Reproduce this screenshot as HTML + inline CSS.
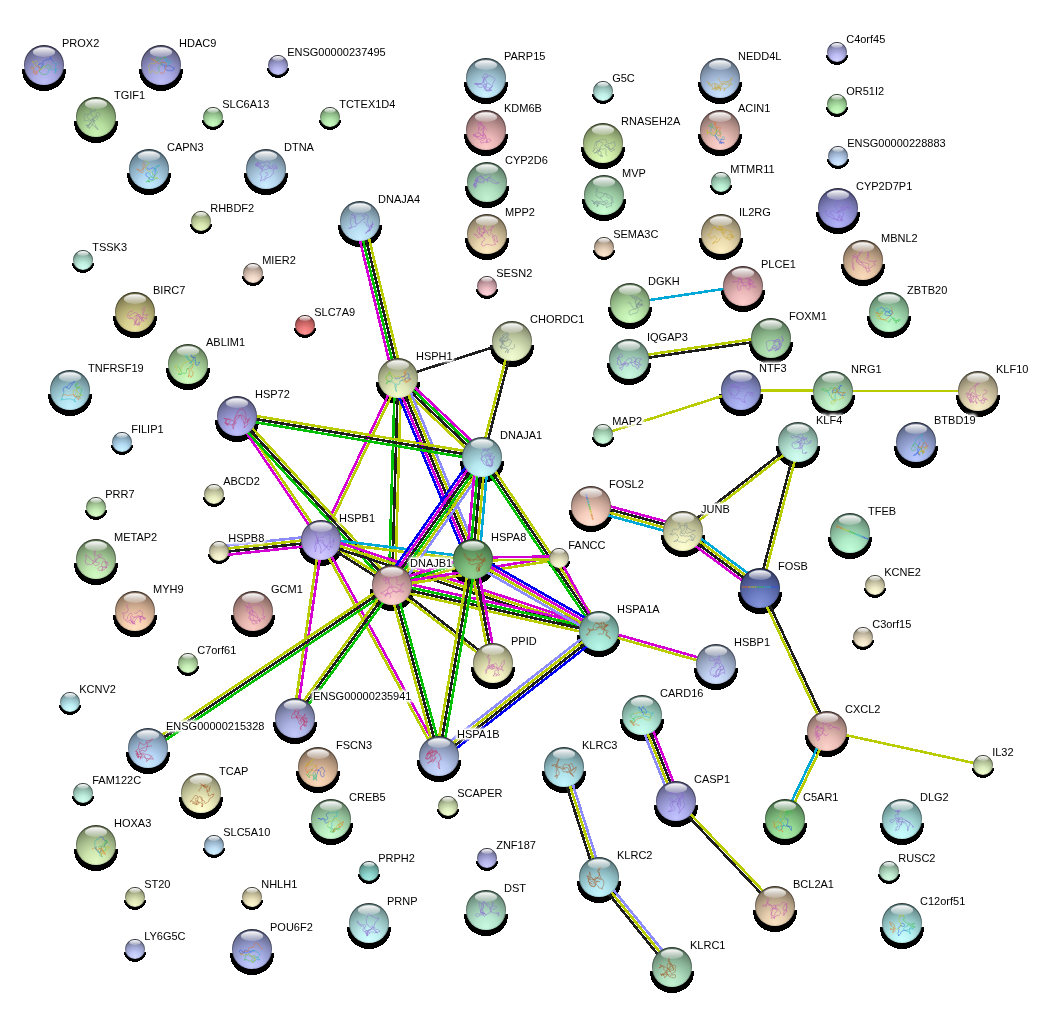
<!DOCTYPE html><html><head><meta charset="utf-8"><style>html,body{margin:0;padding:0;background:#fff;width:1053px;height:1012px;overflow:hidden;position:relative}svg{display:block;position:absolute;left:0;top:0}.lb{position:absolute;font-family:"Liberation Sans",sans-serif;font-size:11px;line-height:13px;color:#000;white-space:nowrap;text-shadow:0 0 2px #fff}svg text{font-family:"Liberation Sans",sans-serif;font-size:11px;fill:#000}svg .halo text{fill:#fff;stroke:#fff;stroke-width:4px;stroke-linejoin:round}</style></head><body>
<svg width="1053" height="1012" viewBox="0 0 1053 1012">
<defs>
<linearGradient id="hl" x1="0" y1="0" x2="0" y2="1"><stop offset="0" stop-color="#fff" stop-opacity="1"/><stop offset="1" stop-color="#fff" stop-opacity=".2"/></linearGradient>
<radialGradient id="g0" cx="0.5" cy="0.85" r="0.9" fx="0.5" fy="0.92"><stop offset="0" stop-color="#bfbff7"/><stop offset="0.3" stop-color="#aaaae4"/><stop offset="0.6" stop-color="#8686b8"/><stop offset="0.85" stop-color="#616185"/><stop offset="1" stop-color="#42425a"/></radialGradient>
<radialGradient id="g1" cx="0.5" cy="0.85" r="0.9" fx="0.5" fy="0.92"><stop offset="0" stop-color="#cacaff"/><stop offset="0.3" stop-color="#b6b6ee"/><stop offset="0.6" stop-color="#9090c1"/><stop offset="0.85" stop-color="#68688b"/><stop offset="1" stop-color="#47475e"/></radialGradient>
<radialGradient id="g2" cx="0.5" cy="0.85" r="0.9" fx="0.5" fy="0.92"><stop offset="0" stop-color="#caf2b3"/><stop offset="0.3" stop-color="#b6de9e"/><stop offset="0.6" stop-color="#90b37c"/><stop offset="0.85" stop-color="#688159"/><stop offset="1" stop-color="#47573c"/></radialGradient>
<radialGradient id="g3" cx="0.5" cy="0.85" r="0.9" fx="0.5" fy="0.92"><stop offset="0" stop-color="#cafdc3"/><stop offset="0.3" stop-color="#b6eaae"/><stop offset="0.6" stop-color="#90bd8a"/><stop offset="0.85" stop-color="#688863"/><stop offset="1" stop-color="#475c43"/></radialGradient>
<radialGradient id="g4" cx="0.5" cy="0.85" r="0.9" fx="0.5" fy="0.92"><stop offset="0" stop-color="#c3eaff"/><stop offset="0.3" stop-color="#aed6ee"/><stop offset="0.6" stop-color="#8aacc1"/><stop offset="0.85" stop-color="#637c8b"/><stop offset="1" stop-color="#43545e"/></radialGradient>
<radialGradient id="g5" cx="0.5" cy="0.85" r="0.9" fx="0.5" fy="0.92"><stop offset="0" stop-color="#caeaff"/><stop offset="0.3" stop-color="#b6d6ee"/><stop offset="0.6" stop-color="#90acc1"/><stop offset="0.85" stop-color="#687c8b"/><stop offset="1" stop-color="#47545e"/></radialGradient>
<radialGradient id="g6" cx="0.5" cy="0.85" r="0.9" fx="0.5" fy="0.92"><stop offset="0" stop-color="#eaf9c3"/><stop offset="0.3" stop-color="#d6e6ae"/><stop offset="0.6" stop-color="#acba8a"/><stop offset="0.85" stop-color="#7c8663"/><stop offset="1" stop-color="#545b43"/></radialGradient>
<radialGradient id="g7" cx="0.5" cy="0.85" r="0.9" fx="0.5" fy="0.92"><stop offset="0" stop-color="#caeeff"/><stop offset="0.3" stop-color="#b6daee"/><stop offset="0.6" stop-color="#90afc1"/><stop offset="0.85" stop-color="#687e8b"/><stop offset="1" stop-color="#47565e"/></radialGradient>
<radialGradient id="g8" cx="0.5" cy="0.85" r="0.9" fx="0.5" fy="0.92"><stop offset="0" stop-color="#caf2ff"/><stop offset="0.3" stop-color="#b6deee"/><stop offset="0.6" stop-color="#90b3c1"/><stop offset="0.85" stop-color="#68818b"/><stop offset="1" stop-color="#47575e"/></radialGradient>
<radialGradient id="g9" cx="0.5" cy="0.85" r="0.9" fx="0.5" fy="0.92"><stop offset="0" stop-color="#fdcaca"/><stop offset="0.3" stop-color="#eab6b6"/><stop offset="0.6" stop-color="#bd9090"/><stop offset="0.85" stop-color="#886868"/><stop offset="1" stop-color="#5c4747"/></radialGradient>
<radialGradient id="g10" cx="0.5" cy="0.85" r="0.9" fx="0.5" fy="0.92"><stop offset="0" stop-color="#c3f2d2"/><stop offset="0.3" stop-color="#aedebe"/><stop offset="0.6" stop-color="#8ab397"/><stop offset="0.85" stop-color="#63816d"/><stop offset="1" stop-color="#43574a"/></radialGradient>
<radialGradient id="g11" cx="0.5" cy="0.85" r="0.9" fx="0.5" fy="0.92"><stop offset="0" stop-color="#fdeac3"/><stop offset="0.3" stop-color="#ead6ae"/><stop offset="0.6" stop-color="#bdac8a"/><stop offset="0.85" stop-color="#887c63"/><stop offset="1" stop-color="#5c5443"/></radialGradient>
<radialGradient id="g12" cx="0.5" cy="0.85" r="0.9" fx="0.5" fy="0.92"><stop offset="0" stop-color="#d2fff9"/><stop offset="0.3" stop-color="#beeee6"/><stop offset="0.6" stop-color="#97c1ba"/><stop offset="0.85" stop-color="#6d8b86"/><stop offset="1" stop-color="#4a5e5b"/></radialGradient>
<radialGradient id="g13" cx="0.5" cy="0.85" r="0.9" fx="0.5" fy="0.92"><stop offset="0" stop-color="#cae2ff"/><stop offset="0.3" stop-color="#b6ceee"/><stop offset="0.6" stop-color="#90a5c1"/><stop offset="0.85" stop-color="#68778b"/><stop offset="1" stop-color="#47515e"/></radialGradient>
<radialGradient id="g14" cx="0.5" cy="0.85" r="0.9" fx="0.5" fy="0.92"><stop offset="0" stop-color="#e2fdbb"/><stop offset="0.3" stop-color="#ceeaa6"/><stop offset="0.6" stop-color="#a5bd83"/><stop offset="0.85" stop-color="#77885e"/><stop offset="1" stop-color="#515c40"/></radialGradient>
<radialGradient id="g15" cx="0.5" cy="0.85" r="0.9" fx="0.5" fy="0.92"><stop offset="0" stop-color="#fdd2ca"/><stop offset="0.3" stop-color="#eabeb6"/><stop offset="0.6" stop-color="#bd9790"/><stop offset="0.85" stop-color="#886d68"/><stop offset="1" stop-color="#5c4a47"/></radialGradient>
<radialGradient id="g16" cx="0.5" cy="0.85" r="0.9" fx="0.5" fy="0.92"><stop offset="0" stop-color="#cafde2"/><stop offset="0.3" stop-color="#b6eace"/><stop offset="0.6" stop-color="#90bda5"/><stop offset="0.85" stop-color="#688877"/><stop offset="1" stop-color="#475c51"/></radialGradient>
<radialGradient id="g17" cx="0.5" cy="0.85" r="0.9" fx="0.5" fy="0.92"><stop offset="0" stop-color="#cafdd2"/><stop offset="0.3" stop-color="#b6eabe"/><stop offset="0.6" stop-color="#90bd97"/><stop offset="0.85" stop-color="#68886d"/><stop offset="1" stop-color="#475c4a"/></radialGradient>
<radialGradient id="g18" cx="0.5" cy="0.85" r="0.9" fx="0.5" fy="0.92"><stop offset="0" stop-color="#fdeec3"/><stop offset="0.3" stop-color="#eadaae"/><stop offset="0.6" stop-color="#bdaf8a"/><stop offset="0.85" stop-color="#887e63"/><stop offset="1" stop-color="#5c5643"/></radialGradient>
<radialGradient id="g19" cx="0.5" cy="0.85" r="0.9" fx="0.5" fy="0.92"><stop offset="0" stop-color="#ffead2"/><stop offset="0.3" stop-color="#eed6be"/><stop offset="0.6" stop-color="#c1ac97"/><stop offset="0.85" stop-color="#8b7c6d"/><stop offset="1" stop-color="#5e544a"/></radialGradient>
<radialGradient id="g20" cx="0.5" cy="0.85" r="0.9" fx="0.5" fy="0.92"><stop offset="0" stop-color="#d2d2ff"/><stop offset="0.3" stop-color="#bebef6"/><stop offset="0.6" stop-color="#9797c8"/><stop offset="0.85" stop-color="#6d6d90"/><stop offset="1" stop-color="#4a4a61"/></radialGradient>
<radialGradient id="g21" cx="0.5" cy="0.85" r="0.9" fx="0.5" fy="0.92"><stop offset="0" stop-color="#caffc3"/><stop offset="0.3" stop-color="#b6eeae"/><stop offset="0.6" stop-color="#90c18a"/><stop offset="0.85" stop-color="#688b63"/><stop offset="1" stop-color="#475e43"/></radialGradient>
<radialGradient id="g22" cx="0.5" cy="0.85" r="0.9" fx="0.5" fy="0.92"><stop offset="0" stop-color="#d2eaff"/><stop offset="0.3" stop-color="#bed6f6"/><stop offset="0.6" stop-color="#97acc8"/><stop offset="0.85" stop-color="#6d7c90"/><stop offset="1" stop-color="#4a5461"/></radialGradient>
<radialGradient id="g23" cx="0.5" cy="0.85" r="0.9" fx="0.5" fy="0.92"><stop offset="0" stop-color="#b3b3f9"/><stop offset="0.3" stop-color="#9e9ee6"/><stop offset="0.6" stop-color="#7c7cba"/><stop offset="0.85" stop-color="#595986"/><stop offset="1" stop-color="#3c3c5b"/></radialGradient>
<radialGradient id="g24" cx="0.5" cy="0.85" r="0.9" fx="0.5" fy="0.92"><stop offset="0" stop-color="#f9dabb"/><stop offset="0.3" stop-color="#e6c6a6"/><stop offset="0.6" stop-color="#ba9e83"/><stop offset="0.85" stop-color="#86725e"/><stop offset="1" stop-color="#5b4d40"/></radialGradient>
<radialGradient id="g25" cx="0.5" cy="0.85" r="0.9" fx="0.5" fy="0.92"><stop offset="0" stop-color="#c3fdd2"/><stop offset="0.3" stop-color="#aeeabe"/><stop offset="0.6" stop-color="#8abd97"/><stop offset="0.85" stop-color="#63886d"/><stop offset="1" stop-color="#435c4a"/></radialGradient>
<radialGradient id="g26" cx="0.5" cy="0.85" r="0.9" fx="0.5" fy="0.92"><stop offset="0" stop-color="#d2fff2"/><stop offset="0.3" stop-color="#beeede"/><stop offset="0.6" stop-color="#97c1b3"/><stop offset="0.85" stop-color="#6d8b81"/><stop offset="1" stop-color="#4a5e57"/></radialGradient>
<radialGradient id="g27" cx="0.5" cy="0.85" r="0.9" fx="0.5" fy="0.92"><stop offset="0" stop-color="#ffeada"/><stop offset="0.3" stop-color="#eed6c6"/><stop offset="0.6" stop-color="#c1ac9e"/><stop offset="0.85" stop-color="#8b7c72"/><stop offset="1" stop-color="#5e544d"/></radialGradient>
<radialGradient id="g28" cx="0.5" cy="0.85" r="0.9" fx="0.5" fy="0.92"><stop offset="0" stop-color="#eae2a3"/><stop offset="0.3" stop-color="#d6ce8e"/><stop offset="0.6" stop-color="#aca56e"/><stop offset="0.85" stop-color="#7c774f"/><stop offset="1" stop-color="#545136"/></radialGradient>
<radialGradient id="g29" cx="0.5" cy="0.85" r="0.9" fx="0.5" fy="0.92"><stop offset="0" stop-color="#d2fdc3"/><stop offset="0.3" stop-color="#beeaae"/><stop offset="0.6" stop-color="#97bd8a"/><stop offset="0.85" stop-color="#6d8863"/><stop offset="1" stop-color="#4a5c43"/></radialGradient>
<radialGradient id="g30" cx="0.5" cy="0.85" r="0.9" fx="0.5" fy="0.92"><stop offset="0" stop-color="#c3f2fd"/><stop offset="0.3" stop-color="#aedeea"/><stop offset="0.6" stop-color="#8ab3bd"/><stop offset="0.85" stop-color="#638188"/><stop offset="1" stop-color="#43575c"/></radialGradient>
<radialGradient id="g31" cx="0.5" cy="0.85" r="0.9" fx="0.5" fy="0.92"><stop offset="0" stop-color="#bfbffd"/><stop offset="0.3" stop-color="#aaaaea"/><stop offset="0.6" stop-color="#8686bd"/><stop offset="0.85" stop-color="#616188"/><stop offset="1" stop-color="#42425c"/></radialGradient>
<radialGradient id="g32" cx="0.5" cy="0.85" r="0.9" fx="0.5" fy="0.92"><stop offset="0" stop-color="#caf2ff"/><stop offset="0.3" stop-color="#b6def6"/><stop offset="0.6" stop-color="#90b3c8"/><stop offset="0.85" stop-color="#688190"/><stop offset="1" stop-color="#475761"/></radialGradient>
<radialGradient id="g33" cx="0.5" cy="0.85" r="0.9" fx="0.5" fy="0.92"><stop offset="0" stop-color="#f9fdd2"/><stop offset="0.3" stop-color="#e6eabe"/><stop offset="0.6" stop-color="#babd97"/><stop offset="0.85" stop-color="#86886d"/><stop offset="1" stop-color="#5b5c4a"/></radialGradient>
<radialGradient id="g34" cx="0.5" cy="0.85" r="0.9" fx="0.5" fy="0.92"><stop offset="0" stop-color="#ff9494"/><stop offset="0.3" stop-color="#ee7e7e"/><stop offset="0.6" stop-color="#c16060"/><stop offset="0.85" stop-color="#8b4545"/><stop offset="1" stop-color="#5e2f2f"/></radialGradient>
<radialGradient id="g35" cx="0.5" cy="0.85" r="0.9" fx="0.5" fy="0.92"><stop offset="0" stop-color="#ffd2da"/><stop offset="0.3" stop-color="#eebec6"/><stop offset="0.6" stop-color="#c1979e"/><stop offset="0.85" stop-color="#8b6d72"/><stop offset="1" stop-color="#5e4a4d"/></radialGradient>
<radialGradient id="g36" cx="0.5" cy="0.85" r="0.9" fx="0.5" fy="0.92"><stop offset="0" stop-color="#f2f9ca"/><stop offset="0.3" stop-color="#dee6b6"/><stop offset="0.6" stop-color="#b3ba90"/><stop offset="0.85" stop-color="#818668"/><stop offset="1" stop-color="#575b47"/></radialGradient>
<radialGradient id="g37" cx="0.5" cy="0.85" r="0.9" fx="0.5" fy="0.92"><stop offset="0" stop-color="#f2fdd2"/><stop offset="0.3" stop-color="#deeabe"/><stop offset="0.6" stop-color="#b3bd97"/><stop offset="0.85" stop-color="#81886d"/><stop offset="1" stop-color="#575c4a"/></radialGradient>
<radialGradient id="g38" cx="0.5" cy="0.85" r="0.9" fx="0.5" fy="0.92"><stop offset="0" stop-color="#caf9ff"/><stop offset="0.3" stop-color="#b6e6ee"/><stop offset="0.6" stop-color="#90bac1"/><stop offset="0.85" stop-color="#68868b"/><stop offset="1" stop-color="#475b5e"/></radialGradient>
<radialGradient id="g39" cx="0.5" cy="0.85" r="0.9" fx="0.5" fy="0.92"><stop offset="0" stop-color="#fdcccc"/><stop offset="0.3" stop-color="#eab8b8"/><stop offset="0.6" stop-color="#bd9292"/><stop offset="0.85" stop-color="#886969"/><stop offset="1" stop-color="#5c4747"/></radialGradient>
<radialGradient id="g40" cx="0.5" cy="0.85" r="0.9" fx="0.5" fy="0.92"><stop offset="0" stop-color="#caf9e2"/><stop offset="0.3" stop-color="#b6e6ce"/><stop offset="0.6" stop-color="#90baa5"/><stop offset="0.85" stop-color="#688677"/><stop offset="1" stop-color="#475b51"/></radialGradient>
<radialGradient id="g41" cx="0.5" cy="0.85" r="0.9" fx="0.5" fy="0.92"><stop offset="0" stop-color="#bbeabb"/><stop offset="0.3" stop-color="#a6d6a6"/><stop offset="0.6" stop-color="#83ac83"/><stop offset="0.85" stop-color="#5e7c5e"/><stop offset="1" stop-color="#405440"/></radialGradient>
<radialGradient id="g42" cx="0.5" cy="0.85" r="0.9" fx="0.5" fy="0.92"><stop offset="0" stop-color="#b3bbf9"/><stop offset="0.3" stop-color="#9ea6e6"/><stop offset="0.6" stop-color="#7c83ba"/><stop offset="0.85" stop-color="#595e86"/><stop offset="1" stop-color="#3c405b"/></radialGradient>
<radialGradient id="g43" cx="0.5" cy="0.85" r="0.9" fx="0.5" fy="0.92"><stop offset="0" stop-color="#d2ffe2"/><stop offset="0.3" stop-color="#beeece"/><stop offset="0.6" stop-color="#97c1a5"/><stop offset="0.85" stop-color="#6d8b77"/><stop offset="1" stop-color="#4a5e51"/></radialGradient>
<radialGradient id="g44" cx="0.5" cy="0.85" r="0.9" fx="0.5" fy="0.92"><stop offset="0" stop-color="#caf9d2"/><stop offset="0.3" stop-color="#b6e6be"/><stop offset="0.6" stop-color="#90ba97"/><stop offset="0.85" stop-color="#68866d"/><stop offset="1" stop-color="#475b4a"/></radialGradient>
<radialGradient id="g45" cx="0.5" cy="0.85" r="0.9" fx="0.5" fy="0.92"><stop offset="0" stop-color="#f9eeca"/><stop offset="0.3" stop-color="#e6dab6"/><stop offset="0.6" stop-color="#baaf90"/><stop offset="0.85" stop-color="#867e68"/><stop offset="1" stop-color="#5b5647"/></radialGradient>
<radialGradient id="g46" cx="0.5" cy="0.85" r="0.9" fx="0.5" fy="0.92"><stop offset="0" stop-color="#bbcafd"/><stop offset="0.3" stop-color="#a6b6ea"/><stop offset="0.6" stop-color="#8390bd"/><stop offset="0.85" stop-color="#5e6888"/><stop offset="1" stop-color="#40475c"/></radialGradient>
<radialGradient id="g47" cx="0.5" cy="0.85" r="0.9" fx="0.5" fy="0.92"><stop offset="0" stop-color="#daffca"/><stop offset="0.3" stop-color="#c6eeb6"/><stop offset="0.6" stop-color="#9ec190"/><stop offset="0.85" stop-color="#728b68"/><stop offset="1" stop-color="#4d5e47"/></radialGradient>
<radialGradient id="g48" cx="0.5" cy="0.85" r="0.9" fx="0.5" fy="0.92"><stop offset="0" stop-color="#d2f9c3"/><stop offset="0.3" stop-color="#bee6ae"/><stop offset="0.6" stop-color="#97ba8a"/><stop offset="0.85" stop-color="#6d8663"/><stop offset="1" stop-color="#4a5b43"/></radialGradient>
<radialGradient id="g49" cx="0.5" cy="0.85" r="0.9" fx="0.5" fy="0.92"><stop offset="0" stop-color="#fffdda"/><stop offset="0.3" stop-color="#eeeac6"/><stop offset="0.6" stop-color="#c1bd9e"/><stop offset="0.85" stop-color="#8b8872"/><stop offset="1" stop-color="#5e5c4d"/></radialGradient>
<radialGradient id="g50" cx="0.5" cy="0.85" r="0.9" fx="0.5" fy="0.92"><stop offset="0" stop-color="#ffe2c3"/><stop offset="0.3" stop-color="#f6ceae"/><stop offset="0.6" stop-color="#c8a58a"/><stop offset="0.85" stop-color="#907763"/><stop offset="1" stop-color="#615143"/></radialGradient>
<radialGradient id="g51" cx="0.5" cy="0.85" r="0.9" fx="0.5" fy="0.92"><stop offset="0" stop-color="#f9cac3"/><stop offset="0.3" stop-color="#e6b6ae"/><stop offset="0.6" stop-color="#ba908a"/><stop offset="0.85" stop-color="#866863"/><stop offset="1" stop-color="#5b4743"/></radialGradient>
<radialGradient id="g52" cx="0.5" cy="0.85" r="0.9" fx="0.5" fy="0.92"><stop offset="0" stop-color="#d2ffff"/><stop offset="0.3" stop-color="#beeef6"/><stop offset="0.6" stop-color="#97c1c8"/><stop offset="0.85" stop-color="#6d8b90"/><stop offset="1" stop-color="#4a5e61"/></radialGradient>
<radialGradient id="g53" cx="0.5" cy="0.85" r="0.9" fx="0.5" fy="0.92"><stop offset="0" stop-color="#d2caff"/><stop offset="0.3" stop-color="#beb6f6"/><stop offset="0.6" stop-color="#9790c8"/><stop offset="0.85" stop-color="#6d6890"/><stop offset="1" stop-color="#4a4761"/></radialGradient>
<radialGradient id="g54" cx="0.5" cy="0.85" r="0.9" fx="0.5" fy="0.92"><stop offset="0" stop-color="#ffd2d2"/><stop offset="0.3" stop-color="#eebebe"/><stop offset="0.6" stop-color="#c19797"/><stop offset="0.85" stop-color="#8b6d6d"/><stop offset="1" stop-color="#5e4a4a"/></radialGradient>
<radialGradient id="g55" cx="0.5" cy="0.85" r="0.9" fx="0.5" fy="0.92"><stop offset="0" stop-color="#94d294"/><stop offset="0.3" stop-color="#7ebe7e"/><stop offset="0.6" stop-color="#609760"/><stop offset="0.85" stop-color="#456d45"/><stop offset="1" stop-color="#2f4a2f"/></radialGradient>
<radialGradient id="g56" cx="0.5" cy="0.85" r="0.9" fx="0.5" fy="0.92"><stop offset="0" stop-color="#ffffd2"/><stop offset="0.3" stop-color="#eeeebe"/><stop offset="0.6" stop-color="#c1c197"/><stop offset="0.85" stop-color="#8b8b6d"/><stop offset="1" stop-color="#5e5e4a"/></radialGradient>
<radialGradient id="g57" cx="0.5" cy="0.85" r="0.9" fx="0.5" fy="0.92"><stop offset="0" stop-color="#c3caf9"/><stop offset="0.3" stop-color="#aeb6e6"/><stop offset="0.6" stop-color="#8a90ba"/><stop offset="0.85" stop-color="#636886"/><stop offset="1" stop-color="#43475b"/></radialGradient>
<radialGradient id="g58" cx="0.5" cy="0.85" r="0.9" fx="0.5" fy="0.92"><stop offset="0" stop-color="#ffe2d2"/><stop offset="0.3" stop-color="#f6cebe"/><stop offset="0.6" stop-color="#c8a597"/><stop offset="0.85" stop-color="#90776d"/><stop offset="1" stop-color="#61514a"/></radialGradient>
<radialGradient id="g59" cx="0.5" cy="0.85" r="0.9" fx="0.5" fy="0.92"><stop offset="0" stop-color="#8494da"/><stop offset="0.3" stop-color="#6d7ec6"/><stop offset="0.6" stop-color="#53609e"/><stop offset="0.85" stop-color="#3c4572"/><stop offset="1" stop-color="#282f4d"/></radialGradient>
<radialGradient id="g60" cx="0.5" cy="0.85" r="0.9" fx="0.5" fy="0.92"><stop offset="0" stop-color="#b9f8ea"/><stop offset="0.3" stop-color="#a4e5d6"/><stop offset="0.6" stop-color="#81b9ac"/><stop offset="0.85" stop-color="#5d857c"/><stop offset="1" stop-color="#3f5a54"/></radialGradient>
<radialGradient id="g61" cx="0.5" cy="0.85" r="0.9" fx="0.5" fy="0.92"><stop offset="0" stop-color="#d2e2ff"/><stop offset="0.3" stop-color="#beceee"/><stop offset="0.6" stop-color="#97a5c1"/><stop offset="0.85" stop-color="#6d778b"/><stop offset="1" stop-color="#4a515e"/></radialGradient>
<radialGradient id="g62" cx="0.5" cy="0.85" r="0.9" fx="0.5" fy="0.92"><stop offset="0" stop-color="#cafff2"/><stop offset="0.3" stop-color="#b6eede"/><stop offset="0.6" stop-color="#90c1b3"/><stop offset="0.85" stop-color="#688b81"/><stop offset="1" stop-color="#475e57"/></radialGradient>
<radialGradient id="g63" cx="0.5" cy="0.85" r="0.9" fx="0.5" fy="0.92"><stop offset="0" stop-color="#c3fdda"/><stop offset="0.3" stop-color="#aeeac6"/><stop offset="0.6" stop-color="#8abd9e"/><stop offset="0.85" stop-color="#638872"/><stop offset="1" stop-color="#435c4d"/></radialGradient>
<radialGradient id="g64" cx="0.5" cy="0.85" r="0.9" fx="0.5" fy="0.92"><stop offset="0" stop-color="#fff5da"/><stop offset="0.3" stop-color="#eee2c6"/><stop offset="0.6" stop-color="#c1b69e"/><stop offset="0.85" stop-color="#8b8372"/><stop offset="1" stop-color="#5e594d"/></radialGradient>
<radialGradient id="g65" cx="0.5" cy="0.85" r="0.9" fx="0.5" fy="0.92"><stop offset="0" stop-color="#caeaff"/><stop offset="0.3" stop-color="#b6d6f6"/><stop offset="0.6" stop-color="#90acc8"/><stop offset="0.85" stop-color="#687c90"/><stop offset="1" stop-color="#475461"/></radialGradient>
<radialGradient id="g66" cx="0.5" cy="0.85" r="0.9" fx="0.5" fy="0.92"><stop offset="0" stop-color="#e2f9c3"/><stop offset="0.3" stop-color="#cee6ae"/><stop offset="0.6" stop-color="#a5ba8a"/><stop offset="0.85" stop-color="#778663"/><stop offset="1" stop-color="#515b43"/></radialGradient>
<radialGradient id="g67" cx="0.5" cy="0.85" r="0.9" fx="0.5" fy="0.92"><stop offset="0" stop-color="#d2f2ff"/><stop offset="0.3" stop-color="#bedef6"/><stop offset="0.6" stop-color="#97b3c8"/><stop offset="0.85" stop-color="#6d8190"/><stop offset="1" stop-color="#4a5761"/></radialGradient>
<radialGradient id="g68" cx="0.5" cy="0.85" r="0.9" fx="0.5" fy="0.92"><stop offset="0" stop-color="#fff9d2"/><stop offset="0.3" stop-color="#eee6be"/><stop offset="0.6" stop-color="#c1ba97"/><stop offset="0.85" stop-color="#8b866d"/><stop offset="1" stop-color="#5e5b4a"/></radialGradient>
<radialGradient id="g69" cx="0.5" cy="0.85" r="0.9" fx="0.5" fy="0.92"><stop offset="0" stop-color="#d2daff"/><stop offset="0.3" stop-color="#bec6f6"/><stop offset="0.6" stop-color="#979ec8"/><stop offset="0.85" stop-color="#6d7290"/><stop offset="1" stop-color="#4a4d61"/></radialGradient>
<radialGradient id="g70" cx="0.5" cy="0.85" r="0.9" fx="0.5" fy="0.92"><stop offset="0" stop-color="#c3caff"/><stop offset="0.3" stop-color="#aeb6ee"/><stop offset="0.6" stop-color="#8a90c1"/><stop offset="0.85" stop-color="#63688b"/><stop offset="1" stop-color="#43475e"/></radialGradient>
<radialGradient id="g71" cx="0.5" cy="0.85" r="0.9" fx="0.5" fy="0.92"><stop offset="0" stop-color="#fddabb"/><stop offset="0.3" stop-color="#eac6a6"/><stop offset="0.6" stop-color="#bd9e83"/><stop offset="0.85" stop-color="#88725e"/><stop offset="1" stop-color="#5c4d40"/></radialGradient>
<radialGradient id="g72" cx="0.5" cy="0.85" r="0.9" fx="0.5" fy="0.92"><stop offset="0" stop-color="#cadaff"/><stop offset="0.3" stop-color="#b6c6ee"/><stop offset="0.6" stop-color="#909ec1"/><stop offset="0.85" stop-color="#68728b"/><stop offset="1" stop-color="#474d5e"/></radialGradient>
<radialGradient id="g73" cx="0.5" cy="0.85" r="0.9" fx="0.5" fy="0.92"><stop offset="0" stop-color="#f2ffd2"/><stop offset="0.3" stop-color="#deeebe"/><stop offset="0.6" stop-color="#b3c197"/><stop offset="0.85" stop-color="#818b6d"/><stop offset="1" stop-color="#575e4a"/></radialGradient>
<radialGradient id="g74" cx="0.5" cy="0.85" r="0.9" fx="0.5" fy="0.92"><stop offset="0" stop-color="#a3eae2"/><stop offset="0.3" stop-color="#8ed6ce"/><stop offset="0.6" stop-color="#6eaca5"/><stop offset="0.85" stop-color="#4f7c77"/><stop offset="1" stop-color="#365451"/></radialGradient>
<radialGradient id="g75" cx="0.5" cy="0.85" r="0.9" fx="0.5" fy="0.92"><stop offset="0" stop-color="#d2ffff"/><stop offset="0.3" stop-color="#beeeee"/><stop offset="0.6" stop-color="#97c1c1"/><stop offset="0.85" stop-color="#6d8b8b"/><stop offset="1" stop-color="#4a5e5e"/></radialGradient>
<radialGradient id="g76" cx="0.5" cy="0.85" r="0.9" fx="0.5" fy="0.92"><stop offset="0" stop-color="#c3f5fd"/><stop offset="0.3" stop-color="#aee2ea"/><stop offset="0.6" stop-color="#8ab6bd"/><stop offset="0.85" stop-color="#638388"/><stop offset="1" stop-color="#43595c"/></radialGradient>
<radialGradient id="g77" cx="0.5" cy="0.85" r="0.9" fx="0.5" fy="0.92"><stop offset="0" stop-color="#c3c3ff"/><stop offset="0.3" stop-color="#aeaeee"/><stop offset="0.6" stop-color="#8a8ac1"/><stop offset="0.85" stop-color="#63638b"/><stop offset="1" stop-color="#43435e"/></radialGradient>
<radialGradient id="g78" cx="0.5" cy="0.85" r="0.9" fx="0.5" fy="0.92"><stop offset="0" stop-color="#f9e2c3"/><stop offset="0.3" stop-color="#e6ceae"/><stop offset="0.6" stop-color="#baa58a"/><stop offset="0.85" stop-color="#867763"/><stop offset="1" stop-color="#5b5143"/></radialGradient>
<radialGradient id="g79" cx="0.5" cy="0.85" r="0.9" fx="0.5" fy="0.92"><stop offset="0" stop-color="#abeeab"/><stop offset="0.3" stop-color="#96da96"/><stop offset="0.6" stop-color="#75af75"/><stop offset="0.85" stop-color="#547e54"/><stop offset="1" stop-color="#395639"/></radialGradient>
<radialGradient id="g80" cx="0.5" cy="0.85" r="0.9" fx="0.5" fy="0.92"><stop offset="0" stop-color="#caffff"/><stop offset="0.3" stop-color="#b6eeee"/><stop offset="0.6" stop-color="#90c1c1"/><stop offset="0.85" stop-color="#688b8b"/><stop offset="1" stop-color="#475e5e"/></radialGradient>
<radialGradient id="g81" cx="0.5" cy="0.85" r="0.9" fx="0.5" fy="0.92"><stop offset="0" stop-color="#d2fde2"/><stop offset="0.3" stop-color="#beeace"/><stop offset="0.6" stop-color="#97bda5"/><stop offset="0.85" stop-color="#6d8877"/><stop offset="1" stop-color="#4a5c51"/></radialGradient>
<linearGradient id="rim" x1="0" y1="0" x2="0" y2="1"><stop offset="0" stop-color="#000" stop-opacity=".5"/><stop offset=".6" stop-color="#000" stop-opacity=".25"/><stop offset="1" stop-color="#000" stop-opacity=".05"/></linearGradient>
<filter id="blur" x="-10%" y="-50%" width="120%" height="200%"><feGaussianBlur stdDeviation="1.5"/><feComponentTransfer><feFuncA type="linear" slope="1.2"/></feComponentTransfer></filter>
</defs>
<g fill="#000" shape-rendering="crispEdges">
<path d="M22.04 69.00 H65.96 A22.00 20.80 0 1 1 22.04 69.00 Z"/>
<path d="M139.04 69.00 H182.96 A22.00 20.80 0 1 1 139.04 69.00 Z"/>
<path d="M267.00 67.70 H289.00 A11.00 10.40 0 1 1 267.00 67.70 Z"/>
<path d="M74.04 121.00 H117.96 A22.00 20.80 0 1 1 74.04 121.00 Z"/>
<path d="M202.00 119.70 H224.00 A11.00 10.40 0 1 1 202.00 119.70 Z"/>
<path d="M319.00 119.70 H341.00 A11.00 10.40 0 1 1 319.00 119.70 Z"/>
<path d="M127.04 173.00 H170.96 A22.00 20.80 0 1 1 127.04 173.00 Z"/>
<path d="M244.04 173.00 H287.96 A22.00 20.80 0 1 1 244.04 173.00 Z"/>
<path d="M190.00 223.70 H212.00 A11.00 10.40 0 1 1 190.00 223.70 Z"/>
<path d="M338.04 225.00 H381.96 A22.00 20.80 0 1 1 338.04 225.00 Z"/>
<path d="M464.04 82.00 H507.96 A22.00 20.80 0 1 1 464.04 82.00 Z"/>
<path d="M464.04 134.00 H507.96 A22.00 20.80 0 1 1 464.04 134.00 Z"/>
<path d="M465.04 186.00 H508.96 A22.00 20.80 0 1 1 465.04 186.00 Z"/>
<path d="M465.04 238.00 H508.96 A22.00 20.80 0 1 1 465.04 238.00 Z"/>
<path d="M592.00 93.70 H614.00 A11.00 10.40 0 1 1 592.00 93.70 Z"/>
<path d="M698.04 82.00 H741.96 A22.00 20.80 0 1 1 698.04 82.00 Z"/>
<path d="M581.04 147.00 H624.96 A22.00 20.80 0 1 1 581.04 147.00 Z"/>
<path d="M698.04 134.00 H741.96 A22.00 20.80 0 1 1 698.04 134.00 Z"/>
<path d="M710.00 184.70 H732.00 A11.00 10.40 0 1 1 710.00 184.70 Z"/>
<path d="M582.04 199.00 H625.96 A22.00 20.80 0 1 1 582.04 199.00 Z"/>
<path d="M699.04 238.00 H742.96 A22.00 20.80 0 1 1 699.04 238.00 Z"/>
<path d="M593.00 249.70 H615.00 A11.00 10.40 0 1 1 593.00 249.70 Z"/>
<path d="M826.00 54.70 H848.00 A11.00 10.40 0 1 1 826.00 54.70 Z"/>
<path d="M826.00 106.70 H848.00 A11.00 10.40 0 1 1 826.00 106.70 Z"/>
<path d="M827.00 158.70 H849.00 A11.00 10.40 0 1 1 827.00 158.70 Z"/>
<path d="M816.04 212.00 H859.96 A22.00 20.80 0 1 1 816.04 212.00 Z"/>
<path d="M841.04 264.00 H884.96 A22.00 20.80 0 1 1 841.04 264.00 Z"/>
<path d="M867.04 316.00 H910.96 A22.00 20.80 0 1 1 867.04 316.00 Z"/>
<path d="M72.00 262.70 H94.00 A11.00 10.40 0 1 1 72.00 262.70 Z"/>
<path d="M242.00 275.70 H264.00 A11.00 10.40 0 1 1 242.00 275.70 Z"/>
<path d="M113.04 316.00 H156.96 A22.00 20.80 0 1 1 113.04 316.00 Z"/>
<path d="M166.04 368.00 H209.96 A22.00 20.80 0 1 1 166.04 368.00 Z"/>
<path d="M48.04 394.00 H91.96 A22.00 20.80 0 1 1 48.04 394.00 Z"/>
<path d="M215.04 420.00 H258.96 A22.00 20.80 0 1 1 215.04 420.00 Z"/>
<path d="M111.00 444.70 H133.00 A11.00 10.40 0 1 1 111.00 444.70 Z"/>
<path d="M203.00 496.70 H225.00 A11.00 10.40 0 1 1 203.00 496.70 Z"/>
<path d="M294.00 327.70 H316.00 A11.00 10.40 0 1 1 294.00 327.70 Z"/>
<path d="M476.00 288.70 H498.00 A11.00 10.40 0 1 1 476.00 288.70 Z"/>
<path d="M376.04 382.00 H419.96 A22.00 20.80 0 1 1 376.04 382.00 Z"/>
<path d="M490.04 345.00 H533.96 A22.00 20.80 0 1 1 490.04 345.00 Z"/>
<path d="M460.04 461.00 H503.96 A22.00 20.80 0 1 1 460.04 461.00 Z"/>
<path d="M608.04 307.00 H651.96 A22.00 20.80 0 1 1 608.04 307.00 Z"/>
<path d="M721.04 290.00 H764.96 A22.00 20.80 0 1 1 721.04 290.00 Z"/>
<path d="M607.04 363.00 H650.96 A22.00 20.80 0 1 1 607.04 363.00 Z"/>
<path d="M749.04 342.00 H792.96 A22.00 20.80 0 1 1 749.04 342.00 Z"/>
<path d="M719.04 394.00 H762.96 A22.00 20.80 0 1 1 719.04 394.00 Z"/>
<path d="M592.00 436.70 H614.00 A11.00 10.40 0 1 1 592.00 436.70 Z"/>
<path d="M776.04 446.00 H819.96 A22.00 20.80 0 1 1 776.04 446.00 Z"/>
<path d="M811.04 395.00 H854.96 A22.00 20.80 0 1 1 811.04 395.00 Z"/>
<path d="M956.04 395.00 H999.96 A22.00 20.80 0 1 1 956.04 395.00 Z"/>
<path d="M894.04 446.00 H937.96 A22.00 20.80 0 1 1 894.04 446.00 Z"/>
<path d="M85.00 509.70 H107.00 A11.00 10.40 0 1 1 85.00 509.70 Z"/>
<path d="M74.04 563.00 H117.96 A22.00 20.80 0 1 1 74.04 563.00 Z"/>
<path d="M208.00 553.70 H230.00 A11.00 10.40 0 1 1 208.00 553.70 Z"/>
<path d="M113.04 615.00 H156.96 A22.00 20.80 0 1 1 113.04 615.00 Z"/>
<path d="M231.04 615.00 H274.96 A22.00 20.80 0 1 1 231.04 615.00 Z"/>
<path d="M177.00 665.70 H199.00 A11.00 10.40 0 1 1 177.00 665.70 Z"/>
<path d="M59.00 704.70 H81.00 A11.00 10.40 0 1 1 59.00 704.70 Z"/>
<path d="M299.04 544.00 H342.96 A22.00 20.80 0 1 1 299.04 544.00 Z"/>
<path d="M370.04 589.00 H413.96 A22.00 20.80 0 1 1 370.04 589.00 Z"/>
<path d="M451.04 563.00 H494.96 A22.00 20.80 0 1 1 451.04 563.00 Z"/>
<path d="M471.04 667.00 H514.96 A22.00 20.80 0 1 1 471.04 667.00 Z"/>
<path d="M273.04 722.00 H316.96 A22.00 20.80 0 1 1 273.04 722.00 Z"/>
<path d="M569.04 510.00 H612.96 A22.00 20.80 0 1 1 569.04 510.00 Z"/>
<path d="M661.04 535.00 H704.96 A22.00 20.80 0 1 1 661.04 535.00 Z"/>
<path d="M548.00 560.70 H570.00 A11.00 10.40 0 1 1 548.00 560.70 Z"/>
<path d="M738.04 592.00 H781.96 A22.00 20.80 0 1 1 738.04 592.00 Z"/>
<path d="M577.04 635.00 H620.96 A22.00 20.80 0 1 1 577.04 635.00 Z"/>
<path d="M694.04 668.00 H737.96 A22.00 20.80 0 1 1 694.04 668.00 Z"/>
<path d="M620.04 719.00 H663.96 A22.00 20.80 0 1 1 620.04 719.00 Z"/>
<path d="M828.04 537.00 H871.96 A22.00 20.80 0 1 1 828.04 537.00 Z"/>
<path d="M864.00 587.70 H886.00 A11.00 10.40 0 1 1 864.00 587.70 Z"/>
<path d="M852.00 639.70 H874.00 A11.00 10.40 0 1 1 852.00 639.70 Z"/>
<path d="M805.04 735.00 H848.96 A22.00 20.80 0 1 1 805.04 735.00 Z"/>
<path d="M126.04 752.00 H169.96 A22.00 20.80 0 1 1 126.04 752.00 Z"/>
<path d="M72.00 795.70 H94.00 A11.00 10.40 0 1 1 72.00 795.70 Z"/>
<path d="M179.04 797.00 H222.96 A22.00 20.80 0 1 1 179.04 797.00 Z"/>
<path d="M74.04 849.00 H117.96 A22.00 20.80 0 1 1 74.04 849.00 Z"/>
<path d="M203.00 847.70 H225.00 A11.00 10.40 0 1 1 203.00 847.70 Z"/>
<path d="M124.00 899.70 H146.00 A11.00 10.40 0 1 1 124.00 899.70 Z"/>
<path d="M241.00 899.70 H263.00 A11.00 10.40 0 1 1 241.00 899.70 Z"/>
<path d="M124.00 951.70 H146.00 A11.00 10.40 0 1 1 124.00 951.70 Z"/>
<path d="M230.04 953.00 H273.96 A22.00 20.80 0 1 1 230.04 953.00 Z"/>
<path d="M296.04 771.00 H339.96 A22.00 20.80 0 1 1 296.04 771.00 Z"/>
<path d="M417.04 760.00 H460.96 A22.00 20.80 0 1 1 417.04 760.00 Z"/>
<path d="M309.04 823.00 H352.96 A22.00 20.80 0 1 1 309.04 823.00 Z"/>
<path d="M437.00 808.70 H459.00 A11.00 10.40 0 1 1 437.00 808.70 Z"/>
<path d="M358.00 873.70 H380.00 A11.00 10.40 0 1 1 358.00 873.70 Z"/>
<path d="M476.00 860.70 H498.00 A11.00 10.40 0 1 1 476.00 860.70 Z"/>
<path d="M347.04 927.00 H390.96 A22.00 20.80 0 1 1 347.04 927.00 Z"/>
<path d="M464.04 914.00 H507.96 A22.00 20.80 0 1 1 464.04 914.00 Z"/>
<path d="M542.04 771.00 H585.96 A22.00 20.80 0 1 1 542.04 771.00 Z"/>
<path d="M654.04 805.00 H697.96 A22.00 20.80 0 1 1 654.04 805.00 Z"/>
<path d="M577.04 881.00 H620.96 A22.00 20.80 0 1 1 577.04 881.00 Z"/>
<path d="M753.04 910.00 H796.96 A22.00 20.80 0 1 1 753.04 910.00 Z"/>
<path d="M650.04 971.00 H693.96 A22.00 20.80 0 1 1 650.04 971.00 Z"/>
<path d="M763.04 823.00 H806.96 A22.00 20.80 0 1 1 763.04 823.00 Z"/>
<path d="M972.00 767.70 H994.00 A11.00 10.40 0 1 1 972.00 767.70 Z"/>
<path d="M880.04 823.00 H923.96 A22.00 20.80 0 1 1 880.04 823.00 Z"/>
<path d="M878.00 873.70 H900.00 A11.00 10.40 0 1 1 878.00 873.70 Z"/>
<path d="M880.04 927.00 H923.96 A22.00 20.80 0 1 1 880.04 927.00 Z"/>
</g>
<g stroke-width="2.6" fill="none" shape-rendering="crispEdges">
<line x1="355.5" y1="222.1" x2="393.5" y2="379.1" stroke="#d400d4"/>
<line x1="358.5" y1="221.4" x2="396.5" y2="378.4" stroke="#00c000"/>
<line x1="361.5" y1="220.6" x2="399.5" y2="377.6" stroke="#1e1e1e"/>
<line x1="364.5" y1="219.9" x2="402.5" y2="376.9" stroke="#b8cc00"/>
<line x1="398.0" y1="378.0" x2="512.0" y2="341.0" stroke="#1e1e1e"/>
<line x1="510.5" y1="340.6" x2="480.5" y2="456.6" stroke="#b8cc00"/>
<line x1="513.5" y1="341.4" x2="483.5" y2="457.4" stroke="#1e1e1e"/>
<line x1="401.2" y1="374.6" x2="485.2" y2="453.6" stroke="#d400d4"/>
<line x1="399.1" y1="376.9" x2="483.1" y2="455.9" stroke="#00c000"/>
<line x1="396.9" y1="379.1" x2="480.9" y2="458.1" stroke="#1e1e1e"/>
<line x1="394.8" y1="381.4" x2="478.8" y2="460.4" stroke="#b8cc00"/>
<line x1="396.6" y1="377.3" x2="319.6" y2="539.3" stroke="#d400d4"/>
<line x1="399.4" y1="378.7" x2="322.4" y2="540.7" stroke="#b8cc00"/>
<line x1="394.9" y1="377.9" x2="388.9" y2="584.9" stroke="#00c000"/>
<line x1="398.0" y1="378.0" x2="392.0" y2="585.0" stroke="#1e1e1e"/>
<line x1="401.1" y1="378.1" x2="395.1" y2="585.1" stroke="#b8cc00"/>
<line x1="392.3" y1="380.4" x2="467.3" y2="561.4" stroke="#0000f0"/>
<line x1="395.1" y1="379.2" x2="470.1" y2="560.2" stroke="#d400d4"/>
<line x1="398.0" y1="378.0" x2="473.0" y2="559.0" stroke="#1e1e1e"/>
<line x1="400.9" y1="376.8" x2="475.9" y2="557.8" stroke="#b8cc00"/>
<line x1="403.7" y1="375.6" x2="478.7" y2="556.6" stroke="#8c8cff"/>
<line x1="237.5" y1="412.9" x2="482.5" y2="453.9" stroke="#b8cc00"/>
<line x1="237.0" y1="416.0" x2="482.0" y2="457.0" stroke="#1e1e1e"/>
<line x1="236.5" y1="419.1" x2="481.5" y2="460.1" stroke="#00c000"/>
<line x1="235.7" y1="416.9" x2="319.7" y2="540.9" stroke="#d400d4"/>
<line x1="238.3" y1="415.1" x2="322.3" y2="539.1" stroke="#b8cc00"/>
<line x1="234.7" y1="418.1" x2="389.7" y2="587.1" stroke="#00c000"/>
<line x1="237.0" y1="416.0" x2="392.0" y2="585.0" stroke="#1e1e1e"/>
<line x1="239.3" y1="413.9" x2="394.3" y2="582.9" stroke="#b8cc00"/>
<line x1="320.5" y1="535.4" x2="218.5" y2="546.4" stroke="#8c8cff"/>
<line x1="320.8" y1="538.5" x2="218.8" y2="549.5" stroke="#b8cc00"/>
<line x1="321.2" y1="541.5" x2="219.2" y2="552.5" stroke="#1e1e1e"/>
<line x1="321.5" y1="544.6" x2="219.5" y2="555.6" stroke="#d400d4"/>
<line x1="321.2" y1="538.5" x2="473.2" y2="557.5" stroke="#00a8d8"/>
<line x1="320.8" y1="541.5" x2="472.8" y2="560.5" stroke="#b8cc00"/>
<line x1="321.8" y1="538.7" x2="392.8" y2="583.7" stroke="#b8cc00"/>
<line x1="320.2" y1="541.3" x2="391.2" y2="586.3" stroke="#1e1e1e"/>
<line x1="319.5" y1="539.8" x2="293.5" y2="717.8" stroke="#b8cc00"/>
<line x1="322.5" y1="540.2" x2="296.5" y2="718.2" stroke="#d400d4"/>
<line x1="319.6" y1="540.7" x2="437.6" y2="756.7" stroke="#b8cc00"/>
<line x1="322.4" y1="539.3" x2="440.4" y2="755.3" stroke="#d400d4"/>
<line x1="322.0" y1="537.1" x2="600.0" y2="628.1" stroke="#d400d4"/>
<line x1="321.0" y1="540.0" x2="599.0" y2="631.0" stroke="#b8cc00"/>
<line x1="320.0" y1="542.9" x2="598.0" y2="633.9" stroke="#1e1e1e"/>
<line x1="385.7" y1="580.5" x2="475.7" y2="452.5" stroke="#0000f0"/>
<line x1="388.2" y1="582.3" x2="478.2" y2="454.3" stroke="#d400d4"/>
<line x1="390.7" y1="584.1" x2="480.7" y2="456.1" stroke="#1e1e1e"/>
<line x1="393.3" y1="585.9" x2="483.3" y2="457.9" stroke="#00c000"/>
<line x1="395.8" y1="587.7" x2="485.8" y2="459.7" stroke="#b8cc00"/>
<line x1="398.3" y1="589.5" x2="488.3" y2="461.5" stroke="#8c8cff"/>
<line x1="391.1" y1="582.0" x2="472.1" y2="556.0" stroke="#d400d4"/>
<line x1="392.0" y1="585.0" x2="473.0" y2="559.0" stroke="#00c000"/>
<line x1="392.9" y1="588.0" x2="473.9" y2="562.0" stroke="#b8cc00"/>
<line x1="393.0" y1="580.5" x2="600.0" y2="626.5" stroke="#d400d4"/>
<line x1="392.3" y1="583.5" x2="599.3" y2="629.5" stroke="#00c000"/>
<line x1="391.7" y1="586.5" x2="598.7" y2="632.5" stroke="#1e1e1e"/>
<line x1="391.0" y1="589.5" x2="598.0" y2="635.5" stroke="#b8cc00"/>
<line x1="391.8" y1="583.5" x2="558.8" y2="556.5" stroke="#d400d4"/>
<line x1="392.2" y1="586.5" x2="559.2" y2="559.5" stroke="#b8cc00"/>
<line x1="392.9" y1="583.8" x2="493.9" y2="661.8" stroke="#1e1e1e"/>
<line x1="391.1" y1="586.2" x2="492.1" y2="664.2" stroke="#b8cc00"/>
<line x1="390.3" y1="582.4" x2="146.3" y2="745.4" stroke="#b8cc00"/>
<line x1="392.0" y1="585.0" x2="148.0" y2="748.0" stroke="#1e1e1e"/>
<line x1="393.7" y1="587.6" x2="149.7" y2="750.6" stroke="#00c000"/>
<line x1="389.5" y1="583.2" x2="292.5" y2="716.2" stroke="#b8cc00"/>
<line x1="392.0" y1="585.0" x2="295.0" y2="718.0" stroke="#1e1e1e"/>
<line x1="394.5" y1="586.8" x2="297.5" y2="719.8" stroke="#00c000"/>
<line x1="389.0" y1="585.8" x2="436.0" y2="756.8" stroke="#b8cc00"/>
<line x1="392.0" y1="585.0" x2="439.0" y2="756.0" stroke="#1e1e1e"/>
<line x1="395.0" y1="584.2" x2="442.0" y2="755.2" stroke="#00c000"/>
<line x1="475.8" y1="456.5" x2="466.8" y2="558.5" stroke="#d400d4"/>
<line x1="478.9" y1="456.7" x2="469.9" y2="558.7" stroke="#00c000"/>
<line x1="482.0" y1="457.0" x2="473.0" y2="559.0" stroke="#1e1e1e"/>
<line x1="485.1" y1="457.3" x2="476.1" y2="559.3" stroke="#b8cc00"/>
<line x1="488.2" y1="457.5" x2="479.2" y2="559.5" stroke="#00a8d8"/>
<line x1="479.4" y1="458.7" x2="596.4" y2="632.7" stroke="#00c000"/>
<line x1="482.0" y1="457.0" x2="599.0" y2="631.0" stroke="#1e1e1e"/>
<line x1="484.6" y1="455.3" x2="601.6" y2="629.3" stroke="#b8cc00"/>
<line x1="475.3" y1="555.0" x2="601.3" y2="627.0" stroke="#0000f0"/>
<line x1="473.8" y1="557.7" x2="599.8" y2="629.7" stroke="#d400d4"/>
<line x1="472.2" y1="560.3" x2="598.2" y2="632.3" stroke="#b8cc00"/>
<line x1="470.7" y1="563.0" x2="596.7" y2="635.0" stroke="#8c8cff"/>
<line x1="473.0" y1="557.5" x2="559.0" y2="556.5" stroke="#d400d4"/>
<line x1="473.0" y1="560.5" x2="559.0" y2="559.5" stroke="#b8cc00"/>
<line x1="470.0" y1="559.6" x2="490.0" y2="663.6" stroke="#b8cc00"/>
<line x1="473.0" y1="559.0" x2="493.0" y2="663.0" stroke="#1e1e1e"/>
<line x1="476.0" y1="558.4" x2="496.0" y2="662.4" stroke="#d400d4"/>
<line x1="469.9" y1="558.5" x2="435.9" y2="755.5" stroke="#b8cc00"/>
<line x1="473.0" y1="559.0" x2="439.0" y2="756.0" stroke="#1e1e1e"/>
<line x1="476.1" y1="559.5" x2="442.1" y2="756.5" stroke="#00c000"/>
<line x1="559.0" y1="558.0" x2="599.0" y2="631.0" stroke="#d400d4"/>
<line x1="596.1" y1="627.3" x2="436.1" y2="752.3" stroke="#8c8cff"/>
<line x1="598.0" y1="629.8" x2="438.0" y2="754.8" stroke="#b8cc00"/>
<line x1="600.0" y1="632.2" x2="440.0" y2="757.2" stroke="#1e1e1e"/>
<line x1="601.9" y1="634.7" x2="441.9" y2="759.7" stroke="#0000f0"/>
<line x1="599.4" y1="629.5" x2="716.4" y2="662.5" stroke="#d400d4"/>
<line x1="598.6" y1="632.5" x2="715.6" y2="665.5" stroke="#b8cc00"/>
<line x1="592.2" y1="501.5" x2="684.2" y2="526.5" stroke="#d400d4"/>
<line x1="591.4" y1="504.5" x2="683.4" y2="529.5" stroke="#1e1e1e"/>
<line x1="590.6" y1="507.5" x2="682.6" y2="532.5" stroke="#b8cc00"/>
<line x1="589.8" y1="510.5" x2="681.8" y2="535.5" stroke="#00a8d8"/>
<line x1="685.8" y1="527.3" x2="762.8" y2="584.3" stroke="#00a8d8"/>
<line x1="683.9" y1="529.8" x2="760.9" y2="586.8" stroke="#b8cc00"/>
<line x1="682.1" y1="532.2" x2="759.1" y2="589.2" stroke="#1e1e1e"/>
<line x1="680.2" y1="534.7" x2="757.2" y2="591.7" stroke="#d400d4"/>
<line x1="682.1" y1="529.8" x2="797.1" y2="440.8" stroke="#1e1e1e"/>
<line x1="683.9" y1="532.2" x2="798.9" y2="443.2" stroke="#b8cc00"/>
<line x1="796.5" y1="441.6" x2="758.5" y2="587.6" stroke="#1e1e1e"/>
<line x1="799.5" y1="442.4" x2="761.5" y2="588.4" stroke="#b8cc00"/>
<line x1="758.6" y1="588.7" x2="825.6" y2="731.7" stroke="#b8cc00"/>
<line x1="761.4" y1="587.3" x2="828.4" y2="730.3" stroke="#1e1e1e"/>
<line x1="827.0" y1="731.0" x2="983.0" y2="765.0" stroke="#b8cc00"/>
<line x1="825.6" y1="730.3" x2="783.6" y2="818.3" stroke="#00a8d8"/>
<line x1="828.4" y1="731.7" x2="786.4" y2="819.7" stroke="#b8cc00"/>
<line x1="637.7" y1="716.7" x2="671.7" y2="802.7" stroke="#8c8cff"/>
<line x1="640.6" y1="715.6" x2="674.6" y2="801.6" stroke="#b8cc00"/>
<line x1="643.4" y1="714.4" x2="677.4" y2="800.4" stroke="#1e1e1e"/>
<line x1="646.3" y1="713.3" x2="680.3" y2="799.3" stroke="#d400d4"/>
<line x1="674.9" y1="802.1" x2="773.9" y2="907.1" stroke="#1e1e1e"/>
<line x1="677.1" y1="799.9" x2="776.1" y2="904.9" stroke="#b8cc00"/>
<line x1="561.0" y1="767.9" x2="596.0" y2="877.9" stroke="#1e1e1e"/>
<line x1="564.0" y1="767.0" x2="599.0" y2="877.0" stroke="#b8cc00"/>
<line x1="567.0" y1="766.1" x2="602.0" y2="876.1" stroke="#8c8cff"/>
<line x1="596.6" y1="879.0" x2="669.6" y2="969.0" stroke="#1e1e1e"/>
<line x1="599.0" y1="877.0" x2="672.0" y2="967.0" stroke="#b8cc00"/>
<line x1="601.4" y1="875.0" x2="674.4" y2="965.0" stroke="#8c8cff"/>
<line x1="630.0" y1="303.0" x2="743.0" y2="286.0" stroke="#00a8d8"/>
<line x1="628.8" y1="357.5" x2="770.8" y2="336.5" stroke="#b8cc00"/>
<line x1="629.2" y1="360.5" x2="771.2" y2="339.5" stroke="#1e1e1e"/>
<line x1="603.0" y1="434.0" x2="741.0" y2="390.0" stroke="#b8cc00"/>
<line x1="741.0" y1="390.0" x2="833.0" y2="391.0" stroke="#b8cc00"/>
<line x1="833.0" y1="391.0" x2="978.0" y2="391.0" stroke="#b8cc00"/>
</g>
<circle cx="44" cy="65" r="20" fill="url(#g0)"/>
<circle cx="44" cy="65" r="19.5" fill="none" stroke="url(#rim)" stroke-width="1"/>
<path d="M42.6 63.9L41.4 63.9L40.2 63.8L39.0 64.0L38.6 65.2L38.1 66.3L38.8 67.2L39.6 68.1L40.8 68.0L41.4 66.9L41.8 65.8L42.9 65.2L43.2 64.1L42.8 63.0L42.7 61.8L43.7 61.0L44.7 60.5L45.7 59.7L46.8 60.1L47.7 59.3L48.9 59.5L50.1 59.1L50.6 58.0L50.1 56.9L51.0 57.7L51.1 58.9L52.0 59.8L52.7 60.7L53.1 61.9" fill="none" stroke="#2050e0" stroke-width="0.7" stroke-opacity=".65"/>
<path d="M53.1 61.9L53.8 62.8L54.4 63.9L55.6 64.0L56.4 63.1L56.3 64.3L55.8 65.4L55.4 66.5L55.6 67.7L55.5 68.9L55.5 70.1L56.1 71.2L55.9 72.4L55.2 73.3L55.2 72.1L55.5 71.0L55.8 69.8L56.9 69.3L55.7 69.2L54.6 69.7L53.6 69.0L52.4 69.3L51.3 69.8L50.1 69.6L49.2 70.3L48.2 71.0L48.3 72.2L47.9 73.3L47.0 74.1" fill="none" stroke="#20b0c0" stroke-width="0.7" stroke-opacity=".65"/>
<path d="M47.0 74.1L46.0 74.7L44.8 74.3L43.6 74.5L42.5 74.1L41.4 73.5L40.5 72.7L39.5 72.1L39.3 70.9L40.1 70.0L40.9 69.1L41.9 68.5L42.0 67.3L42.6 66.3L43.6 65.5L44.7 66.0L45.2 67.0L46.2 67.7L47.3 68.1L48.2 68.9L49.4 68.5L50.5 68.1L51.0 67.0L50.5 65.9L49.3 65.7L48.5 64.8L47.3 64.8L46.3 65.5L45.5 66.4" fill="none" stroke="#30c040" stroke-width="0.7" stroke-opacity=".65"/>
<path d="M45.5 66.4L44.3 66.4L43.6 67.4L43.0 68.4L42.2 69.4L41.0 69.5L40.1 68.8L39.9 67.6L39.1 66.6L38.3 65.8L37.2 65.3L36.8 64.2L37.6 63.3L37.5 62.1L36.7 61.2L35.5 61.0L34.4 61.4L33.3 61.9L32.1 62.1L33.0 61.3L33.3 62.5L33.8 63.6L34.6 64.5L35.3 65.5L34.8 66.6L33.9 67.4L33.0 68.2L31.9 68.7L30.7 68.7" fill="none" stroke="#c0c020" stroke-width="0.7" stroke-opacity=".65"/>
<path d="M30.7 68.7L31.3 67.7L32.5 67.5L33.6 68.1L33.9 69.2L33.5 70.3L33.3 71.5L33.4 72.7L34.4 73.4L35.2 74.3L36.4 74.3L37.0 73.2L36.9 72.0L36.0 71.2L34.9 70.8L33.9 71.4L34.1 72.6L35.0 73.4L36.2 73.2L37.2 72.6L37.3 71.4L38.2 70.6L39.3 70.1L39.6 68.9L39.4 67.8L38.8 66.7L37.9 65.9L36.7 66.1L35.7 65.3" fill="none" stroke="#e07020" stroke-width="0.7" stroke-opacity=".65"/>
<ellipse cx="44" cy="52.1" rx="11.2" ry="4.9" fill="url(#hl)"/>
<circle cx="161" cy="65" r="20" fill="url(#g0)"/>
<circle cx="161" cy="65" r="19.5" fill="none" stroke="url(#rim)" stroke-width="1"/>
<path d="M164.9 65.8L164.3 66.8L164.7 68.0L165.4 68.9L166.5 69.4L167.1 70.4L168.2 70.9L169.1 70.1L170.3 70.5L171.4 70.9L172.5 70.4L173.6 70.1L173.9 68.9L174.2 67.7L173.1 68.0L172.0 67.4L171.4 66.4L170.3 65.8L169.1 65.6L168.1 66.3L166.9 66.2L165.7 66.1L164.8 65.3L163.7 64.9L162.5 65.2L161.4 64.7L161.4 63.5L162.1 62.6L163.3 62.3" fill="none" stroke="#2050e0" stroke-width="0.7" stroke-opacity=".65"/>
<path d="M163.3 62.3L164.4 62.9L165.0 63.9L166.1 64.4L167.1 65.0L168.3 65.2L169.1 64.2L168.7 63.1L167.8 62.3L166.6 62.1L165.6 61.4L165.7 60.2L165.6 59.0L166.6 58.2L167.7 58.7L167.9 59.9L168.4 61.0L169.5 61.5L170.6 61.4L171.5 60.6L171.3 61.7L170.8 62.8L169.7 63.2L168.6 62.6L167.5 62.1L166.7 61.3L166.5 60.1L165.5 59.5L164.7 58.6" fill="none" stroke="#20b0c0" stroke-width="0.7" stroke-opacity=".65"/>
<path d="M164.7 58.6L164.9 57.4L165.8 56.6L164.6 56.8L163.5 57.1L162.8 58.1L161.6 58.5L160.7 59.3L159.5 59.3L158.9 58.3L158.0 57.4L157.0 56.8L157.0 58.0L156.5 59.1L156.8 60.2L157.8 60.8L159.0 60.5L160.0 61.2L160.3 62.3L161.4 62.9L161.8 64.0L161.0 64.9L159.9 65.5L159.1 66.4L158.2 67.2L158.2 68.4L159.2 69.0L159.2 70.2L158.9 71.4" fill="none" stroke="#30c040" stroke-width="0.7" stroke-opacity=".65"/>
<path d="M158.9 71.4L158.4 72.5L157.2 72.7L156.1 73.2L155.0 72.7L154.6 71.6L153.5 71.0L152.3 71.0L151.3 71.6L150.7 72.6L149.9 73.5L150.1 72.3L150.1 71.1L149.2 70.3L149.3 69.1L149.1 68.0L148.7 66.8L148.5 65.6L149.3 64.8L150.0 63.7L151.2 63.7L152.4 63.6L153.6 63.6L154.8 63.6L155.4 62.6L155.9 61.5L155.6 60.4L154.4 60.1L153.6 59.2" fill="none" stroke="#c0c020" stroke-width="0.7" stroke-opacity=".65"/>
<path d="M153.6 59.2L152.4 59.0L151.2 58.9L152.2 59.6L153.2 60.3L154.3 60.7L155.4 61.2L156.5 61.7L157.0 62.8L158.2 63.1L159.3 63.5L160.5 63.3L161.4 62.6L162.6 62.5L163.8 62.4L165.0 62.5L166.0 63.3L166.0 64.5L166.1 65.7L166.0 66.9L165.8 68.0L165.6 69.2L165.0 70.2L164.4 71.3L163.8 72.3L163.2 73.4L162.0 73.5L160.9 73.1L160.4 72.0" fill="none" stroke="#e07020" stroke-width="0.7" stroke-opacity=".65"/>
<ellipse cx="161" cy="52.1" rx="11.2" ry="4.9" fill="url(#hl)"/>
<circle cx="278" cy="65" r="10" fill="url(#g1)"/>
<circle cx="278" cy="65" r="9.5" fill="none" stroke="url(#rim)" stroke-width="1"/>
<ellipse cx="278" cy="58.55" rx="5.6" ry="2.45" fill="url(#hl)"/>
<circle cx="96" cy="117" r="20" fill="url(#g2)"/>
<circle cx="96" cy="117" r="19.5" fill="none" stroke="url(#rim)" stroke-width="1"/>
<path d="M99.5 116.6L99.3 115.4L99.9 114.3L99.5 113.2L98.5 112.7L97.3 112.3L96.4 112.9L95.9 114.0L96.5 115.1L96.7 116.3L96.2 117.3L95.0 117.6L94.4 118.6L93.3 119.2L92.2 119.4L91.5 120.4L90.3 120.6L89.5 119.6L88.4 119.3L88.1 118.1L87.5 117.1L86.9 116.0L87.5 115.0L88.6 114.7L89.2 113.6L89.7 112.5L90.2 111.4L90.2 110.2L89.6 109.2L90.6 109.9L91.2 110.9L92.4 110.9L93.6 111.0L94.8 111.0L95.3 110.0L95.5 108.8L95.9 107.7L95.5 108.8L96.1 109.8L95.5 110.8L94.4 111.3L93.4 110.6L92.2 110.9L91.4 111.7L91.6 112.9L91.1 114.0L91.2 115.2L92.2 115.9L93.2 116.5L93.4 117.7L92.8 118.7L92.8 119.9L93.6 120.8L93.5 121.9L93.1 123.1L92.3 124.0L92.5 125.2L93.6 125.7L94.3 126.6L95.3 127.3L96.4 127.0L97.3 127.8L98.0 128.8L97.8 130.0L97.0 129.2L96.9 128.0L95.9 127.4L95.7 126.2L95.4 125.0L94.7 124.1L94.1 123.0L94.5 121.9L94.4 120.7L93.5 120.0L92.6 119.2L91.4 119.0L90.5 119.8L90.4 121.0L91.3 121.8L92.5 121.8L93.6 121.4L94.4 120.5L95.6 120.2L96.5 119.5L97.4 118.7L97.6 117.5L97.4 116.3L96.3 115.9L95.1 116.2L94.8 117.3L93.9 118.2L92.9 118.9L92.7 120.0L92.4 121.2L91.4 121.7L91.0 122.9L90.0 123.6L89.2 124.4L88.3 125.2L87.1 125.2L85.9 125.5L87.1 125.3L88.3 125.5L88.7 126.6L89.5 127.5L89.4 128.7L90.0 127.7L90.8 126.8L91.5 125.8L91.8 124.7L91.0 123.8L89.8 123.7L89.1 124.7L88.0 125.1L87.2 126.1L87.3 127.3L88.4 127.9L88.1 126.8L88.7 125.7L89.6 125.0L90.2 123.9L90.0 122.8L89.4 121.7L88.6 120.8L87.5 120.6L86.3 120.6L85.2 121.1L84.2 120.5L84.2 119.3L84.3 118.1L83.8 117.1L84.4 116.0L84.6 114.9L84.4 113.7L85.5 114.0L86.7 114.1L87.9 114.1L89.1 114.1L90.1 113.3L91.0 112.6L90.8 111.4" fill="none" stroke="#7a8a90" stroke-width="0.7" stroke-opacity=".65"/>
<ellipse cx="96" cy="104.1" rx="11.2" ry="4.9" fill="url(#hl)"/>
<circle cx="213" cy="117" r="10" fill="url(#g3)"/>
<circle cx="213" cy="117" r="9.5" fill="none" stroke="url(#rim)" stroke-width="1"/>
<ellipse cx="213" cy="110.55" rx="5.6" ry="2.45" fill="url(#hl)"/>
<circle cx="330" cy="117" r="10" fill="url(#g3)"/>
<circle cx="330" cy="117" r="9.5" fill="none" stroke="url(#rim)" stroke-width="1"/>
<ellipse cx="330" cy="110.55" rx="5.6" ry="2.45" fill="url(#hl)"/>
<circle cx="149" cy="169" r="20" fill="url(#g4)"/>
<circle cx="149" cy="169" r="19.5" fill="none" stroke="url(#rim)" stroke-width="1"/>
<path d="M147.1 167.5L147.2 168.7L148.3 169.3L149.5 169.3L150.5 168.6L151.6 168.2L152.7 167.8L153.9 168.1L154.9 168.8L155.5 169.8L155.1 170.9L155.0 172.1L155.4 173.3L154.6 174.2L154.6 175.4L154.0 176.4L153.2 177.3L153.4 178.4L152.8 179.5L151.6 179.7L150.4 179.5L149.4 178.9L149.1 177.7L148.1 177.1L147.1 176.5L146.1 175.8L145.8 174.7L146.2 173.6L147.3 173.0" fill="none" stroke="#2050e0" stroke-width="0.7" stroke-opacity=".65"/>
<path d="M147.3 173.0L148.5 172.7L149.5 173.4L150.1 174.4L150.3 175.6L151.1 176.5L152.2 176.3L152.9 175.3L153.2 174.1L152.5 173.1L152.7 171.9L153.0 170.8L153.6 169.8L154.5 168.9L155.6 168.5L156.7 168.1L156.9 166.9L157.7 166.0L158.9 165.7L160.0 165.4L158.8 165.6L157.7 165.4L156.8 166.3L155.6 166.6L154.8 167.5L155.0 168.6L155.8 169.6L156.0 170.7L156.9 171.5" fill="none" stroke="#20b0c0" stroke-width="0.7" stroke-opacity=".65"/>
<path d="M156.9 171.5L157.3 172.7L156.5 173.6L155.7 174.5L155.1 175.5L154.7 176.6L153.8 177.5L152.6 177.7L151.4 177.5L150.3 177.1L149.3 177.6L148.9 178.8L149.2 180.0L148.9 181.1L149.1 182.3L149.1 181.1L148.0 180.5L147.0 181.1L146.3 182.1L147.3 181.4L148.5 181.2L149.6 181.4L150.8 181.1L152.0 180.8L153.1 180.5L154.2 180.0L154.6 178.9L155.8 178.5L156.4 177.5" fill="none" stroke="#30c040" stroke-width="0.7" stroke-opacity=".65"/>
<path d="M156.4 177.5L157.6 177.5L158.3 178.5L157.1 178.6L155.9 178.8L154.9 178.2L154.9 177.0L154.7 175.8L154.0 174.8L152.9 174.4L152.6 173.3L151.6 172.5L150.8 171.6L149.6 171.6L148.5 171.4L147.9 170.4L146.8 170.0L146.1 169.0L145.5 168.0L145.8 166.8L146.7 165.9L146.8 164.8L147.9 164.1L148.9 163.5L148.8 162.3L147.7 161.8L146.6 161.3L145.5 160.9L144.3 161.1" fill="none" stroke="#c0c020" stroke-width="0.7" stroke-opacity=".65"/>
<path d="M144.3 161.1L143.6 162.1L143.2 163.2L143.3 164.4L142.6 165.3L143.1 166.4L143.0 167.6L142.1 168.4L142.1 169.6L141.1 170.3L139.9 170.5L139.0 169.7L137.9 169.3L136.7 169.4L137.8 169.1L138.6 170.0L139.2 171.0L140.1 171.8L141.1 172.5L142.3 172.6L143.0 171.7L142.8 170.5L143.4 169.4L143.4 168.2L144.5 167.6L145.0 166.5L144.9 165.3L144.9 164.1L144.1 163.2" fill="none" stroke="#e07020" stroke-width="0.7" stroke-opacity=".65"/>
<ellipse cx="149" cy="156.1" rx="11.2" ry="4.9" fill="url(#hl)"/>
<circle cx="266" cy="169" r="20" fill="url(#g5)"/>
<circle cx="266" cy="169" r="19.5" fill="none" stroke="url(#rim)" stroke-width="1"/>
<path d="M265.0 172.7L266.2 172.7L267.4 173.0L267.8 174.1L267.2 175.1L266.5 176.0L265.4 176.5L265.2 177.7L264.5 178.7L263.8 179.7L262.7 180.2L261.6 180.4L260.6 181.1L260.5 179.9L261.5 179.1L261.6 177.9L261.6 176.7L261.2 175.6L260.4 174.7L260.1 173.6L261.0 172.7L261.3 171.6L262.0 170.6L262.2 169.4L262.6 168.3L262.7 167.1L262.0 166.1L260.8 165.9L259.7 166.5L258.6 166.0L257.5 165.5L256.3 165.7L255.4 165.0L255.7 163.8L255.6 165.0L256.3 165.9L257.5 166.2L258.4 165.4L259.0 164.4L258.6 163.2L257.6 162.5L258.8 162.6L260.0 162.9L260.5 164.0L260.4 165.2L260.6 166.4L260.9 167.5L261.2 168.7L261.8 169.7L262.7 170.5L263.9 170.2L264.8 169.4L265.9 169.7L267.0 169.0L268.0 168.4L269.1 168.1L270.2 168.7L271.4 168.6L272.4 168.0L272.9 166.9L273.1 165.7L273.2 164.5L274.3 163.9L275.4 164.3L276.0 165.3L277.2 165.4L276.5 166.4L275.4 167.0L274.3 166.6L273.2 166.2L272.1 165.7L271.1 166.4L270.3 167.3L269.1 167.2L268.3 166.3L268.3 165.1L269.4 164.5L269.9 163.5L269.5 162.3L268.4 161.8L267.4 161.2L266.6 160.3L266.3 161.5L265.4 162.3L264.4 162.8L263.2 162.7L262.0 162.7L260.8 162.5L260.0 163.4L258.8 163.7L258.0 164.6L256.8 164.5L255.7 164.1L256.9 164.0L257.7 163.1L257.9 161.9L257.4 163.0L256.4 163.7L256.4 164.9L257.3 165.7L258.2 166.5L258.9 167.5L259.9 168.2L261.1 168.3L262.2 168.6L263.1 167.8L263.5 166.6L263.8 165.5L264.9 165.1L266.1 165.1L266.9 166.0L267.7 166.9L268.9 167.2L270.0 166.8L271.0 167.5L271.5 168.6L272.4 169.4L273.5 169.0L274.7 168.6L275.9 168.6L277.0 168.4L278.0 167.7L276.8 168.0L275.9 167.3L274.7 167.3L274.0 168.3L273.8 169.5L273.7 170.7L273.2 171.8L273.5 173.0L273.0 174.0L272.0 174.7L271.0 175.4L270.6 176.6L269.5 176.8L268.5 177.5L267.3 177.5L266.3 178.1L265.7 179.1L264.7 179.8L264.1 180.8" fill="none" stroke="#8a6ad0" stroke-width="0.7" stroke-opacity=".65"/>
<ellipse cx="266" cy="156.1" rx="11.2" ry="4.9" fill="url(#hl)"/>
<circle cx="201" cy="221" r="10" fill="url(#g6)"/>
<circle cx="201" cy="221" r="9.5" fill="none" stroke="url(#rim)" stroke-width="1"/>
<ellipse cx="201" cy="214.55" rx="5.6" ry="2.45" fill="url(#hl)"/>
<circle cx="360" cy="221" r="20" fill="url(#g7)"/>
<circle cx="360" cy="221" r="19.5" fill="none" stroke="url(#rim)" stroke-width="1"/>
<path d="M363.6 222.0L364.6 222.6L365.7 223.1L366.6 223.9L366.4 225.1L367.1 226.1L368.0 226.8L369.2 227.0L369.7 228.0L370.8 228.5L371.8 227.7L371.8 226.5L371.4 225.4L372.1 224.4L373.3 224.3L372.2 223.8L372.1 222.6L373.0 221.8L372.5 222.9L372.7 224.1L371.9 224.9L370.7 225.3L370.4 226.4L369.7 227.4L369.3 228.5L369.2 229.7L369.5 230.9L368.5 230.2L367.5 230.8L366.9 231.9L366.6 233.0L365.5 233.5L365.9 232.3L367.1 232.2L367.9 231.3L368.5 230.2L369.6 229.7L370.7 230.1L369.5 229.9L368.7 230.8L368.0 231.8L368.4 230.6L369.6 230.3L370.3 229.4L370.7 228.2L371.8 227.8L372.0 226.6L372.0 225.4L372.8 224.5L371.6 224.9L371.3 226.0L372.2 226.9L371.0 227.1L370.1 226.3L369.0 226.0L368.1 225.2L368.2 224.0L367.8 222.8L367.0 222.0L367.2 220.8L367.8 219.8L367.7 218.6L368.2 217.5L368.2 216.3L367.7 215.2L366.5 215.2L365.5 214.5L365.4 213.3L365.1 214.5L364.0 215.0L363.9 216.2L364.4 217.2L364.9 218.3L364.4 219.3L363.2 219.4L362.0 219.8L361.3 220.7L360.6 221.7L360.0 222.8L358.8 222.9L358.0 223.7L356.8 223.9L355.7 223.4L355.1 222.3L355.3 221.2L355.8 220.0L355.7 218.8L355.3 217.7L354.5 216.8L354.4 215.6L353.4 215.0L352.2 215.1L351.1 214.6L352.3 214.5L352.9 213.4L353.5 214.5L354.0 215.6L354.8 216.4L354.5 217.6L353.4 218.1L352.4 217.4L351.2 217.3L350.4 218.2L350.6 219.3L350.7 220.5L350.4 221.7L350.1 222.8L350.6 224.0L351.2 225.0L351.5 226.1L351.4 227.3L350.7 228.3L349.5 228.5L348.4 228.3L349.3 227.6L350.5 227.7L351.6 227.3L352.8 227.0L353.9 226.5L355.1 226.5L356.1 225.8L356.5 224.7L356.3 223.5L355.4 222.8L355.3 221.6L355.4 220.4L355.0 219.3L354.4 218.2L355.0 217.2L355.7 216.2L355.7 215.0L356.4 214.0L357.4 213.4L358.5 214.0L359.6 213.6L360.7 213.1L361.9 213.4L362.5 214.4L362.0 215.6L362.7 216.5L363.8 217.1" fill="none" stroke="#8a6ad0" stroke-width="0.7" stroke-opacity=".65"/>
<ellipse cx="360" cy="208.1" rx="11.2" ry="4.9" fill="url(#hl)"/>
<circle cx="486" cy="78" r="20" fill="url(#g8)"/>
<circle cx="486" cy="78" r="19.5" fill="none" stroke="url(#rim)" stroke-width="1"/>
<path d="M483.0 77.1L484.2 77.1L484.8 78.1L485.8 78.9L485.9 80.1L486.1 81.3L486.9 82.1L487.1 83.3L486.2 84.1L486.2 85.3L485.9 86.5L485.4 87.6L485.6 88.7L486.1 89.8L487.2 90.2L488.3 89.9L489.1 89.0L490.1 88.3L491.3 87.9L492.0 86.9L491.4 85.9L490.5 85.1L490.0 84.0L488.9 83.5L487.7 83.4L486.8 84.1L485.6 84.1L484.4 84.0L483.6 84.8L483.7 86.0L484.2 87.2L484.5 88.3L484.4 89.5L485.3 90.3L486.5 90.3L487.6 90.7L488.8 91.0L490.0 90.7L490.9 89.9L492.0 90.3L490.8 90.4L489.6 90.4L488.5 90.7L487.4 91.2L486.3 90.8L486.1 89.6L485.6 88.5L484.5 88.0L483.9 87.0L482.7 86.6L481.9 87.5L480.7 87.3L479.5 87.4L478.5 86.7L477.4 86.2L477.1 85.0L476.7 83.9L475.6 83.4L474.6 84.0L475.7 83.5L476.8 83.2L477.7 84.0L478.9 83.8L480.1 83.9L481.3 83.7L482.5 83.4L483.1 82.4L483.3 81.2L483.5 80.1L484.6 79.5L484.8 78.3L485.1 77.2L486.0 76.4L487.2 76.8L488.3 76.5L488.8 75.4L490.0 75.2L490.8 76.1L491.6 77.0L492.7 76.8L493.6 77.7L494.6 78.3L494.8 79.5L494.6 80.7L493.7 81.5L493.6 82.7L492.8 83.6L492.6 84.8L492.7 86.0L492.0 86.9L490.8 87.1L490.0 88.0L489.9 89.2L490.1 90.4L490.0 89.2L489.6 88.1L488.5 87.7L487.3 87.9L486.1 87.5L485.7 86.4L484.5 86.2L483.4 85.8L482.6 84.8L481.4 85.0L480.4 84.3L479.3 84.6L478.1 84.6L476.9 84.5L475.8 84.0L474.6 84.1L475.7 83.8L476.9 83.8L478.1 83.5L479.3 83.7L480.5 83.7L481.7 83.6L482.2 82.5L482.9 81.6L483.7 80.6L483.7 79.4L484.5 78.5L485.6 78.1L486.7 77.6L487.3 76.6L487.7 75.5L487.2 74.4L486.1 74.0L484.9 73.9L484.0 74.7L483.2 75.6L482.5 76.5L482.8 77.7L482.8 78.9L483.8 79.6L484.2 80.7L484.0 81.9L483.7 83.0L484.5 83.9L485.3 84.8L486.3 85.4L486.3 86.6" fill="none" stroke="#8a6ad0" stroke-width="0.7" stroke-opacity=".65"/>
<ellipse cx="486" cy="65.1" rx="11.2" ry="4.9" fill="url(#hl)"/>
<circle cx="486" cy="130" r="20" fill="url(#g9)"/>
<circle cx="486" cy="130" r="19.5" fill="none" stroke="url(#rim)" stroke-width="1"/>
<path d="M483.1 133.1L484.2 133.7L484.6 134.8L485.7 135.4L485.7 136.6L485.7 137.8L484.7 138.5L483.6 138.1L482.5 138.6L481.3 138.3L480.8 137.2L479.7 136.9L478.5 137.1L477.4 136.6L476.2 136.9L475.2 136.3L474.0 136.2L473.2 135.4L474.4 135.3L475.6 135.3L476.3 136.3L477.5 136.6L478.6 136.3L479.8 136.0L480.8 135.3L480.7 134.1L479.8 133.2L478.6 133.2L478.0 132.2L477.8 131.0L478.5 130.1L478.5 128.9L479.1 127.9L478.8 126.7L478.6 125.5L478.8 124.4L478.5 123.2L479.2 122.2L478.4 123.1L477.5 123.8L478.6 124.0L479.6 123.3L480.7 123.8L481.6 124.5L482.7 125.1L483.2 126.1L484.2 126.8L484.1 128.0L483.8 129.1L483.8 130.3L483.2 131.4L482.7 132.5L483.0 133.6L482.7 134.8L483.5 135.7L483.6 136.9L484.3 137.9L484.6 139.0L483.7 139.9L482.7 140.5L481.6 140.8L480.6 141.5L480.8 142.7L481.9 143.2L483.0 142.7L484.2 142.5L485.4 142.2L486.5 141.9L487.5 142.5L488.7 142.3L489.5 141.4L490.6 140.9L490.7 139.7L489.6 139.1L488.5 138.8L487.5 139.6L486.8 140.6L486.8 141.8L486.6 142.9L487.1 141.8L486.7 140.7L486.7 139.5L486.7 138.3L485.7 137.5L485.9 136.3L485.3 135.2L484.2 134.8L483.2 135.5L482.0 135.8L481.0 135.1L480.5 134.0L479.8 133.0L478.8 132.5L477.8 133.2L476.6 133.6L475.5 133.8L474.4 134.4L473.2 134.6L474.4 134.2L475.3 135.0L475.8 136.1L476.8 136.8L476.8 137.9L477.9 138.5L478.9 139.2L480.0 139.6L481.2 139.4L481.7 138.2L482.7 137.6L482.6 136.4L482.6 135.2L483.6 134.6L483.9 133.4L483.4 132.3L483.2 131.1L482.9 129.9L483.1 128.8L484.0 127.9L484.1 126.7L483.7 125.6L482.9 124.7L481.7 124.9L480.8 124.2L480.4 123.0L480.7 121.9L481.6 122.6L481.8 123.8L481.3 124.9L480.9 126.0L480.0 126.8L479.1 127.7L479.0 128.9L479.7 129.8L480.9 130.1L481.8 129.3L482.3 128.2L483.3 127.6L484.5 127.4L485.5 128.2L486.0 129.2L487.0 129.9" fill="none" stroke="#c055b0" stroke-width="0.7" stroke-opacity=".65"/>
<ellipse cx="486" cy="117.1" rx="11.2" ry="4.9" fill="url(#hl)"/>
<circle cx="487" cy="182" r="20" fill="url(#g10)"/>
<circle cx="487" cy="182" r="19.5" fill="none" stroke="url(#rim)" stroke-width="1"/>
<path d="M487.4 182.6L487.8 181.5L487.5 180.3L487.6 179.1L488.7 178.6L489.2 177.5L490.4 177.2L490.7 176.1L490.4 174.9L489.5 174.1L489.1 173.0L488.4 173.9L487.3 174.3L486.4 175.2L485.2 175.1L484.0 175.4L483.3 176.3L482.1 176.3L480.9 175.9L480.0 175.1L480.6 176.1L479.9 177.1L479.3 178.2L478.2 178.5L477.0 178.4L476.2 177.4L477.1 178.3L477.4 179.4L477.6 180.6L478.2 181.6L479.4 182.1L480.3 182.8L481.5 182.4L482.5 183.1L483.6 182.9L484.1 181.8L483.5 180.8L484.0 179.7L484.1 178.5L483.4 177.6L482.2 177.7L481.7 178.8L480.8 179.6L479.7 180.1L478.5 180.2L477.5 179.6L476.4 180.1L475.2 180.4L474.2 181.0L475.4 181.2L476.2 182.1L476.0 183.3L476.9 184.1L476.9 185.3L475.9 186.0L474.8 185.7L473.8 186.3L474.2 185.2L473.6 184.1L474.8 184.2L475.7 185.1L475.7 186.3L475.4 187.4L474.4 188.1L475.6 187.7L476.4 186.9L476.3 185.7L475.3 185.0L474.8 183.9L473.8 183.3L475.0 183.5L476.2 183.4L476.7 182.3L476.6 181.1L475.9 180.1L475.8 178.9L476.3 180.0L477.1 180.9L476.8 182.0L476.5 183.2L475.5 183.8L474.3 184.2L474.0 185.3L474.0 186.5L473.9 185.3L474.5 184.3L474.7 183.1L475.4 182.1L476.2 181.2L476.3 180.0L477.3 179.3L477.2 178.1L478.0 177.2L478.0 176.0L479.1 176.5L480.2 176.2L481.4 176.7L481.5 177.9L482.7 178.2L483.8 178.6L485.0 179.0L485.7 179.9L486.8 180.2L488.0 180.5L489.2 180.4L490.2 181.1L491.4 181.2L491.9 182.3L492.9 182.9L494.1 182.9L495.2 183.4L496.3 183.9L497.4 183.4L498.6 183.2L499.2 182.1L498.1 182.6L496.9 182.6L495.9 181.9L495.2 181.0L494.2 180.3L493.1 179.9L491.9 179.7L491.2 178.7L490.0 178.6L489.3 177.6L488.1 177.7L487.3 178.6L486.9 179.7L485.8 180.1L484.7 180.6L483.7 181.3L482.5 181.1L481.4 181.5L480.4 182.1L479.2 182.6L478.1 182.4L477.2 181.6L476.5 180.5L475.6 179.8L476.8 180.2L477.8 179.6" fill="none" stroke="#8a6ad0" stroke-width="0.7" stroke-opacity=".65"/>
<ellipse cx="487" cy="169.1" rx="11.2" ry="4.9" fill="url(#hl)"/>
<circle cx="487" cy="234" r="20" fill="url(#g11)"/>
<circle cx="487" cy="234" r="19.5" fill="none" stroke="url(#rim)" stroke-width="1"/>
<path d="M489.7 236.0L488.9 235.1L488.0 234.4L487.6 233.2L487.4 232.1L486.4 231.4L485.4 230.8L485.2 229.6L484.3 228.7L483.1 228.6L482.0 229.0L480.8 228.8L480.0 227.9L478.8 227.7L477.9 228.4L477.4 229.6L477.4 230.8L477.4 232.0L478.1 232.9L479.2 233.4L480.4 233.2L481.2 234.1L481.4 235.3L482.5 235.9L482.5 237.1L483.5 237.8L484.6 238.2L484.8 239.4L484.2 240.4L483.2 241.1L482.2 241.8L482.0 243.0L481.4 244.0L481.8 245.2L482.8 245.8L483.9 246.2L484.9 245.5L485.6 244.5L486.8 244.2L487.9 244.4L489.1 244.5L490.2 245.1L491.3 245.5L492.4 245.0L493.6 244.8L494.7 244.3L495.9 244.4L495.3 243.4L494.5 242.5L493.9 241.5L493.9 240.3L493.7 239.1L492.8 238.2L492.5 237.1L493.2 236.0L494.3 235.6L495.5 235.6L496.3 236.5L496.7 237.6L496.8 238.8L497.0 240.0L497.6 241.0L498.0 242.1L496.9 241.7L495.7 241.4L494.9 240.5L494.6 239.4L494.6 238.2L494.0 237.1L493.2 236.2L492.4 235.4L491.8 234.3L491.0 233.4L490.6 232.3L491.3 231.3L491.2 230.1L491.5 228.9L492.4 228.2L493.1 227.2L493.8 226.2L492.6 226.1L491.9 227.1L491.1 228.0L491.1 229.2L490.4 230.2L489.2 230.2L488.0 230.2L487.2 231.1L486.3 231.8L485.3 232.5L484.1 232.6L482.9 232.7L481.8 232.4L481.1 231.5L480.4 230.5L479.6 229.6L479.8 228.4L479.3 227.3L479.3 228.5L479.6 229.7L479.3 230.8L479.9 231.9L479.2 232.9L479.0 234.1L479.8 235.0L480.9 235.4L482.1 235.5L482.8 234.5L483.3 233.4L483.6 232.3L484.4 231.3L484.8 230.2L484.6 229.0L483.8 228.2L483.5 227.0L484.3 226.1L485.2 225.3L485.0 226.5L484.1 227.3L483.4 228.2L483.4 229.4L484.3 230.2L484.6 231.4L484.1 232.5L483.3 233.4L482.5 234.3L481.6 235.1L481.4 236.3L480.2 236.7L479.3 237.4L478.2 237.8L477.0 237.4L476.4 236.4L475.8 235.4L474.7 234.8L473.7 234.1L474.9 233.9L475.9 234.5L477.1 234.7L477.8 235.7L478.9 236.3" fill="none" stroke="#c055b0" stroke-width="0.7" stroke-opacity=".65"/>
<ellipse cx="487" cy="221.1" rx="11.2" ry="4.9" fill="url(#hl)"/>
<circle cx="603" cy="91" r="10" fill="url(#g12)"/>
<circle cx="603" cy="91" r="9.5" fill="none" stroke="url(#rim)" stroke-width="1"/>
<ellipse cx="603" cy="84.55" rx="5.6" ry="2.45" fill="url(#hl)"/>
<circle cx="720" cy="78" r="20" fill="url(#g13)"/>
<circle cx="720" cy="78" r="19.5" fill="none" stroke="url(#rim)" stroke-width="1"/>
<path d="M719.0 77.5L718.5 78.6L719.3 79.6L719.5 80.7L720.3 81.7L721.4 82.1L722.6 81.9L723.8 81.8L724.9 81.4L726.1 81.4L727.2 81.8L728.4 81.9L729.1 82.9L728.9 84.1L729.7 84.9L729.8 86.1L728.9 86.9L727.7 87.0L726.9 88.0L725.7 88.2L724.6 88.0L723.9 89.0L724.4 90.1L723.7 91.1L724.7 90.4L725.1 89.2L724.5 88.2L723.3 87.9L722.2 88.3L721.0 88.0L719.8 88.1L719.0 89.0L717.8 88.9L716.9 88.1L715.7 88.2L714.9 87.3L714.3 86.2L714.4 85.0L715.0 84.0L716.2 83.7L717.3 84.2L717.7 85.3L718.8 85.9L719.5 86.8L720.2 87.8L720.3 89.0L720.5 90.2L719.7 91.1L720.6 90.3L720.9 89.1L720.5 88.0L719.4 87.5L718.3 87.0L717.3 87.6L716.3 88.3L716.1 89.4L715.9 90.6L716.1 89.4L716.4 88.3L717.4 87.7L717.4 86.5L718.1 85.6L718.8 84.6L719.7 83.7L720.8 83.2L721.9 83.6L723.1 83.6L724.3 83.5L725.1 84.4L726.3 84.3L727.4 84.6L728.5 85.2L729.5 84.6L730.7 84.3L731.9 84.5L731.3 83.4L730.4 82.6L730.7 81.5L730.9 80.3L731.2 79.1L732.2 78.5L732.3 77.3L731.7 78.4L730.8 79.2L730.3 80.3L729.2 80.7L728.2 81.4L727.3 82.2L726.3 82.9L725.1 82.9L724.1 83.6L723.3 84.5L722.6 85.5L721.9 86.4L720.7 86.6L719.7 87.2L718.5 87.1L717.3 87.2L716.1 87.3L715.1 88.0L714.1 88.6L713.0 88.0L712.2 87.2L712.1 86.0L711.5 84.9L710.6 84.2L709.4 83.9L708.3 83.4L707.4 82.6L707.2 81.4L708.3 81.8L709.1 82.7L709.0 83.9L708.7 85.0L709.6 85.9L710.7 86.3L711.6 85.5L711.8 84.3L712.8 83.7L714.0 83.5L715.2 83.6L716.1 84.4L716.0 85.6L715.6 86.7L715.0 87.7L714.1 88.5L712.9 88.9L711.7 89.0L712.9 89.3L714.0 89.0L715.2 89.0L716.4 89.0L717.5 89.6L718.6 89.2L719.2 88.1L718.6 87.1L718.8 85.9L719.8 85.3L721.0 85.0L722.0 84.5L723.2 84.7" fill="none" stroke="#c8a020" stroke-width="0.7" stroke-opacity=".65"/>
<ellipse cx="720" cy="65.1" rx="11.2" ry="4.9" fill="url(#hl)"/>
<circle cx="603" cy="143" r="20" fill="url(#g14)"/>
<circle cx="603" cy="143" r="19.5" fill="none" stroke="url(#rim)" stroke-width="1"/>
<path d="M605.3 144.4L605.7 145.5L606.4 146.5L607.4 147.2L608.4 147.7L609.3 148.6L609.1 149.7L610.0 150.6L610.7 151.5L611.9 151.4L612.6 150.4L613.8 150.1L615.0 149.9L614.1 149.1L613.2 148.3L612.1 148.7L611.1 149.4L610.0 149.9L609.0 149.3L609.0 148.1L609.0 146.9L608.8 145.7L607.7 145.2L606.8 144.3L605.7 144.1L604.7 144.8L604.8 146.0L605.9 146.5L606.8 147.3L608.0 147.2L608.6 148.2L609.8 148.3L610.6 149.3L611.8 149.3L612.4 148.3L613.5 147.8L614.1 146.7L615.1 146.1L615.4 144.9L614.7 144.0L614.6 142.8L615.1 141.7L614.0 142.1L612.8 142.0L612.0 142.9L610.9 143.4L609.7 143.5L608.5 143.7L607.7 142.8L606.5 142.5L606.2 141.3L606.5 140.1L605.5 139.4L604.4 139.8L603.2 139.8L602.3 139.1L601.1 139.4L600.2 140.2L599.0 140.4L598.3 141.3L597.1 141.5L595.9 141.7L595.4 142.7L595.2 143.9L594.8 145.0L594.5 146.2L593.9 147.2L594.1 148.4L593.6 149.5L593.4 150.7L592.9 151.7L593.7 150.9L594.3 149.9L594.7 148.7L595.7 148.0L596.8 148.5L597.5 149.5L598.0 150.5L598.9 151.3L600.1 151.0L600.9 151.8L601.4 152.9L601.0 154.0L601.0 155.2L600.7 156.4L601.9 156.0L603.0 156.5L602.0 155.8L600.8 155.6L599.6 155.5L598.9 154.5L597.9 153.8L597.4 152.7L597.0 151.6L597.7 150.6L598.8 150.2L599.7 149.4L599.3 148.2L598.4 147.4L597.4 146.8L596.5 146.0L596.3 144.8L597.1 143.9L596.8 142.7L597.3 141.7L598.4 141.2L599.6 141.6L600.6 142.2L601.8 142.3L602.6 143.1L602.7 144.3L602.3 145.5L601.2 145.9L600.3 146.6L600.3 147.8L600.2 149.0L599.3 149.9L599.2 151.1L598.5 152.0L597.3 152.0L596.3 152.6L595.1 153.0L593.9 152.9L595.1 152.9L596.1 152.2L596.5 151.1L597.5 150.4L598.7 150.3L599.9 150.2L600.5 149.2L601.7 148.9L602.8 149.2L604.0 148.8L605.2 148.6L606.1 149.5L606.0 150.7L606.0 151.8L606.0 153.0L605.7 154.2L606.3 155.3L607.4 155.8" fill="none" stroke="#7a8a90" stroke-width="0.7" stroke-opacity=".65"/>
<ellipse cx="603" cy="130.1" rx="11.2" ry="4.9" fill="url(#hl)"/>
<circle cx="720" cy="130" r="20" fill="url(#g15)"/>
<circle cx="720" cy="130" r="19.5" fill="none" stroke="url(#rim)" stroke-width="1"/>
<path d="M717.4 132.2L716.5 133.0L715.8 134.0L715.1 134.9L715.2 136.1L716.3 136.6L716.3 137.8L716.6 139.0L717.7 139.5L718.6 140.3L718.9 141.4L719.9 142.1L720.7 143.0L721.8 143.5L720.8 142.9L719.7 143.5L719.7 142.3L720.8 141.8L721.9 142.1L723.1 142.5L724.2 142.9L723.0 143.1L721.9 142.5L720.8 142.1L720.5 140.9L720.9 139.8L722.0 139.2L723.0 139.8L724.2 139.7" fill="none" stroke="#2050e0" stroke-width="0.7" stroke-opacity=".65"/>
<path d="M724.2 139.7L724.8 138.7L724.6 137.5L723.7 136.7L722.5 136.9L722.1 138.0L721.5 139.1L720.3 139.4L719.2 139.7L718.2 139.0L718.2 137.8L717.2 137.2L716.4 136.3L715.4 135.6L714.2 135.9L713.4 135.1L712.2 134.8L711.1 134.4L710.1 133.7L710.3 132.5L710.8 131.4L711.1 130.2L711.3 129.1L710.6 128.1L711.0 127.0L712.2 126.9L713.2 126.1L713.0 124.9L712.2 124.0" fill="none" stroke="#20b0c0" stroke-width="0.7" stroke-opacity=".65"/>
<path d="M712.2 124.0L711.2 123.3L711.4 124.5L710.5 125.4L709.3 125.4L708.7 126.5L709.8 126.0L711.0 126.0L712.2 126.5L712.3 127.7L713.4 128.2L714.5 127.8L715.7 128.1L716.1 129.2L716.1 130.4L716.6 131.5L716.9 132.6L716.5 133.8L717.1 134.8L718.0 135.5L719.2 135.7L720.1 134.9L721.0 134.1L721.1 132.9L720.6 131.8L719.4 131.5L718.5 130.7L717.4 131.1L716.2 131.0" fill="none" stroke="#30c040" stroke-width="0.7" stroke-opacity=".65"/>
<path d="M716.2 131.0L715.2 131.7L715.2 132.9L714.3 133.6L713.9 134.7L712.8 135.1L711.7 134.5L711.4 133.4L710.4 132.7L709.4 132.2L708.3 132.7L707.2 132.1L706.8 131.0L706.8 129.8L707.0 131.0L707.5 132.0L707.3 133.2L707.1 134.4L707.6 133.3L707.2 132.2L708.2 132.9L709.3 132.5L710.5 132.6L711.7 132.9L712.7 132.2L713.8 132.6L715.0 132.3L716.1 131.8L716.5 130.6" fill="none" stroke="#c0c020" stroke-width="0.7" stroke-opacity=".65"/>
<path d="M716.5 130.6L716.4 129.5L717.1 128.5L717.4 127.3L716.8 126.2L716.2 125.2L715.3 124.4L715.3 123.2L714.4 122.5L714.6 121.3L715.4 122.1L715.3 123.3L714.8 124.4L715.0 125.6L715.3 126.8L716.1 127.7L717.2 128.1L718.4 127.7L719.3 127.0L720.4 127.5L720.4 128.7L719.5 129.5L719.4 130.7L719.9 131.8L719.4 132.8L720.0 133.9L720.0 135.1L720.6 136.1L719.9 137.1" fill="none" stroke="#e07020" stroke-width="0.7" stroke-opacity=".65"/>
<ellipse cx="720" cy="117.1" rx="11.2" ry="4.9" fill="url(#hl)"/>
<circle cx="721" cy="182" r="10" fill="url(#g16)"/>
<circle cx="721" cy="182" r="9.5" fill="none" stroke="url(#rim)" stroke-width="1"/>
<ellipse cx="721" cy="175.55" rx="5.6" ry="2.45" fill="url(#hl)"/>
<circle cx="604" cy="195" r="20" fill="url(#g17)"/>
<circle cx="604" cy="195" r="19.5" fill="none" stroke="url(#rim)" stroke-width="1"/>
<path d="M600.1 197.8L600.4 199.0L601.6 199.3L602.2 200.3L602.8 201.3L603.9 201.8L605.1 202.0L605.7 203.1L606.7 203.7L607.7 204.4L608.8 204.2L609.6 203.3L610.8 203.0L612.0 203.3L613.1 202.7L613.3 201.6L612.5 200.7L611.9 199.6L611.4 198.5L610.4 197.9L609.2 197.9L608.0 197.7L607.0 197.0L606.8 195.8L606.7 194.6L605.9 193.7L604.7 193.9L603.6 193.4L602.4 193.1L601.5 192.3L600.4 192.7L599.3 192.2L598.1 192.2L597.2 191.3L597.2 190.1L597.3 188.9L596.2 188.3L596.4 189.5L596.6 190.7L596.0 191.7L595.8 192.9L596.5 193.8L596.3 195.0L596.5 196.2L597.5 197.0L598.6 197.4L599.6 198.1L600.6 197.5L601.7 197.0L602.7 196.4L603.8 195.8L604.0 194.6L604.8 193.7L605.9 193.4L606.9 194.1L608.1 194.4L609.0 195.1L610.1 195.6L610.8 196.6L612.0 196.6L612.8 197.5L612.5 198.6L612.2 199.8L611.9 201.0L611.5 202.1L611.0 203.2L611.7 204.1L611.3 205.3L611.5 206.4L610.6 205.7L609.4 206.0L608.6 206.8L607.4 206.9L606.8 207.9L606.3 206.8L606.3 205.6L605.6 204.7L604.4 204.9L603.2 204.8L602.1 204.5L600.9 204.2L600.0 203.3L598.8 203.5L597.9 202.8L597.4 201.7L596.2 201.5L595.3 202.2L594.4 203.0L593.4 203.8L593.9 202.6L593.4 201.6L592.7 200.6L591.5 200.4L592.6 200.8L593.1 201.9L594.3 202.3L595.3 202.9L595.9 203.9L597.1 204.3L597.7 205.3L597.2 206.4L597.4 205.3L597.4 204.1L598.2 203.2L599.1 202.3L599.7 201.3L600.9 201.3L601.9 202.0L603.1 202.2L604.2 201.8L605.1 201.1L605.9 200.2L607.1 200.4L607.9 201.3L607.6 202.5L606.7 203.2L605.5 203.1L604.7 204.0L603.9 204.9L602.7 204.7L602.2 203.6L601.2 203.0L600.1 202.5L599.2 201.8L598.1 201.3L597.0 200.8L595.9 201.3L595.0 202.0L594.0 202.7L594.1 203.9L595.0 204.7L595.2 203.5L596.0 202.6L597.2 202.8L598.3 203.3L598.8 204.3L598.4 205.4L597.3 205.8L597.0 207.0L597.6 206.0L597.6 204.8" fill="none" stroke="#7a8a90" stroke-width="0.7" stroke-opacity=".65"/>
<ellipse cx="604" cy="182.1" rx="11.2" ry="4.9" fill="url(#hl)"/>
<circle cx="721" cy="234" r="20" fill="url(#g18)"/>
<circle cx="721" cy="234" r="19.5" fill="none" stroke="url(#rim)" stroke-width="1"/>
<path d="M722.4 233.6L722.0 232.5L721.9 231.3L721.1 230.4L720.4 229.4L719.6 228.5L719.9 227.4L719.6 226.2L718.9 225.2L719.3 226.4L720.4 226.8L721.4 227.5L721.3 228.7L721.2 229.9L721.8 231.0L722.4 232.0L722.9 233.1L724.0 233.6L725.1 233.0L725.4 231.9L725.2 230.7L724.8 229.6L723.9 228.8L722.7 228.5L721.8 229.4L720.8 230.1L719.6 229.9L718.5 229.5L717.5 228.9L716.7 228.0L715.5 227.8L714.5 227.1L713.5 226.5L714.5 227.2L715.2 228.1L716.0 229.0L717.1 229.5L718.3 229.4L719.2 228.5L720.0 227.8L720.7 226.8L721.6 225.9L721.2 224.8L721.9 225.7L721.7 226.9L722.2 228.0L722.5 229.2L722.8 230.3L723.7 231.2L723.3 232.3L723.5 233.5L723.0 234.6L723.3 235.7L724.5 236.1L725.0 237.2L725.6 238.2L726.8 238.3L728.0 238.0L729.1 237.6L730.3 237.8L731.2 237.1L731.6 235.9L732.7 235.6L733.9 235.9L732.8 236.5L732.1 237.4L731.6 238.5L730.8 239.4L729.8 240.0L728.6 239.7L727.9 238.8L727.2 237.8L727.1 236.6L727.6 235.5L728.7 234.9L729.6 234.2L730.8 234.3L731.9 234.8L732.1 236.0L733.1 236.7L733.3 237.8L732.2 237.5L731.4 236.5L730.9 235.5L730.3 234.4L730.9 233.4L731.6 232.5L732.2 231.4L731.1 231.9L730.0 231.5L729.0 230.8L727.9 230.4L726.7 230.2L725.5 230.0L724.5 229.3L723.4 229.1L722.2 229.2L721.0 229.1L719.8 229.3L718.8 230.0L717.6 229.9L716.8 229.1L715.9 228.2L715.0 227.4L713.8 227.5L712.7 228.0L712.3 229.1L711.7 230.1L710.9 231.1L711.2 232.2L710.4 233.1L710.0 234.3L709.0 234.8L707.8 234.5L708.2 235.7L709.2 236.4L710.2 236.9L710.5 238.1L711.7 238.4L712.6 237.6L713.6 237.0L714.6 236.3L715.7 236.7L716.4 237.7L717.0 238.7L716.4 239.7L715.7 240.7L715.0 241.7L714.0 242.3L713.1 243.1L712.6 244.2L713.3 243.3L713.7 242.1L714.9 241.9L716.1 242.1L717.3 242.3L718.2 241.6L718.9 240.6L719.4 239.5L720.0 238.5L720.8 237.6" fill="none" stroke="#c8a020" stroke-width="0.7" stroke-opacity=".65"/>
<ellipse cx="721" cy="221.1" rx="11.2" ry="4.9" fill="url(#hl)"/>
<circle cx="604" cy="247" r="10" fill="url(#g19)"/>
<circle cx="604" cy="247" r="9.5" fill="none" stroke="url(#rim)" stroke-width="1"/>
<ellipse cx="604" cy="240.55" rx="5.6" ry="2.45" fill="url(#hl)"/>
<circle cx="837" cy="52" r="10" fill="url(#g20)"/>
<circle cx="837" cy="52" r="9.5" fill="none" stroke="url(#rim)" stroke-width="1"/>
<ellipse cx="837" cy="45.55" rx="5.6" ry="2.45" fill="url(#hl)"/>
<circle cx="837" cy="104" r="10" fill="url(#g21)"/>
<circle cx="837" cy="104" r="9.5" fill="none" stroke="url(#rim)" stroke-width="1"/>
<ellipse cx="837" cy="97.55" rx="5.6" ry="2.45" fill="url(#hl)"/>
<circle cx="838" cy="156" r="10" fill="url(#g22)"/>
<circle cx="838" cy="156" r="9.5" fill="none" stroke="url(#rim)" stroke-width="1"/>
<ellipse cx="838" cy="149.55" rx="5.6" ry="2.45" fill="url(#hl)"/>
<circle cx="838" cy="208" r="20" fill="url(#g23)"/>
<circle cx="838" cy="208" r="19.5" fill="none" stroke="url(#rim)" stroke-width="1"/>
<path d="M841.0 211.8L839.9 212.0L838.7 212.0L838.2 210.9L837.3 210.0L836.6 209.1L836.6 207.9L835.8 207.0L834.7 206.5L834.6 205.3L835.3 204.3L836.0 203.4L835.8 202.2L836.6 201.3L837.6 200.7L838.8 201.0L839.1 202.2L838.4 203.2L838.0 204.3L838.4 205.4L839.2 206.2L840.1 207.1L840.9 207.9L842.1 208.1L843.1 207.4L844.2 207.1L845.4 207.0L846.5 206.6L847.5 207.3L848.1 208.3L849.3 208.3L850.5 208.1L849.4 207.6L848.2 207.6L847.1 207.1L846.2 207.8L845.6 208.9L844.5 209.3L843.3 209.5L842.1 209.3L841.0 209.8L840.0 210.3L838.8 210.7L838.1 211.6L837.0 212.2L835.9 212.8L835.0 212.1L834.1 211.2L833.1 210.5L832.0 210.8L831.3 211.8L830.2 212.3L829.9 213.4L830.6 214.4L831.7 214.7L832.9 215.1L833.5 216.1L833.9 217.3L833.4 218.4L834.1 219.4L835.3 219.3L836.4 219.8L837.6 220.0L838.6 220.6L839.7 220.9L840.8 220.4L841.5 219.4L841.1 218.2L841.8 217.2L842.6 216.4L843.1 215.3L843.5 214.2L843.6 213.0L842.7 212.2L842.6 211.0L842.8 209.8L843.9 209.3L844.9 208.7L846.1 208.4L846.9 207.5L846.6 206.3L847.3 205.4L848.5 205.3L849.6 204.7L848.4 204.3L847.8 203.2L846.9 202.5L846.1 201.6L845.7 202.8L845.4 203.9L844.3 204.3L843.5 205.2L843.0 206.3L842.0 207.0L841.6 208.1L841.7 209.3L840.9 210.2L840.2 211.1L839.0 211.4L838.1 212.3L838.1 213.5L838.4 214.6L839.3 215.3L839.2 216.5L839.7 217.6L839.9 218.8L841.0 219.4L842.0 220.0L843.1 220.4L842.0 220.3L841.2 221.2L841.0 220.0L841.7 219.0L842.0 217.8L841.7 216.7L840.7 216.0L839.5 215.9L838.4 216.4L838.3 217.6L837.8 218.6L837.7 219.8L838.4 220.8L838.1 219.6L837.1 219.1L835.9 219.1L835.0 218.3L833.8 218.4L832.6 218.7L831.6 218.1L831.1 217.0L830.0 216.5L828.8 216.4L827.8 215.7L826.7 215.4L826.4 214.2L825.5 213.4L825.6 212.2L825.7 211.0L825.2 210.0L825.9 211.0L827.0 211.2" fill="none" stroke="#8a6ad0" stroke-width="0.7" stroke-opacity=".65"/>
<ellipse cx="838" cy="195.1" rx="11.2" ry="4.9" fill="url(#hl)"/>
<circle cx="863" cy="260" r="20" fill="url(#g24)"/>
<circle cx="863" cy="260" r="19.5" fill="none" stroke="url(#rim)" stroke-width="1"/>
<path d="M864.7 259.6L865.7 259.1L866.6 258.3L867.0 257.1L867.6 256.1L867.4 254.9L868.2 254.0L868.1 252.8L867.9 251.6L867.9 252.8L868.5 253.8L868.4 255.0L868.6 256.2L868.4 257.4L868.0 258.5L868.1 259.7L868.5 260.8L869.6 261.2L870.7 260.8L871.8 261.3L873.0 261.3L874.2 261.7L875.2 261.1L876.3 260.7L875.4 261.4L874.5 262.2L873.9 263.2L874.5 264.3L875.5 265.0L874.3 265.0L873.4 265.8L872.3 266.1L871.4 267.0L870.7 268.0L869.5 268.1L868.5 267.5L868.3 266.3L868.9 265.3L868.6 264.2L867.9 263.2L866.7 263.5L865.5 263.2L864.5 262.6L863.3 262.3L862.1 262.2L861.0 261.7L860.2 260.8L859.1 260.5L858.5 259.4L857.6 258.6L857.0 257.6L855.8 257.3L854.8 257.9L853.7 257.4L852.9 256.5L852.7 255.3L853.8 255.7L854.7 255.0L854.9 253.8L855.5 254.8L856.5 255.6L857.6 256.0L858.5 255.3L859.1 254.2L860.0 253.4L860.1 252.2L861.0 251.4L862.1 250.8L863.2 250.7L862.3 251.4L861.4 252.2L860.3 252.6L859.4 253.4L859.6 254.6L859.0 255.6L858.0 256.1L857.2 257.1L857.7 258.2L857.2 259.3L856.4 260.3L856.8 261.4L857.8 262.1L858.9 261.9L860.0 262.5L861.2 262.2L862.1 263.0L862.4 264.2L863.6 264.6L864.4 265.5L865.4 266.1L865.9 267.2L865.6 268.4L865.9 269.5L867.0 270.1L867.1 271.2L867.5 272.4L868.2 271.4L869.3 270.8L870.5 270.9L869.6 270.1L868.9 269.0L868.2 268.1L867.0 268.2L865.9 267.7L864.7 267.5L863.6 267.2L863.1 266.1L862.0 265.6L861.3 264.7L860.1 264.7L859.0 264.3L858.4 263.3L857.3 262.6L856.4 261.9L856.5 260.7L856.9 259.6L857.5 258.6L857.4 257.4L856.4 256.8L855.2 256.5L854.0 256.4L853.1 257.1L852.5 258.2L852.8 259.3L852.5 260.5L851.9 261.5L851.9 262.7L852.6 263.7L853.2 264.8L853.9 265.7L853.6 266.8L853.6 268.0L854.2 269.1L853.8 270.2L853.3 269.1L852.9 268.0L852.2 267.0L852.3 265.8L852.5 264.6L853.3 263.7L853.3 262.5" fill="none" stroke="#c055b0" stroke-width="0.7" stroke-opacity=".65"/>
<ellipse cx="863" cy="247.1" rx="11.2" ry="4.9" fill="url(#hl)"/>
<circle cx="889" cy="312" r="20" fill="url(#g25)"/>
<circle cx="889" cy="312" r="19.5" fill="none" stroke="url(#rim)" stroke-width="1"/>
<path d="M890.3 313.6L889.2 313.2L888.6 312.1L887.5 311.9L886.3 312.2L885.3 312.8L884.8 313.9L885.5 314.9L886.5 315.5L887.7 315.3L888.9 315.6L890.1 315.8L891.0 315.0L891.6 314.0L892.1 312.9L892.2 311.7L891.5 310.7L890.3 310.7L889.7 311.7L888.5 311.7L887.5 311.0L886.4 311.4L885.2 311.3L884.8 310.1L884.5 309.0L883.4 308.4L882.3 307.9L881.2 307.5L880.1 308.0" fill="none" stroke="#2050e0" stroke-width="0.7" stroke-opacity=".65"/>
<path d="M880.1 308.0L878.9 308.3L878.7 309.5L877.6 310.0L876.4 310.1L877.6 310.3L878.1 311.4L878.3 312.6L879.0 313.5L880.1 313.9L881.2 313.4L881.3 312.2L882.1 311.3L883.3 311.1L884.3 310.5L884.6 309.3L885.3 308.3L886.5 308.1L887.3 308.9L888.5 308.9L889.5 309.6L889.8 310.7L889.4 311.9L889.5 313.1L890.3 313.9L890.4 315.1L890.9 316.2L891.7 317.1L892.4 318.1" fill="none" stroke="#20b0c0" stroke-width="0.7" stroke-opacity=".65"/>
<path d="M892.4 318.1L893.3 318.8L893.6 320.0L894.4 320.9L895.6 320.7L896.8 320.6L897.9 320.9L898.6 321.9L898.4 320.7L899.2 319.8L900.4 319.9L899.2 319.8L898.0 319.7L897.0 320.4L896.5 321.5L895.8 322.4L896.1 323.6L896.2 322.4L895.6 321.4L894.8 320.5L895.2 319.3L894.5 318.3L893.3 318.4L892.1 318.6L891.3 319.4L890.2 319.9L890.0 321.0L889.1 321.8L887.9 321.7" fill="none" stroke="#30c040" stroke-width="0.7" stroke-opacity=".65"/>
<path d="M887.9 321.7L887.0 320.9L886.0 320.3L884.8 320.2L883.7 319.7L882.6 319.1L881.5 318.8L880.3 318.9L879.1 319.1L877.9 318.9L877.2 318.0L877.4 316.8L876.8 315.7L875.8 315.1L876.9 315.6L877.9 316.3L879.0 316.6L880.1 316.1L880.4 315.0L880.3 313.8L880.0 312.6L880.9 311.8L882.1 312.0L882.8 313.0L882.3 314.0L881.1 314.2L879.9 314.0L879.1 313.2L877.9 313.4" fill="none" stroke="#c0c020" stroke-width="0.7" stroke-opacity=".65"/>
<path d="M877.9 313.4L876.7 313.1L875.7 312.5L876.9 312.6L878.0 312.8L878.5 313.9L879.0 315.0L879.1 316.2L879.8 317.2L880.7 317.9L880.8 319.1L881.8 319.7L883.0 319.5L884.2 319.7L885.4 319.8L886.2 318.9L887.2 318.3L888.1 317.5L889.1 316.8L890.0 316.0L890.9 315.2L891.9 314.6L892.7 313.7L892.7 312.5L891.8 311.7L891.9 310.5L892.2 309.3L891.4 308.4L891.6 307.2" fill="none" stroke="#e07020" stroke-width="0.7" stroke-opacity=".65"/>
<ellipse cx="889" cy="299.1" rx="11.2" ry="4.9" fill="url(#hl)"/>
<circle cx="83" cy="260" r="10" fill="url(#g26)"/>
<circle cx="83" cy="260" r="9.5" fill="none" stroke="url(#rim)" stroke-width="1"/>
<ellipse cx="83" cy="253.55" rx="5.6" ry="2.45" fill="url(#hl)"/>
<circle cx="253" cy="273" r="10" fill="url(#g27)"/>
<circle cx="253" cy="273" r="9.5" fill="none" stroke="url(#rim)" stroke-width="1"/>
<ellipse cx="253" cy="266.55" rx="5.6" ry="2.45" fill="url(#hl)"/>
<circle cx="135" cy="312" r="20" fill="url(#g28)"/>
<circle cx="135" cy="312" r="19.5" fill="none" stroke="url(#rim)" stroke-width="1"/>
<path d="M133.0 310.6L131.9 311.0L130.8 311.4L129.6 311.7L128.8 312.6L127.9 313.4L127.9 314.6L127.9 315.8L127.6 317.0L128.3 317.9L129.2 318.7L130.4 318.4L131.5 317.9L132.6 318.4L133.7 319.0L134.3 320.0L134.3 321.2L135.2 322.0L135.0 323.2L134.2 324.1L134.4 325.3L135.0 324.3L135.4 323.1L134.9 322.0L135.6 321.0L136.4 320.2L137.6 319.9L138.2 318.9L139.3 318.4L139.6 317.2L139.1 316.1L138.4 315.2L137.2 315.4L136.0 315.3L135.0 316.0L134.4 317.0L133.4 317.7L132.5 318.5L131.3 318.3L130.2 317.9L129.7 316.8L129.5 315.6L130.2 314.7L131.4 314.6L132.3 313.7L133.4 313.4L134.4 312.7L135.6 312.7L136.7 313.2L137.3 314.2L138.5 314.5L139.7 314.5L140.7 315.1L140.8 316.3L140.3 317.4L141.0 318.4L141.4 319.5L142.6 319.9L143.7 320.4L144.2 321.4L143.1 321.2L142.6 320.0L142.6 318.8L142.0 317.8L140.8 317.4L139.7 317.1L139.0 316.1L138.5 315.0L137.4 314.7L136.5 315.5L136.5 316.7L135.8 317.7L135.9 318.9L135.8 320.1L136.3 321.2L136.3 322.4L136.6 323.5L137.7 324.1L137.9 325.3L137.8 324.1L138.1 323.0L139.1 322.3L140.2 322.7L141.1 322.0L141.7 320.9L141.4 319.8L141.2 318.6L141.8 317.6L143.0 317.2L143.2 316.0L142.7 315.0L143.0 313.8L143.7 312.8L144.1 311.7L144.5 310.6L144.0 309.5L144.4 308.4L144.6 307.2L143.6 307.9L142.5 308.4L142.2 309.5L142.4 310.7L143.2 311.6L143.1 312.8L142.7 313.9L143.5 314.8L144.7 315.0L145.9 314.8L147.0 314.5L148.2 314.4L147.1 314.8L146.1 315.5L146.3 316.7L146.3 317.9L146.7 319.0L145.5 318.8L144.3 318.7L143.8 317.6L142.6 317.5L141.7 318.2L140.5 318.5L139.6 319.3L139.3 320.4L138.9 321.6L139.1 322.7L139.2 323.9L139.2 325.1L140.2 324.5L139.2 323.9L138.1 324.5L137.0 324.9L135.8 324.6L135.2 323.6L135.3 322.4L135.8 321.3L136.5 320.4L136.9 319.2L136.8 318.0L137.4 317.0L138.6 316.8L139.5 317.6" fill="none" stroke="#c055b0" stroke-width="0.7" stroke-opacity=".65"/>
<ellipse cx="135" cy="299.1" rx="11.2" ry="4.9" fill="url(#hl)"/>
<circle cx="188" cy="364" r="20" fill="url(#g29)"/>
<circle cx="188" cy="364" r="19.5" fill="none" stroke="url(#rim)" stroke-width="1"/>
<path d="M189.5 363.8L190.1 362.8L190.8 361.9L191.8 361.1L192.5 360.2L193.3 359.2L193.8 358.2L193.3 357.1L192.4 356.3L191.3 355.9L191.1 354.7L191.3 355.9L191.9 356.9L192.9 357.6L194.1 357.5L195.2 357.0L194.8 358.2L195.5 359.1L195.4 360.3L195.4 361.5L195.5 362.7L195.5 363.9L195.9 365.0L197.0 365.5L198.0 364.9L198.8 364.0L199.0 362.8L199.8 361.9L198.9 362.7" fill="none" stroke="#2050e0" stroke-width="0.7" stroke-opacity=".65"/>
<path d="M198.9 362.7L197.7 362.4L196.6 362.6L195.7 361.7L195.0 360.8L193.8 360.7L192.9 361.4L191.8 362.0L190.8 361.3L189.7 361.0L188.9 360.1L188.0 359.3L188.0 358.1L187.0 357.4L185.9 356.8L185.8 355.6L185.0 354.6L186.2 355.1L187.1 354.4L186.9 355.5L187.3 356.7L187.1 357.9L187.7 358.9L188.5 359.8L189.7 360.1L190.8 360.5L191.2 361.7L191.2 362.9L192.0 363.8" fill="none" stroke="#20b0c0" stroke-width="0.7" stroke-opacity=".65"/>
<path d="M192.0 363.8L192.2 365.0L191.3 365.8L190.3 366.4L190.1 367.5L189.2 368.4L188.0 368.3L186.9 368.6L186.3 369.7L186.5 370.8L186.7 372.0L185.9 372.9L184.9 373.6L183.7 373.1L182.6 373.4L181.6 374.1L180.4 374.2L179.3 373.9L178.1 373.9L179.2 374.4L180.3 374.5L181.1 373.5L181.6 372.5L181.0 371.4L180.8 370.3L180.1 369.3L179.4 368.3L178.9 367.2L177.9 366.5" fill="none" stroke="#30c040" stroke-width="0.7" stroke-opacity=".65"/>
<path d="M177.9 366.5L176.9 365.9L175.9 366.4L174.8 366.0L175.8 366.6L175.7 367.8L176.7 368.5L177.4 369.5L177.6 370.6L178.3 371.7L179.4 371.8L180.4 371.1L180.6 369.9L181.4 369.0L181.2 367.9L181.8 366.8L182.3 365.7L182.8 364.6L183.5 363.7L184.3 362.8L185.4 362.3L186.6 362.0L187.6 361.3L188.7 361.2L189.7 360.5L190.9 360.3L192.0 360.8L192.6 361.9L193.6 362.6" fill="none" stroke="#c0c020" stroke-width="0.7" stroke-opacity=".65"/>
<path d="M193.6 362.6L194.0 363.7L193.2 364.6L192.6 365.6L192.4 366.8L192.2 368.0L191.2 368.5L190.8 369.6L191.6 370.5L192.5 371.3L193.0 372.4L192.9 373.6L193.1 374.8L192.1 375.5L191.8 376.7L190.8 377.4L190.8 376.2L189.8 375.7L188.6 376.0L188.3 377.2L188.6 376.0L189.1 374.9L188.8 373.8L189.5 372.8L190.0 371.7L189.6 370.6L188.5 370.1L187.9 369.0L188.3 367.9" fill="none" stroke="#e07020" stroke-width="0.7" stroke-opacity=".65"/>
<ellipse cx="188" cy="351.1" rx="11.2" ry="4.9" fill="url(#hl)"/>
<circle cx="70" cy="390" r="20" fill="url(#g30)"/>
<circle cx="70" cy="390" r="19.5" fill="none" stroke="url(#rim)" stroke-width="1"/>
<path d="M67.3 388.2L66.8 387.1L67.6 386.1L68.3 385.2L69.3 384.5L70.0 383.5L71.2 383.2L72.3 382.7L73.1 381.9L74.3 382.1L75.2 381.3L74.1 381.5L73.6 382.6L72.8 383.6L72.3 384.6L71.1 384.9L70.7 386.1L70.2 387.1L69.8 388.3L68.7 388.7L67.7 388.1L67.0 387.1L65.8 386.8L64.7 387.1L63.8 388.0L63.1 389.0L63.1 390.2L63.8 391.1L63.8 392.3" fill="none" stroke="#2050e0" stroke-width="0.7" stroke-opacity=".65"/>
<path d="M63.8 392.3L63.5 393.5L63.7 394.7L62.8 395.4L62.4 396.6L61.9 397.7L62.3 398.8L61.7 399.9L60.6 400.2L61.4 399.3L62.6 399.1L63.6 399.6L64.8 399.6L66.0 399.2L67.1 398.7L68.1 399.2L69.3 398.9L70.5 399.0L71.6 399.4L72.8 399.7L73.9 400.2L74.3 401.3L75.3 402.0L75.1 400.8L74.6 399.7L74.8 398.5L75.8 397.8L76.2 396.7L77.2 396.1" fill="none" stroke="#20b0c0" stroke-width="0.7" stroke-opacity=".65"/>
<path d="M77.2 396.1L78.2 396.8L79.4 397.0L80.2 396.1L80.0 394.9L80.9 394.1L80.6 392.9L81.4 392.0L81.3 390.8L81.8 389.8L81.3 388.7L80.2 388.2L79.4 387.3L78.2 387.4L77.1 388.0L76.1 387.4L75.4 386.4L75.6 385.3L76.8 384.9L77.1 383.7L76.7 382.6L76.3 383.8L75.5 384.7L75.9 385.8L76.2 387.0L77.1 387.7L78.1 388.3L79.3 388.0L79.5 386.8" fill="none" stroke="#30c040" stroke-width="0.7" stroke-opacity=".65"/>
<path d="M79.5 386.8L80.6 386.4L79.7 387.2L78.5 387.1L77.6 387.8L76.7 388.6L76.7 389.8L76.9 391.0L77.8 391.8L78.2 392.9L79.4 393.4L80.1 394.3L80.9 395.2L82.1 395.3L80.9 395.6L79.8 396.0L78.8 395.3L77.6 394.9L76.5 395.3L75.6 394.5L75.6 393.3L76.1 392.2L76.1 391.0L75.3 390.1L74.2 389.8L73.2 390.5L73.3 391.7L73.3 392.9L73.6 394.0" fill="none" stroke="#c0c020" stroke-width="0.7" stroke-opacity=".65"/>
<path d="M73.6 394.0L73.7 395.2L74.2 396.3L75.4 396.4L76.5 397.0L77.3 397.9L78.0 398.8L78.6 399.9L78.5 398.7L79.4 398.0L80.6 398.2L79.7 397.4L78.6 396.9L77.4 396.9L76.2 397.0L75.5 396.1L74.5 395.3L73.4 394.8L72.2 394.6L71.2 395.2L70.2 394.6L69.2 395.3L68.0 395.7L67.1 395.0L65.9 394.9L64.7 394.5L63.5 394.5L62.5 395.1L62.0 396.2" fill="none" stroke="#e07020" stroke-width="0.7" stroke-opacity=".65"/>
<ellipse cx="70" cy="377.1" rx="11.2" ry="4.9" fill="url(#hl)"/>
<circle cx="237" cy="416" r="20" fill="url(#g31)"/>
<circle cx="237" cy="416" r="19.5" fill="none" stroke="url(#rim)" stroke-width="1"/>
<path d="M233.9 419.1L235.0 418.5L235.1 417.3L235.8 416.3L236.0 415.1L236.5 414.1L237.2 413.1L237.4 411.9L238.5 411.5L238.7 410.3L239.4 409.3L240.6 409.2L241.8 409.1L243.0 409.2L243.4 410.3L244.4 411.0L245.2 411.9L245.4 413.1L245.9 414.2L245.8 415.4L246.0 416.5L246.2 417.7L246.0 418.9L245.4 420.0L245.3 421.2L244.8 422.3L244.2 423.3L244.4 424.5L244.2 425.7L244.7 426.8L244.1 427.9L244.6 426.8L245.6 426.1L246.6 425.4L247.5 424.7L247.9 423.6L247.4 422.5L248.0 421.5L248.6 420.4L249.3 419.4L250.0 418.5L248.8 418.8L248.0 419.6L247.9 420.8L247.1 421.7L246.4 422.6L245.4 423.3L244.2 423.1L243.5 422.1L243.8 421.0L243.0 420.1L241.9 419.5L241.6 418.3L242.0 417.2L241.5 416.1L240.4 415.7L239.2 415.9L238.6 416.9L238.4 418.1L237.5 418.9L236.5 419.6L235.6 420.4L235.7 421.6L236.1 422.7L235.2 423.6L234.1 424.0L233.0 424.5L232.0 425.1L230.8 425.0L229.9 424.2L228.7 424.3L227.6 423.9L226.4 423.8L227.6 423.9L228.6 423.4L229.5 422.5L230.0 421.4L230.2 420.3L229.3 419.5L228.1 419.5L226.9 419.2L226.1 420.1L226.0 421.3L225.3 422.3L225.3 423.5L224.9 422.4L225.8 423.1L226.0 424.3L227.0 424.9L227.9 425.7L227.9 424.5L227.2 423.6L226.3 422.7L226.2 421.6L226.3 420.4L226.1 419.2L225.0 418.7L223.8 418.4L225.0 418.4L226.1 418.9L227.3 418.9L228.5 418.6L229.6 418.7L230.5 419.6L231.6 420.1L232.7 420.4L233.8 420.8L234.1 422.0L235.1 422.7L235.0 423.9L234.3 424.9L234.0 426.1L233.2 427.0L232.9 428.2L233.6 429.1L233.5 427.9L233.1 426.8L232.7 425.7L232.3 424.5L233.0 423.5L234.1 423.0L234.2 421.8L234.5 420.7L234.8 419.5L234.9 418.3L235.9 417.5L236.6 416.6L237.3 415.6L238.5 415.5L239.7 415.3L240.9 415.0L242.1 414.8L243.1 415.4L243.9 416.3L244.1 417.5L244.5 418.6L245.7 418.8L246.7 419.5L247.6 420.2L247.9 421.4L247.6 422.5" fill="none" stroke="#c03060" stroke-width="0.7" stroke-opacity=".65"/>
<ellipse cx="237" cy="403.1" rx="11.2" ry="4.9" fill="url(#hl)"/>
<circle cx="122" cy="442" r="10" fill="url(#g32)"/>
<circle cx="122" cy="442" r="9.5" fill="none" stroke="url(#rim)" stroke-width="1"/>
<ellipse cx="122" cy="435.55" rx="5.6" ry="2.45" fill="url(#hl)"/>
<circle cx="214" cy="494" r="10" fill="url(#g33)"/>
<circle cx="214" cy="494" r="9.5" fill="none" stroke="url(#rim)" stroke-width="1"/>
<ellipse cx="214" cy="487.55" rx="5.6" ry="2.45" fill="url(#hl)"/>
<circle cx="305" cy="325" r="10" fill="url(#g34)"/>
<circle cx="305" cy="325" r="9.5" fill="none" stroke="url(#rim)" stroke-width="1"/>
<ellipse cx="305" cy="318.55" rx="5.6" ry="2.45" fill="url(#hl)"/>
<circle cx="487" cy="286" r="10" fill="url(#g35)"/>
<circle cx="487" cy="286" r="9.5" fill="none" stroke="url(#rim)" stroke-width="1"/>
<ellipse cx="487" cy="279.55" rx="5.6" ry="2.45" fill="url(#hl)"/>
<circle cx="398" cy="378" r="20" fill="url(#g36)"/>
<circle cx="398" cy="378" r="19.5" fill="none" stroke="url(#rim)" stroke-width="1"/>
<path d="M394.9 377.3L395.4 378.4L396.5 378.8L397.5 378.1L398.7 378.1L399.9 378.2L400.7 377.3L401.8 376.7L403.0 376.7L404.2 376.6L404.8 375.6L405.7 374.9L406.6 374.0L407.6 373.4L408.6 373.9L409.1 375.0L408.6 376.1L409.0 377.2L409.8 378.2L410.5 379.1L409.4 379.3L408.6 378.4L407.5 377.9L406.3 378.1L405.3 378.7L404.7 379.8L403.6 380.1L402.4 380.3L401.2 380.5" fill="none" stroke="#2050e0" stroke-width="0.7" stroke-opacity=".65"/>
<path d="M401.2 380.5L400.1 380.9L399.7 382.1L399.9 383.2L399.2 384.2L398.1 384.5L397.0 383.9L395.8 384.0L394.9 384.7L395.0 385.9L395.0 387.1L395.4 388.3L395.8 389.4L396.2 390.5L396.5 391.7L395.9 390.6L396.1 389.4L395.5 388.4L396.0 387.3L396.6 386.3L396.1 385.2L395.2 384.4L394.4 383.5L393.4 382.8L392.5 382.0L391.4 381.6L390.2 381.8L389.1 381.2L387.9 381.2" fill="none" stroke="#20b0c0" stroke-width="0.7" stroke-opacity=".65"/>
<path d="M387.9 381.2L386.9 380.6L386.4 379.5L386.2 378.3L385.8 377.2L386.6 376.2L387.2 375.2L388.4 375.0L388.8 373.8L389.1 372.7L389.8 371.7L390.3 372.8L389.9 373.9L390.5 374.9L390.9 376.0L392.0 376.6L392.2 377.8L392.2 379.0L391.4 379.9L390.7 380.9L389.7 381.5L388.5 381.7L387.5 382.4L387.1 383.5L386.1 384.1L386.4 382.9L387.5 382.5L388.2 381.5L387.8 380.3" fill="none" stroke="#30c040" stroke-width="0.7" stroke-opacity=".65"/>
<path d="M387.8 380.3L386.7 379.9L386.1 378.9L386.5 377.8L386.8 376.6L387.5 375.6L387.5 374.4L388.5 373.7L389.7 373.5L390.3 372.5L389.9 371.3L389.8 372.5L390.8 373.2L391.1 374.4L391.8 375.3L393.0 375.7L394.0 376.2L395.2 376.3L396.4 376.6L397.4 376.0L398.6 376.4L399.8 376.4L400.7 377.2L401.9 377.1L402.8 377.8L402.7 379.0L402.9 380.2L404.0 380.7L405.2 380.9" fill="none" stroke="#c0c020" stroke-width="0.7" stroke-opacity=".65"/>
<path d="M405.2 380.9L406.2 381.4L407.4 381.2L408.6 381.1L409.3 380.2L409.9 379.1L411.0 378.5L410.0 379.3L408.9 379.6L408.4 380.7L407.3 381.2L406.9 382.3L405.8 382.7L404.9 381.9L405.1 380.7L405.4 379.5L405.1 378.3L404.5 377.3L404.5 376.1L404.5 374.9L405.4 374.2L405.5 373.0L405.5 371.8L406.3 371.0L405.3 371.6L404.2 372.1L404.0 373.3L404.7 374.3L405.7 374.9" fill="none" stroke="#e07020" stroke-width="0.7" stroke-opacity=".65"/>
<ellipse cx="398" cy="365.1" rx="11.2" ry="4.9" fill="url(#hl)"/>
<circle cx="512" cy="341" r="20" fill="url(#g37)"/>
<circle cx="512" cy="341" r="19.5" fill="none" stroke="url(#rim)" stroke-width="1"/>
<path d="M515.1 344.1L514.3 344.9L514.6 346.1L514.6 347.3L513.6 347.9L512.8 348.9L511.7 348.8L510.6 348.3L509.5 349.0L508.8 349.9L508.2 351.0L508.3 352.2L507.7 353.2L507.5 352.0L508.0 350.9L507.9 349.8L506.9 349.1L506.0 348.3L504.9 348.5L503.7 348.5L502.7 347.8L501.8 347.0L500.9 346.2L499.8 346.6L500.9 346.2L501.4 345.1L502.2 344.2L502.1 343.0L502.2 341.8L501.9 340.7L501.3 339.6L501.1 338.4L500.2 337.7L501.4 337.6L502.1 338.6L503.1 339.2L503.5 340.4L502.8 341.4L502.2 342.4L502.6 343.6L503.7 344.1L504.0 345.2L505.1 345.7L506.2 346.2L507.3 346.7L508.4 346.3L509.5 345.8L510.0 344.7L510.5 343.6L511.1 342.5L511.3 341.4L510.8 340.3L510.0 339.4L508.9 339.1L507.9 339.7L507.4 340.8L506.2 341.2L505.1 341.6L504.1 341.0L503.0 341.6L502.0 341.1L500.9 340.7L500.3 339.6L499.8 338.5L499.8 339.7L500.4 340.7L500.4 341.9L501.2 342.8L502.4 343.1L503.3 342.3L503.9 341.3L504.6 340.4L504.9 339.2L505.9 338.6L506.0 337.4L506.4 336.2L506.0 335.1L505.9 333.9L506.6 332.9L507.6 332.2L507.5 333.4L508.1 334.5L508.5 335.6L507.6 336.5L507.9 337.6L507.9 338.8L507.4 339.9L506.3 340.4L505.5 341.3L504.3 341.4L503.1 341.6L502.2 340.8L501.1 341.2L500.1 340.5L499.0 340.0L500.2 340.3L501.1 339.5L501.5 338.4L502.4 337.6L503.6 337.2L504.1 336.2L504.3 335.0L503.5 334.0L504.7 334.3L505.8 333.9L506.7 333.1L507.8 333.4L508.0 334.6L507.5 335.7L507.0 336.8L506.5 337.9L505.5 338.5L504.4 338.1L503.6 337.1L503.2 336.0L502.2 335.4L503.0 336.2L503.0 337.4L502.3 338.4L502.6 339.6L502.3 340.7L502.4 341.9L503.3 342.7L503.1 343.9L502.5 344.9L501.4 345.5L501.1 346.6L500.0 347.3L501.2 347.7L501.5 348.9L501.8 347.7L502.8 347.1L504.0 347.2L505.1 347.5L506.3 347.7L507.1 348.6L507.2 349.8L506.4 350.7L506.1 351.8L504.9 352.1L506.1 351.9" fill="none" stroke="#7a8a90" stroke-width="0.7" stroke-opacity=".65"/>
<ellipse cx="512" cy="328.1" rx="11.2" ry="4.9" fill="url(#hl)"/>
<circle cx="482" cy="457" r="20" fill="url(#g38)"/>
<circle cx="482" cy="457" r="19.5" fill="none" stroke="url(#rim)" stroke-width="1"/>
<path d="M485.6 455.7L486.7 456.2L487.8 456.1L488.8 456.8L490.0 456.8L491.0 456.1L491.9 455.3L492.2 454.2L492.5 453.0L491.4 453.5L490.2 453.5L489.2 453.0L488.0 452.7L487.2 451.8L487.1 450.6L487.5 449.5L488.6 449.2L489.7 449.7L488.5 449.4L487.6 450.1L486.5 450.6L485.4 450.1L484.2 450.0L483.0 449.7L482.3 448.7L482.4 447.5L483.4 448.2L484.5 448.8L485.5 448.1L485.3 449.3L484.4 450.1L483.7 451.0L482.7 451.8L481.8 452.6L481.3 453.7L481.5 454.9L482.1 455.9L481.8 457.1L481.2 458.1L481.1 459.3L482.0 460.1L483.2 460.4L484.1 461.1L485.2 461.7L485.9 462.7L485.9 463.9L486.8 464.7L487.3 465.8L488.5 465.9L489.3 466.8L490.5 467.0L491.6 466.6L490.7 465.8L489.5 465.4L488.4 465.7L487.4 465.1L486.6 464.2L486.7 463.0L486.6 461.8L486.5 460.6L487.4 459.9L488.4 459.1L489.5 459.6L490.6 459.3L491.7 459.8L492.9 459.5L494.0 459.3L494.3 458.1L493.8 457.0L494.4 456.0L493.9 457.1L492.8 457.6L492.2 458.6L492.0 459.8L492.7 460.8L493.3 461.8L493.0 463.0L492.6 464.1L492.6 465.3L491.6 466.0L490.5 465.7L489.5 465.0L488.4 465.4L487.2 465.4L486.0 465.6L485.2 464.7L484.2 464.1L483.4 463.1L483.0 462.0L482.2 461.1L481.5 460.1L481.3 458.9L482.0 458.0L482.8 457.0L483.2 455.9L484.4 455.7L484.9 454.7L486.0 454.2L487.2 454.2L488.4 454.4L489.6 454.4L490.6 455.1L490.8 456.3L490.3 457.4L489.4 458.1L489.5 459.3L490.1 460.4L491.2 460.7L491.6 461.9L490.9 462.9L491.2 464.0L491.2 465.2L491.0 466.4L490.1 465.6L489.0 465.1L488.4 464.0L488.2 462.9L487.4 462.0L487.2 460.8L486.5 459.8L486.0 458.7L485.2 457.8L485.7 456.7L486.5 455.8L487.6 455.5L488.8 455.8L490.0 455.7L490.7 456.7L490.9 457.9L490.6 459.0L490.8 460.2L491.8 460.9L492.7 461.7L492.8 462.9L492.2 463.9L491.9 465.1L492.5 466.1L491.9 465.1L492.3 463.9L491.8 462.8L491.9 461.6" fill="none" stroke="#8a6ad0" stroke-width="0.7" stroke-opacity=".65"/>
<ellipse cx="482" cy="444.1" rx="11.2" ry="4.9" fill="url(#hl)"/>
<circle cx="630" cy="303" r="20" fill="url(#g29)"/>
<circle cx="630" cy="303" r="19.5" fill="none" stroke="url(#rim)" stroke-width="1"/>
<path d="M627.4 302.9L628.6 302.7L629.7 302.3L630.6 303.0L630.5 304.2L631.2 305.2L632.2 305.9L632.2 307.1L633.0 308.0L634.0 308.6L635.2 309.0L636.2 308.4L636.8 307.4L637.2 306.2L637.2 305.0L638.3 304.4L638.9 303.4L638.8 302.2L639.6 301.4L640.4 300.5L641.6 300.3L640.4 300.1L639.6 299.3L638.4 298.8L637.3 299.3L636.1 299.1L635.0 299.0L633.8 298.7L632.8 298.0L632.3 296.9L631.4 296.2L630.3 295.7L629.9 294.6L629.7 293.4L630.4 294.3L630.9 295.4L631.9 296.2L632.3 297.3L633.4 297.6L634.1 298.5L634.7 299.6L635.5 300.4L635.3 301.6L635.7 302.8L636.7 303.5L637.8 303.2L639.0 302.9L640.1 303.4L641.0 304.2L642.0 304.9L642.4 306.0L641.3 305.5L640.1 305.6L638.9 305.2L638.6 304.1L638.7 302.9L639.2 301.8L640.3 301.2L641.2 300.4L642.3 300.7L641.5 299.9L640.4 299.4L639.2 299.2L638.4 298.3L637.4 297.7L636.2 297.9L635.2 297.1L634.3 296.3L633.5 295.5L633.0 294.4L632.4 295.5L632.9 296.6L633.6 297.5L634.8 297.4L636.0 297.1L637.1 296.7L638.2 297.3L639.0 298.2L639.6 299.3L640.4 300.1L641.1 301.1L642.1 301.7L642.5 302.8L642.1 304.0L641.1 304.6L640.7 305.7L640.0 306.7L638.9 307.1L637.7 307.5L636.7 306.9L636.5 305.7L637.0 304.6L638.0 304.0L639.2 303.8L640.1 304.6L641.3 304.4L642.5 304.7L643.3 305.6L642.7 304.6L641.6 304.0L640.6 304.5L639.4 304.8L638.3 304.2L637.1 304.2L636.2 304.9L635.8 306.0L636.4 307.1L636.6 308.2L635.7 309.0L634.5 309.1L633.4 309.5L632.2 309.4L631.4 310.3L630.2 310.4L629.2 311.0L629.2 312.2L628.9 313.3L629.5 314.4L630.5 315.0L631.6 314.5L632.6 313.9L633.7 313.4L634.9 313.7L635.8 312.9L637.0 312.8L637.7 311.9L637.8 310.7L638.2 309.6L638.2 308.4L637.8 307.3L637.5 306.1L636.7 305.3L636.4 304.1L635.5 303.3L635.4 302.1L636.1 301.1L636.9 300.2L636.5 299.1L636.8 297.9L635.9 297.0L635.1 296.2" fill="none" stroke="#7a8a90" stroke-width="0.7" stroke-opacity=".65"/>
<ellipse cx="630" cy="290.1" rx="11.2" ry="4.9" fill="url(#hl)"/>
<circle cx="743" cy="286" r="20" fill="url(#g39)"/>
<circle cx="743" cy="286" r="19.5" fill="none" stroke="url(#rim)" stroke-width="1"/>
<path d="M742.4 284.4L742.1 283.2L742.0 282.0L741.6 280.9L741.3 279.7L741.2 278.5L740.5 277.6L740.3 278.8L739.2 279.2L738.1 278.8L737.8 277.6L738.5 278.6L737.9 279.7L738.5 280.8L739.1 281.8L740.3 282.1L741.5 282.2L742.5 282.8L743.2 283.8L743.9 284.8L744.9 285.4L746.1 285.2L747.3 284.8L748.1 283.9L748.1 282.7L748.8 281.7L749.5 280.7L750.1 279.7L749.9 278.5L749.5 279.7L750.0 280.8L751.0 281.5L751.8 282.3L752.2 283.5L751.4 284.4L750.3 284.8L749.3 284.0L749.4 282.8L749.9 281.8L750.9 281.1L751.0 279.9L750.3 279.0L749.1 279.1L748.1 278.4L747.7 277.3L747.8 278.4L748.5 279.4L749.5 280.1L750.7 279.9L751.9 280.1L752.3 281.3L753.1 282.1L754.3 281.9L753.5 282.9L753.1 284.0L752.0 284.4L750.9 284.0L749.7 283.7L748.7 284.5L748.7 285.7L749.4 286.6L749.5 287.8L749.7 289.0L748.8 289.7L747.6 289.4L746.9 288.4L746.1 287.5L746.1 286.3L745.2 285.5L744.0 285.6L742.8 285.6L741.6 285.6L740.6 286.2L740.1 287.3L740.8 288.3L740.5 289.5L739.7 290.4L738.5 290.2L738.1 289.1L737.5 288.0L737.5 286.8L737.2 285.7L737.7 284.6L738.8 284.1L739.2 283.0L738.5 282.1L737.3 281.8L736.2 281.3L735.1 281.1L734.3 282.0L733.1 282.2L732.1 281.7L733.2 282.1L734.1 281.4L735.3 281.7L736.5 282.0L737.4 281.3L738.0 280.3L738.9 279.4L740.1 279.5L741.3 279.6L742.4 280.0L743.6 279.7L744.3 278.7L745.5 278.8L746.7 278.5L747.3 277.5L746.5 278.4L746.7 279.6L747.5 280.4L748.5 281.2L749.3 282.1L749.8 283.2L749.7 284.4L749.8 285.6L750.9 286.2L751.5 287.2L752.7 287.2L753.9 287.2L755.0 286.9L756.2 287.1L755.3 286.4L754.1 286.3L752.9 285.9L752.1 285.1L751.2 284.3L750.0 284.4L749.2 283.5L748.6 282.4L747.4 282.3L746.3 282.9L745.3 282.2L744.1 282.2L743.0 282.5L741.8 282.1L741.3 281.0L741.1 279.8L741.5 278.7L740.8 277.8L739.6 277.8L740.1 278.8" fill="none" stroke="#c055b0" stroke-width="0.7" stroke-opacity=".65"/>
<ellipse cx="743" cy="273.1" rx="11.2" ry="4.9" fill="url(#hl)"/>
<circle cx="629" cy="359" r="20" fill="url(#g40)"/>
<circle cx="629" cy="359" r="19.5" fill="none" stroke="url(#rim)" stroke-width="1"/>
<path d="M631.4 357.2L632.6 356.9L633.5 357.7L634.7 357.7L635.8 358.3L636.0 359.4L635.9 360.6L634.8 361.2L634.2 362.3L634.5 363.4L635.7 363.8L636.5 364.7L637.7 364.6L638.3 365.6L638.4 366.8L639.3 367.7L639.1 366.5L638.2 365.7L637.3 364.9L636.1 365.0L635.1 364.5L634.8 363.3L635.6 362.4L635.2 361.3L635.6 360.1L636.2 359.1L637.3 358.7L638.5 358.3L639.7 358.2L640.8 358.3L641.7 359.2L640.5 359.3L640.0 360.4L639.4 361.5L639.3 362.6L639.5 363.8L640.6 364.2L641.4 365.2L640.2 365.4L639.2 364.7L638.8 363.6L638.3 362.5L637.1 362.1L636.2 361.4L635.0 361.4L633.8 361.6L633.2 362.6L632.0 362.5L630.8 362.4L629.6 362.6L629.0 363.7L628.0 364.3L626.8 364.1L626.2 363.1L625.0 363.0L623.8 363.2L622.8 363.9L621.6 364.0L620.8 364.9L619.8 365.6L618.7 365.0L618.1 364.0L616.9 364.1L617.6 363.1L617.3 361.9L617.5 360.7L618.0 359.6L618.5 358.5L618.8 357.4L619.0 356.2L619.4 355.1L620.2 354.1L621.4 354.2L622.4 354.8L622.8 356.0L622.2 357.0L621.1 357.3L619.9 357.1L619.1 358.0L618.0 358.5L616.9 358.1L618.1 358.3L618.7 359.3L619.8 359.7L620.2 360.8L620.7 361.9L620.7 363.1L621.2 364.2L622.2 364.9L623.4 365.2L624.6 365.1L625.2 364.1L625.7 363.0L626.9 362.9L628.1 363.3L628.5 364.4L628.2 365.6L627.2 366.2L626.2 365.7L625.6 364.6L624.5 364.0L623.3 364.0L622.2 364.2L621.8 365.3L622.1 366.5L621.4 367.5L620.2 367.6L619.2 368.1L620.3 368.3L621.2 369.1L621.2 370.3L621.9 369.4L622.7 368.5L622.6 367.3L623.3 366.3L623.5 365.2L624.1 364.1L624.3 362.9L624.6 361.8L625.8 361.4L626.4 360.4L627.1 359.4L628.1 358.7L629.1 358.1L630.2 358.6L631.4 358.9L631.9 360.0L631.9 361.2L630.9 361.8L630.8 363.0L631.4 364.0L632.4 364.7L632.5 365.9L633.6 366.3L634.8 366.2L636.0 366.6L636.1 367.8L637.0 368.6L638.1 369.2L637.4 368.2L637.2 367.0" fill="none" stroke="#8a6ad0" stroke-width="0.7" stroke-opacity=".65"/>
<ellipse cx="629" cy="346.1" rx="11.2" ry="4.9" fill="url(#hl)"/>
<circle cx="771" cy="338" r="20" fill="url(#g41)"/>
<circle cx="771" cy="338" r="19.5" fill="none" stroke="url(#rim)" stroke-width="1"/>
<path d="M773.0 340.5L773.6 341.5L774.8 341.5L775.9 342.0L777.1 341.7L777.9 340.9L779.1 341.2L780.1 341.9L781.0 342.7L781.5 343.8L781.8 345.0L781.5 346.1L781.2 345.0L780.1 344.5L779.1 345.2L779.2 346.4L779.7 347.5L780.8 348.0L779.7 348.5L778.6 349.0L777.6 348.4L776.9 347.4L775.9 346.8L775.3 345.8L774.2 345.4L773.1 345.9L772.4 346.9L771.9 348.0L771.0 348.8L770.3 349.7L769.1 350.1L768.7 351.3L769.9 350.9L770.9 350.2L772.1 350.3L772.8 349.3L773.9 349.1L774.7 348.2L775.9 348.2L776.9 348.9L777.6 349.9L776.5 349.3L775.5 349.9L775.1 351.1L776.2 350.7L776.8 349.6L777.6 348.7L778.7 348.1L779.8 347.8L780.6 346.9L780.4 345.7L779.4 345.1L779.4 343.9L779.2 342.7L779.3 341.5L779.7 340.4L779.3 339.2L778.1 338.9L777.3 339.7L776.1 339.8L775.3 340.6L774.1 340.4L772.9 340.5L771.8 340.1L770.7 340.6L769.5 340.3L768.4 340.7L767.4 341.4L766.4 342.0L766.2 343.2L766.7 344.3L766.4 345.5L766.7 346.7L767.2 347.7L767.1 348.9L767.7 349.9L768.8 350.4L770.0 350.1L771.0 349.6L771.9 348.7L773.0 348.2L774.0 347.5L775.1 347.9L776.0 347.1L777.2 346.7L778.3 347.1L779.5 346.9L779.9 345.8L780.1 344.6L779.4 343.6L778.6 342.7L778.3 341.6L777.2 341.1L776.1 341.6L775.0 342.1L774.6 343.2L774.8 344.4L775.2 345.5L776.3 346.0L777.3 345.4L778.1 344.4L778.8 343.5L780.0 343.5L781.2 343.7L782.1 342.8L782.3 341.6L783.0 340.7L783.9 339.9L782.7 339.8L782.2 338.7L782.5 337.6L781.9 336.6L782.4 335.5L781.9 336.5L782.0 337.7L782.8 338.6L782.8 339.8L783.6 340.7L782.4 340.7L781.3 341.3L780.2 340.8L779.1 340.4L778.3 339.5L777.1 339.6L775.9 339.8L774.9 340.5L774.5 341.6L773.8 342.6L773.3 343.7L773.9 344.8L773.2 345.7L772.5 346.8L772.7 347.9L773.8 348.4L774.7 349.1L775.6 349.9L776.7 349.6L777.9 349.1L779.1 349.3L777.9 349.0L776.8 349.4" fill="none" stroke="#8a6ad0" stroke-width="0.7" stroke-opacity=".65"/>
<ellipse cx="771" cy="325.1" rx="11.2" ry="4.9" fill="url(#hl)"/>
<circle cx="741" cy="390" r="20" fill="url(#g42)"/>
<circle cx="741" cy="390" r="19.5" fill="none" stroke="url(#rim)" stroke-width="1"/>
<path d="M741.0 391.6L739.8 391.4L739.0 390.5L739.3 389.4L740.1 388.5L741.3 388.5L742.5 388.1L743.5 388.8L744.7 388.7L745.6 387.9L746.6 387.3L747.7 387.7L748.8 387.1L749.2 386.0L748.6 385.0L747.7 384.2L746.5 384.1L745.6 384.8L744.4 385.0L743.2 384.9L742.6 383.8L741.8 382.9L741.4 381.8L740.2 381.6L739.7 380.5L740.7 381.1L741.8 381.7L742.8 382.3L742.9 383.5L743.0 384.7L742.0 385.4L740.8 385.7L740.1 386.7L738.9 386.9L738.1 387.8L736.9 387.5L735.7 387.3L734.7 387.8L733.7 387.1L732.5 386.9L731.3 386.9L730.1 387.3L728.9 387.3L728.3 388.4L728.0 389.5L728.6 390.6L728.3 391.7L729.3 392.5L730.0 393.5L731.1 394.0L732.2 394.3L733.3 394.8L734.0 395.8L735.2 395.9L736.3 395.4L736.6 394.2L737.8 393.9L738.4 392.8L738.0 391.7L737.8 390.5L737.7 389.3L738.5 388.5L738.3 387.3L737.5 386.4L736.3 386.3L735.1 386.0L734.0 385.8L732.8 385.9L731.9 385.0L731.5 383.9L731.0 385.0L732.2 384.8L733.1 384.1L734.3 384.4L735.5 384.5L736.2 383.5L737.4 383.6L738.2 382.6L737.8 381.5L738.7 382.3L739.8 382.7L740.1 383.8L739.5 384.9L739.0 386.0L738.5 387.1L737.4 387.5L736.2 387.1L735.3 386.4L734.4 385.6L733.2 385.8L732.3 386.6L731.1 387.0L730.0 387.2L731.0 387.8L731.3 389.0L730.4 389.8L730.3 391.0L731.1 391.8L731.1 393.0L730.8 394.2L731.3 395.2L731.4 396.4L732.1 397.4L733.2 397.9L734.4 398.0L735.6 398.2L736.6 398.8L737.7 398.4L738.9 398.5L740.0 399.0L741.1 399.4L742.0 400.2L742.2 401.4L743.4 401.8L744.5 402.1L745.5 402.8L745.0 401.7L744.8 400.5L743.9 399.7L744.1 398.6L744.9 397.7L745.2 396.5L745.2 395.4L746.3 394.8L746.8 393.7L747.0 392.5L748.2 392.1L749.2 392.7L750.4 392.7L751.5 393.2L752.6 393.4L753.7 394.0L753.1 392.9L752.0 392.6L750.9 393.0L750.2 393.9L750.0 395.1L751.0 395.9L752.2 395.7L753.3 395.3L752.3 395.9" fill="none" stroke="#8a6ad0" stroke-width="0.7" stroke-opacity=".65"/>
<ellipse cx="741" cy="377.1" rx="11.2" ry="4.9" fill="url(#hl)"/>
<circle cx="603" cy="434" r="10" fill="url(#g43)"/>
<circle cx="603" cy="434" r="9.5" fill="none" stroke="url(#rim)" stroke-width="1"/>
<ellipse cx="603" cy="427.55" rx="5.6" ry="2.45" fill="url(#hl)"/>
<circle cx="798" cy="442" r="20" fill="url(#g26)"/>
<circle cx="798" cy="442" r="19.5" fill="none" stroke="url(#rim)" stroke-width="1"/>
<path d="M794.6 443.5L795.8 443.3L796.8 442.7L798.0 442.6L799.2 442.4L799.9 441.4L800.6 440.4L800.1 439.3L800.1 438.1L799.2 437.3L798.1 436.8L798.0 435.6L798.6 434.5L799.8 434.1L801.0 434.1L802.1 434.5L803.0 435.3L802.8 436.5L803.3 437.5L803.2 438.7L803.6 439.9L804.5 440.6L804.7 441.8L804.6 443.0L803.7 443.8L802.5 443.7L801.3 443.4L800.2 443.8L800.1 445.0L799.8 446.2L799.1 447.1L798.8 448.3L799.6 449.2L800.8 448.8L801.5 447.8L802.5 447.2L802.4 446.0L801.7 445.1L800.5 444.6L799.7 443.7L800.2 442.6L799.4 441.7L798.2 441.7L797.5 440.7L798.0 439.6L797.6 438.5L796.8 437.5L796.1 436.6L795.1 436.0L793.9 435.6L792.8 435.2L791.6 435.5L791.2 436.6L791.8 437.7L793.0 438.0L794.0 437.3L795.1 436.8L796.3 436.9L797.4 436.4L798.5 436.6L799.5 437.4L800.6 437.8L801.7 438.2L802.9 437.8L803.9 438.5L804.8 439.3L805.9 439.0L806.5 437.9L807.5 437.3L806.7 438.2L805.6 438.6L804.9 439.6L803.8 440.0L802.7 439.6L801.7 440.2L800.5 440.6L799.9 441.6L798.9 442.3L797.7 442.2L796.8 441.4L795.6 441.2L794.8 442.1L793.7 442.5L792.5 442.8L791.9 443.9L792.1 445.1L792.1 446.3L792.9 447.1L793.6 448.1L794.6 448.6L795.8 448.5L797.0 448.2L798.2 448.0L799.3 448.4L800.2 447.6L801.4 447.4L802.2 446.5L802.6 445.4L803.2 444.4L804.2 443.7L805.4 443.4L806.4 444.0L807.6 443.9L808.7 443.4L809.8 443.2L810.8 442.5L811.0 441.3L810.5 440.2L810.3 441.4L809.4 442.2L808.2 442.4L807.4 441.6L807.2 440.4L806.6 439.4L805.6 438.7L805.0 437.6L803.8 437.5L802.7 437.1L801.7 437.7L801.6 438.9L801.6 440.1L802.3 441.0L802.0 442.2L801.0 442.7L800.0 443.4L799.6 444.5L800.2 445.6L800.8 446.6L801.3 447.7L802.1 448.6L802.4 449.7L802.7 450.9L802.2 452.0L802.7 453.1L803.9 453.3L805.1 453.2L806.3 453.0L807.2 452.3L806.1 452.6L805.4 453.6L805.7 452.4" fill="none" stroke="#8a6ad0" stroke-width="0.7" stroke-opacity=".65"/>
<ellipse cx="798" cy="429.1" rx="11.2" ry="4.9" fill="url(#hl)"/>
<circle cx="833" cy="391" r="20" fill="url(#g44)"/>
<circle cx="833" cy="391" r="19.5" fill="none" stroke="url(#rim)" stroke-width="1"/>
<path d="M832.8 393.3L832.6 392.1L832.3 390.9L833.0 390.0L834.2 390.1L835.4 390.4L836.4 389.8L837.4 389.1L838.5 388.6L839.3 387.7L838.9 386.6L839.8 385.7L841.0 385.9L841.9 385.1L841.0 385.9L840.0 386.5L839.3 387.5L839.7 388.6L839.5 389.8L838.6 390.7L837.9 391.6L838.2 392.8L838.7 393.8L839.9 394.1L840.3 395.2L841.5 395.5L842.7 395.2L843.8 395.6L844.9 395.1" fill="none" stroke="#2050e0" stroke-width="0.7" stroke-opacity=".65"/>
<path d="M844.9 395.1L845.2 393.9L844.4 393.0L843.2 392.8L842.1 392.6L841.3 391.6L840.2 391.3L839.1 391.9L837.9 391.8L836.7 391.9L835.6 392.4L835.3 393.6L835.6 394.7L834.8 395.6L834.8 396.8L835.5 397.8L835.6 399.0L834.7 399.8L833.6 399.7L832.4 399.6L831.8 398.6L831.4 397.4L830.6 396.5L829.7 395.7L829.3 394.6L829.5 393.4L828.8 392.5L827.6 392.2L827.2 391.0" fill="none" stroke="#20b0c0" stroke-width="0.7" stroke-opacity=".65"/>
<path d="M827.2 391.0L826.1 390.6L825.6 389.5L824.7 388.7L823.5 388.5L822.4 389.0L821.3 389.5L822.2 390.2L823.4 390.0L824.4 390.8L825.5 391.1L826.6 390.5L827.8 390.6L829.0 390.3L829.7 389.3L830.1 388.2L831.2 387.7L832.4 388.1L833.4 388.7L834.4 388.1L835.6 388.1L836.8 388.4L837.3 389.5L836.6 390.5L836.4 391.7L835.4 392.4L834.2 392.3L833.1 392.8L832.2 393.6" fill="none" stroke="#30c040" stroke-width="0.7" stroke-opacity=".65"/>
<path d="M832.2 393.6L831.6 394.6L831.3 395.8L831.3 397.0L832.3 397.8L833.5 397.9L834.1 398.9L835.0 399.7L835.5 400.8L835.1 401.9L834.1 402.6L833.7 403.7L832.5 404.1L831.4 403.6L831.3 402.4L831.8 401.3L832.7 400.6L833.9 400.7L835.0 400.2L836.2 400.1L837.3 399.6L838.4 400.0L839.5 399.5L840.7 399.1L841.6 398.3L842.8 398.3L843.9 397.9L842.8 397.5L842.3 396.3" fill="none" stroke="#c0c020" stroke-width="0.7" stroke-opacity=".65"/>
<path d="M842.3 396.3L842.8 395.3L842.4 394.1L843.1 393.2L844.2 392.7L845.4 392.6L844.3 392.3L843.3 393.0L842.1 392.9L841.0 392.6L839.8 392.5L838.6 392.7L837.5 392.3L836.9 391.3L837.2 390.1L836.7 389.0L835.9 388.1L834.8 387.7L833.8 388.4L833.1 389.4L833.6 390.5L833.4 391.6L833.8 392.8L835.0 393.0L835.9 392.3L837.1 392.1L837.9 391.2L838.6 390.2L839.1 389.1" fill="none" stroke="#e07020" stroke-width="0.7" stroke-opacity=".65"/>
<ellipse cx="833" cy="378.1" rx="11.2" ry="4.9" fill="url(#hl)"/>
<circle cx="978" cy="391" r="20" fill="url(#g45)"/>
<circle cx="978" cy="391" r="19.5" fill="none" stroke="url(#rim)" stroke-width="1"/>
<path d="M980.4 394.7L979.7 395.7L978.5 395.7L977.3 395.8L976.4 395.0L976.1 393.8L975.3 392.9L975.5 391.7L975.8 390.6L975.2 389.6L974.7 388.5L975.1 387.3L975.6 386.2L976.0 385.1L976.2 383.9L977.2 383.2L978.4 383.0L979.2 382.1L978.7 383.2L978.5 384.4L977.4 384.9L976.2 384.9L975.4 385.8L974.2 385.7L973.6 386.7L972.7 387.5L971.9 388.5L970.8 389.0L969.8 389.6L969.7 390.8L969.5 392.0L968.6 392.8L967.4 392.9L966.3 393.4L965.7 394.4L966.8 393.8L967.9 394.1L969.0 393.6L970.1 394.0L970.2 395.2L970.5 396.4L971.0 397.5L971.1 398.7L970.1 399.4L969.8 400.5L970.0 401.7L970.6 402.8L970.5 401.6L969.8 400.7L969.1 399.7L968.4 398.7L968.1 397.5L967.0 396.9L967.0 395.7L968.1 395.2L969.2 394.7L970.3 395.1L971.4 394.6L972.5 395.2L973.5 395.8L973.9 396.9L973.5 398.0L973.3 399.2L972.3 399.8L971.8 400.9L972.5 401.9L973.3 402.9L973.5 401.7L974.6 401.2L975.6 401.8L976.7 402.4L976.7 403.6L976.8 402.4L976.0 401.5L975.5 400.4L975.8 399.3L975.9 398.1L976.3 396.9L976.0 395.7L975.3 394.8L974.3 394.1L973.4 393.3L972.5 392.6L971.3 392.9L971.0 394.1L971.2 395.3L970.8 396.4L969.8 397.1L969.4 398.3L969.7 399.4L969.9 400.6L970.9 401.4L971.6 402.3L971.9 401.1L971.4 400.0L971.1 398.9L971.3 397.7L972.2 396.9L973.3 396.5L974.5 396.7L975.6 396.3L976.8 396.7L977.0 397.9L978.2 398.3L978.5 399.4L978.9 400.5L980.1 400.9L981.0 400.1L982.2 400.1L983.3 400.6L984.4 400.1L985.5 399.5L986.7 399.3L987.4 400.2L986.4 399.6L985.9 398.5L984.9 397.9L983.7 398.0L982.9 398.9L982.3 399.9L981.4 400.8L981.0 401.9L981.4 403.0L982.4 403.7L983.6 403.2L984.2 402.2L984.4 401.0L984.6 399.8L983.9 398.8L983.3 397.8L982.5 396.9L982.9 395.8L983.2 394.6L984.3 394.3L985.5 393.8L986.1 392.8L986.9 391.9L986.8 390.7L986.0 389.9L984.8 390.0L983.7 389.7" fill="none" stroke="#c055b0" stroke-width="0.7" stroke-opacity=".65"/>
<ellipse cx="978" cy="378.1" rx="11.2" ry="4.9" fill="url(#hl)"/>
<circle cx="916" cy="442" r="20" fill="url(#g46)"/>
<circle cx="916" cy="442" r="19.5" fill="none" stroke="url(#rim)" stroke-width="1"/>
<path d="M919.7 442.4L919.2 443.5L919.0 444.7L918.3 445.7L917.9 446.8L918.4 447.9L918.0 449.0L917.3 450.0L918.0 451.1L917.7 452.2L916.9 453.1L916.4 454.2L915.7 455.2L914.5 455.1L913.3 455.3L914.4 454.9L915.3 454.1L916.2 453.4L917.4 453.0L918.6 453.3L919.0 454.4L920.1 454.9L918.9 454.8L918.1 453.8L918.1 452.6L918.3 451.4L919.0 450.4L919.3 449.3L920.4 448.8" fill="none" stroke="#2050e0" stroke-width="0.7" stroke-opacity=".65"/>
<path d="M920.4 448.8L921.5 448.5L922.6 448.0L923.1 446.9L922.5 445.8L923.0 444.7L924.1 444.1L924.1 442.9L923.7 441.8L923.3 440.7L922.8 439.6L922.0 438.7L922.2 437.5L922.0 436.3L921.9 435.1L922.8 434.3L921.7 434.8L920.7 435.3L919.9 436.2L919.3 437.3L918.5 438.2L917.3 438.4L916.4 439.2L915.8 440.2L915.4 441.4L915.4 442.6L914.5 443.3L913.5 444.0L912.9 445.0" fill="none" stroke="#20b0c0" stroke-width="0.7" stroke-opacity=".65"/>
<path d="M912.9 445.0L912.8 446.2L911.9 447.0L911.8 448.2L911.2 449.3L911.8 450.3L912.9 450.7L913.9 450.0L915.1 450.1L916.0 449.3L916.3 448.1L915.5 447.2L914.4 446.8L913.6 446.0L913.3 444.8L914.0 443.8L915.2 443.9L916.4 444.1L916.9 445.2L918.1 445.5L918.6 446.6L919.2 447.6L920.4 448.0L921.2 448.9L921.1 450.1L921.2 451.2L922.3 451.8L922.6 453.0L922.2 454.1" fill="none" stroke="#30c040" stroke-width="0.7" stroke-opacity=".65"/>
<path d="M922.2 454.1L922.8 453.1L924.0 453.1L924.7 452.1L924.2 451.0L923.0 450.6L922.1 451.4L921.0 451.7L919.8 451.7L919.0 452.6L919.0 453.8L919.7 454.7L919.2 453.6L919.1 452.4L920.1 451.7L920.8 450.8L922.0 450.9L923.2 450.9L924.3 450.6L925.2 449.7L925.4 448.5L926.5 448.1L927.4 448.9L927.0 447.8L925.9 447.3L924.7 447.5L924.1 448.5L923.8 449.7L922.9 450.6" fill="none" stroke="#c0c020" stroke-width="0.7" stroke-opacity=".65"/>
<path d="M922.9 450.6L923.2 451.7L923.3 452.9L923.6 451.8L922.8 450.9L921.9 450.1L921.6 449.0L921.5 447.8L921.2 446.6L922.0 445.7L922.9 444.9L923.5 443.8L923.8 442.7L924.9 442.3L926.0 442.9L926.2 444.0L926.3 445.2L927.2 446.0L928.4 446.1L927.2 446.3L926.0 446.1L925.3 447.1L924.1 447.4L923.0 446.9L921.9 446.4L921.0 447.2L919.8 447.2L918.6 447.4L917.4 447.2" fill="none" stroke="#e07020" stroke-width="0.7" stroke-opacity=".65"/>
<ellipse cx="916" cy="429.1" rx="11.2" ry="4.9" fill="url(#hl)"/>
<circle cx="96" cy="507" r="10" fill="url(#g47)"/>
<circle cx="96" cy="507" r="9.5" fill="none" stroke="url(#rim)" stroke-width="1"/>
<ellipse cx="96" cy="500.55" rx="5.6" ry="2.45" fill="url(#hl)"/>
<circle cx="96" cy="559" r="20" fill="url(#g48)"/>
<circle cx="96" cy="559" r="19.5" fill="none" stroke="url(#rim)" stroke-width="1"/>
<path d="M96.6 561.4L95.5 560.9L95.3 559.7L96.2 558.8L97.2 558.3L98.0 557.3L98.4 556.2L98.3 555.0L99.1 554.2L100.3 554.0L101.4 554.5L101.8 555.6L101.1 556.6L100.0 557.1L99.2 558.0L98.1 558.4L97.2 559.2L96.2 559.9L96.0 561.1L94.9 561.7L93.9 562.3L93.3 563.4L92.1 563.5L91.5 564.6L90.3 564.7L89.3 564.2L88.1 564.5L87.0 564.2L85.9 563.7L85.6 562.5L85.5 561.3L85.3 560.2L86.1 559.3L85.9 558.1L86.4 557.0L85.9 555.9L84.9 555.2L86.1 555.0L87.1 555.6L88.1 556.2L88.8 557.2L89.9 557.7L90.6 558.7L90.9 559.8L92.0 560.3L93.1 560.7L93.9 561.6L95.1 561.9L96.1 562.6L97.3 562.7L98.5 562.5L99.4 563.3L99.2 564.4L98.1 564.8L97.0 565.4L95.9 565.8L94.8 565.4L94.0 564.5L93.2 563.6L93.2 562.4L93.0 561.3L93.9 560.4L94.7 559.5L94.6 558.4L95.1 557.3L94.7 556.1L94.8 554.9L93.8 554.2L94.0 553.0L94.3 551.9L95.2 551.0L95.1 549.8L94.8 551.0L94.8 552.2L95.5 553.2L95.3 554.4L96.2 555.1L97.2 555.8L98.4 555.5L99.4 556.1L99.7 557.3L100.8 557.7L102.0 558.0L103.1 558.2L104.1 558.9L104.5 560.0L105.3 560.9L105.1 562.1L105.6 563.2L106.8 563.5L107.5 564.5L108.6 564.7L107.6 565.3L106.6 565.9L105.8 566.9L105.9 568.1L105.0 568.8L104.1 569.7L102.9 569.8L102.0 570.6L100.8 570.3L99.7 570.7L98.7 570.2L97.8 569.3L98.1 568.2L99.0 567.3L100.0 566.8L101.1 566.4L102.3 566.8L103.4 567.1L104.4 566.4L105.5 566.8L106.2 567.8L106.0 566.6L106.4 565.5L106.1 564.3L105.7 563.2L106.1 562.1L107.3 561.8L108.2 562.7L107.0 562.7L105.9 562.2L104.8 561.6L103.7 561.2L102.6 561.7L102.2 562.8L101.8 564.0L101.5 565.1L101.8 566.3L102.4 567.3L102.8 568.4L102.6 569.6L102.2 570.7L101.8 569.6L102.3 568.5L102.5 567.4L103.6 566.9L104.6 567.7L105.8 567.5L107.0 567.6L106.4 566.6" fill="none" stroke="#c055b0" stroke-width="0.7" stroke-opacity=".65"/>
<ellipse cx="96" cy="546.1" rx="11.2" ry="4.9" fill="url(#hl)"/>
<circle cx="219" cy="551" r="10" fill="url(#g49)"/>
<circle cx="219" cy="551" r="9.5" fill="none" stroke="url(#rim)" stroke-width="1"/>
<ellipse cx="219" cy="544.55" rx="5.6" ry="2.45" fill="url(#hl)"/>
<circle cx="135" cy="611" r="20" fill="url(#g50)"/>
<circle cx="135" cy="611" r="19.5" fill="none" stroke="url(#rim)" stroke-width="1"/>
<path d="M134.1 612.3L134.8 613.2L135.9 613.6L137.0 613.0L137.6 611.9L138.5 611.1L139.5 610.5L140.6 610.9L141.4 611.8L142.5 612.4L142.6 613.6L142.3 614.7L142.0 615.9L140.9 616.4L139.7 616.5L138.6 617.0L137.4 617.2L136.4 617.9L135.4 617.4L134.2 617.6L133.4 616.6L132.2 616.7L131.7 617.8L131.1 618.8L131.2 620.0L131.3 621.2L132.3 621.9L132.5 623.1L132.2 624.3L132.9 623.3L134.1 623.3L134.7 624.3L134.6 623.1L134.9 622.0L134.1 621.1L132.9 621.3L131.8 621.7L130.9 621.0L129.7 620.6L128.6 620.1L127.7 620.9L126.9 621.8L128.1 621.8L129.2 622.1L129.9 623.1L131.1 622.9L132.0 622.1L132.1 620.9L133.0 620.1L132.9 618.9L133.9 618.2L134.3 617.0L135.5 616.6L136.6 616.3L137.5 615.5L138.7 615.9L139.8 616.0L140.9 616.7L142.0 616.2L143.1 616.6L143.3 617.8L144.4 618.4L144.9 619.4L143.9 618.8L142.8 619.0L141.7 619.6L140.5 619.8L139.7 618.9L140.1 617.8L141.3 617.6L142.5 617.8L143.6 618.4L144.7 618.1L145.9 618.3L144.8 617.9L143.6 617.9L142.9 616.9L141.7 616.5L140.6 617.0L140.2 618.1L140.6 619.2L140.8 620.4L140.2 621.4L140.5 622.6L140.2 621.4L140.1 620.2L140.2 619.0L140.0 617.8L140.0 616.6L138.9 616.1L137.8 616.7L136.9 617.5L136.5 618.6L135.6 619.4L135.3 620.5L134.2 621.2L133.7 622.2L134.2 623.3L134.8 624.4L134.0 623.5L132.9 623.0L132.3 621.9L131.2 621.4L130.4 620.6L130.4 619.4L130.2 618.2L130.1 617.0L130.9 616.1L132.0 615.5L132.4 614.4L131.7 613.4L130.5 613.4L129.3 613.8L128.9 614.9L128.2 615.8L127.6 616.9L127.5 618.1L127.4 619.3L126.4 619.9L125.8 620.9L125.5 619.8L124.7 618.8L123.7 618.3L123.5 617.1L123.8 615.9L123.9 614.7L123.2 613.8L122.0 613.8L122.8 612.9L124.0 612.8L125.2 613.0L126.2 612.4L127.4 612.1L127.8 611.0L128.2 609.8L128.2 608.6L127.2 607.9L126.8 606.7L127.0 605.6L127.1 604.4L127.8 605.4" fill="none" stroke="#c055b0" stroke-width="0.7" stroke-opacity=".65"/>
<ellipse cx="135" cy="598.1" rx="11.2" ry="4.9" fill="url(#hl)"/>
<circle cx="253" cy="611" r="20" fill="url(#g51)"/>
<circle cx="253" cy="611" r="19.5" fill="none" stroke="url(#rim)" stroke-width="1"/>
<path d="M254.4 611.6L253.2 611.5L252.5 610.5L251.3 610.6L250.4 611.3L249.7 612.3L249.7 613.5L250.7 614.2L251.3 615.3L250.6 616.3L250.4 617.5L250.7 618.6L250.6 619.8L251.3 620.8L252.1 621.7L252.5 622.8L253.1 623.9L254.2 624.3L255.2 623.5L256.2 622.9L257.2 623.6L257.1 622.4L256.1 621.7L255.1 621.0L254.1 620.4L252.9 620.5L251.8 620.2L250.6 619.9L249.9 618.9L248.8 618.4L248.7 617.2L249.3 616.2L249.9 615.1L249.5 614.0L249.1 612.8L248.0 612.3L247.2 611.4L246.9 610.3L246.7 609.1L247.6 608.4L247.5 607.2L248.0 606.1L249.0 605.5L249.3 604.3L249.0 603.1L247.9 602.7L248.9 603.3L249.5 604.4L250.4 605.2L250.9 606.3L251.7 607.2L251.9 608.3L252.7 609.2L252.4 610.4L252.1 611.6L253.1 612.3L254.2 612.0L255.4 612.3L256.0 613.4L256.2 614.6L257.2 615.3L257.4 616.5L257.0 617.6L257.6 618.6L258.4 619.5L258.9 620.6L260.0 620.7L260.8 619.7L261.2 618.6L262.3 618.1L263.2 618.9L264.3 619.2L263.9 618.1L264.1 616.9L265.2 616.3L264.1 616.7L263.1 615.9L262.5 614.9L263.0 613.8L263.6 612.8L263.5 611.6L263.4 610.4L263.3 609.2L262.7 608.2L261.9 607.3L261.1 606.4L260.5 605.3L259.5 604.8L258.3 604.9L257.1 604.9L255.9 605.0L254.7 605.2L253.5 605.0L252.5 605.7L251.4 606.2L250.7 607.2L249.6 607.6L248.4 607.6L247.5 606.8L246.6 606.0L245.4 605.8L244.9 604.7L245.4 605.8L246.2 606.7L247.3 607.2L248.5 607.4L249.4 608.1L249.7 609.3L250.0 610.4L249.7 611.6L250.2 612.7L250.7 613.8L251.6 614.6L252.7 615.0L253.9 615.0L254.9 615.7L255.5 616.8L256.5 617.3L257.7 617.2L258.8 617.7L259.6 618.6L260.0 619.8L260.0 621.0L259.6 622.1L259.4 620.9L258.4 620.3L257.2 620.1L256.4 621.0L255.2 620.8L254.1 620.6L253.1 619.9L253.1 618.7L253.9 617.8L254.1 616.6L253.8 615.4L252.7 614.9L252.2 613.8L252.3 612.6L252.3 611.4L252.1 610.2L251.2 609.4" fill="none" stroke="#c055b0" stroke-width="0.7" stroke-opacity=".65"/>
<ellipse cx="253" cy="598.1" rx="11.2" ry="4.9" fill="url(#hl)"/>
<circle cx="188" cy="663" r="10" fill="url(#g47)"/>
<circle cx="188" cy="663" r="9.5" fill="none" stroke="url(#rim)" stroke-width="1"/>
<ellipse cx="188" cy="656.55" rx="5.6" ry="2.45" fill="url(#hl)"/>
<circle cx="70" cy="702" r="10" fill="url(#g52)"/>
<circle cx="70" cy="702" r="9.5" fill="none" stroke="url(#rim)" stroke-width="1"/>
<ellipse cx="70" cy="695.55" rx="5.6" ry="2.45" fill="url(#hl)"/>
<circle cx="321" cy="540" r="20" fill="url(#g53)"/>
<circle cx="321" cy="540" r="19.5" fill="none" stroke="url(#rim)" stroke-width="1"/>
<path d="M320.9 542.3L322.1 542.4L322.8 543.4L323.7 544.2L324.7 544.9L325.8 545.1L326.2 546.3L327.2 546.9L328.4 546.6L329.3 545.9L330.5 546.2L331.1 547.2L332.1 547.9L331.9 546.7L332.7 545.8L333.3 544.8L333.2 543.6L333.7 542.5L333.9 541.3L333.2 540.4L333.5 539.2L333.6 538.0L333.8 539.2L333.7 540.4L334.2 541.5L333.0 541.4L331.8 541.6L330.7 542.1L330.7 543.3L330.9 544.5L330.5 545.6L330.5 546.8L330.1 547.9L329.4 548.9L329.4 550.1L328.4 549.5L327.6 548.6L327.0 547.6L326.1 546.8L324.9 546.8L324.0 546.0L324.1 544.8L323.6 543.8L323.2 542.6L323.1 541.4L322.5 540.4L321.3 540.3L320.2 540.8L319.0 540.8L317.8 540.6L316.6 540.3L315.6 541.0L315.3 542.2L315.4 543.4L315.7 544.5L316.4 545.5L316.0 546.7L316.6 547.7L316.0 548.7L316.1 549.9L315.3 550.8L315.1 552.0L315.5 550.9L315.6 549.7L314.7 548.9L314.3 547.8L314.8 546.7L314.7 545.5L315.3 544.5L315.8 543.4L317.0 543.3L317.7 542.3L318.0 541.2L317.7 540.0L317.6 538.8L318.3 537.8L319.5 537.6L320.7 537.4L321.8 537.0L322.9 537.3L323.9 536.6L324.5 535.6L325.5 534.9L326.4 534.2L327.5 534.6L328.6 534.1L329.6 533.4L329.2 534.5L330.0 535.4L331.2 535.3L330.5 536.3L330.1 537.4L329.9 538.6L329.7 539.8L330.1 541.0L329.9 542.1L329.6 543.3L328.5 543.7L327.9 544.7L327.2 545.8L326.6 546.8L326.3 547.9L325.3 548.5L324.8 549.6L323.7 550.0L322.7 550.7L322.1 551.8L321.2 552.6L320.2 553.3L320.8 552.2L320.3 551.1L320.9 550.1L321.2 549.0L320.6 547.9L320.3 546.8L320.2 545.6L319.5 544.5L318.6 543.8L318.4 542.6L317.8 541.6L317.1 540.6L317.5 539.5L317.5 538.3L317.2 537.1L316.3 536.4L315.6 535.4L315.3 534.3L314.9 533.1L314.3 532.1L315.4 532.6L316.0 533.7L316.6 534.6L316.5 535.8L316.7 537.0L316.2 538.1L317.0 539.1L318.1 539.4L318.4 540.6L318.3 541.8L317.7 542.8L317.1 543.9" fill="none" stroke="#8a6ad0" stroke-width="0.7" stroke-opacity=".65"/>
<ellipse cx="321" cy="527.1" rx="11.2" ry="4.9" fill="url(#hl)"/>
<circle cx="392" cy="585" r="20" fill="url(#g54)"/>
<circle cx="392" cy="585" r="19.5" fill="none" stroke="url(#rim)" stroke-width="1"/>
<path d="M391.8 584.2L392.0 585.4L391.7 586.5L392.0 587.7L391.9 588.9L392.7 589.8L393.3 590.8L394.5 591.2L395.6 591.6L396.8 591.6L398.0 591.7L398.9 590.9L399.7 590.0L400.8 589.4L401.1 588.3L400.9 587.1L401.1 585.9L401.5 584.8L402.2 583.8L403.3 583.3L404.5 583.1L403.6 584.0L402.9 585.0L401.8 585.2L400.6 585.3L399.5 584.8L398.3 584.6L397.1 584.5L396.6 583.4L396.9 582.3L397.5 581.3L397.2 580.1L397.1 578.9L396.0 578.3L395.9 577.1L396.8 576.4L395.7 576.6L394.7 577.3L393.5 577.2L392.5 577.9L391.4 577.8L390.2 577.6L389.4 578.6L388.2 578.6L387.1 578.9L386.0 578.2L385.3 577.3L386.0 578.3L385.7 579.4L386.1 580.6L385.6 581.6L385.4 582.8L386.4 583.5L387.5 583.9L388.5 583.1L388.4 581.9L388.7 580.8L388.0 579.8L386.9 579.5L385.7 579.8L384.8 580.6L383.6 580.3L383.1 579.3L383.5 578.1L384.7 577.9L385.8 577.6L386.9 578.0L388.1 577.9L389.0 578.8L389.0 580.0L388.5 581.1L388.7 582.3L389.7 582.8L389.9 584.0L389.9 585.2L389.6 586.4L388.5 587.0L388.2 588.2L387.5 589.1L386.8 590.1L385.6 590.5L384.5 590.9L384.0 592.0L382.8 592.1L381.8 592.8L380.6 592.8L381.5 593.6L382.7 593.7L383.7 594.4L384.8 594.8L386.0 594.5L386.7 593.5L387.9 593.7L389.1 593.5L390.3 593.3L391.5 593.1L391.9 592.0L392.9 591.3L394.1 591.2L395.0 592.0L396.1 592.5L397.3 592.2L398.3 591.6L399.5 591.5L400.6 591.9L401.8 592.0L403.0 592.2L404.0 591.5L402.8 591.1L401.7 590.8L400.5 590.5L399.8 589.6L398.6 589.3L397.7 588.5L396.6 588.1L396.0 587.0L394.8 586.8L393.7 587.1L392.5 587.1L391.3 587.2L390.2 587.6L389.0 587.7L388.1 588.6L387.4 589.5L387.9 590.6L387.6 591.8L387.9 592.9L387.5 594.0L386.8 595.0L386.0 595.9L385.0 596.5L385.2 595.4L386.1 594.5L386.5 593.4L387.6 592.9L388.8 593.2L389.8 593.9L390.1 595.0L390.6 596.1L390.6 597.3L389.6 598.0" fill="none" stroke="#c055b0" stroke-width="0.7" stroke-opacity=".65"/>
<ellipse cx="392" cy="572.1" rx="11.2" ry="4.9" fill="url(#hl)"/>
<circle cx="473" cy="559" r="20" fill="url(#g55)"/>
<circle cx="473" cy="559" r="19.5" fill="none" stroke="url(#rim)" stroke-width="1"/>
<path d="M470.5 557.6L469.5 558.2L469.2 559.4L469.6 560.5L469.0 561.6L468.8 562.8L469.4 563.8L470.6 564.1L471.6 564.7L472.8 564.5L474.0 564.2L475.2 564.0L476.3 563.6L477.4 563.2L478.5 563.8L479.5 563.1L480.6 563.5L481.8 563.1L482.0 561.9L482.9 561.1L483.9 560.4L484.9 559.8L485.4 558.7L484.4 559.3L483.7 560.3L482.6 560.8L482.0 561.8L481.3 562.8L480.3 563.4L479.5 564.3L478.7 565.2L479.0 566.4L479.0 567.6L478.5 568.7L478.8 569.8L479.1 571.0L479.4 569.9L478.8 568.8L479.0 567.7L480.0 567.0L480.0 565.8L479.4 564.8L478.2 564.7L477.1 565.2L476.9 566.3L476.6 567.5L477.0 568.6L477.9 569.5L478.8 570.3L479.9 570.7L479.3 569.7L479.3 568.5L478.3 567.7L477.1 567.6L476.5 568.6L476.2 569.8L477.0 570.8L477.3 571.9L477.7 570.8L478.9 570.7L479.8 569.9L479.6 568.7L480.0 567.6L480.3 566.4L481.3 565.9L482.3 565.2L482.9 564.1L482.3 563.0L482.9 562.0L483.6 561.0L484.1 559.9L484.4 558.8L485.4 558.0L484.2 558.0L483.0 558.0L482.1 558.8L481.3 559.7L480.1 559.8L479.0 560.1L477.8 560.0L476.6 559.8L475.4 559.6L474.3 559.3L473.1 559.6L471.9 559.7L471.0 559.0L469.8 559.3L468.8 559.9L467.6 559.6L467.4 558.4L466.2 558.1L465.2 557.5L464.4 556.6L464.4 555.4L464.4 554.2L463.5 553.4L464.6 553.7L465.5 554.5L465.9 555.7L466.9 556.4L467.6 557.3L468.0 558.4L468.0 559.6L469.0 560.3L470.1 560.8L471.3 560.8L472.4 561.1L473.6 561.0L474.3 560.0L475.4 559.4L476.0 558.4L477.1 557.9L477.9 557.0L478.8 556.3L480.0 556.2L480.8 555.3L481.9 554.9L482.2 553.7L481.1 554.1L480.9 555.3L480.2 556.3L479.7 557.4L480.1 558.5L480.8 559.5L481.4 560.5L482.2 561.4L483.4 561.4L484.6 561.4L485.7 561.0L484.8 560.3L483.7 559.8L482.5 559.6L481.4 560.0L480.4 559.3L479.3 559.0L478.3 558.3L478.0 557.1L477.4 556.1L477.5 554.9L477.0 553.8L475.9 553.4" fill="none" stroke="#a0501e" stroke-width="0.7" stroke-opacity=".65"/>
<ellipse cx="473" cy="546.1" rx="11.2" ry="4.9" fill="url(#hl)"/>
<circle cx="493" cy="663" r="20" fill="url(#g56)"/>
<circle cx="493" cy="663" r="19.5" fill="none" stroke="url(#rim)" stroke-width="1"/>
<path d="M489.3 663.7L489.5 662.5L489.5 661.3L490.1 660.3L490.2 659.1L489.5 658.2L488.7 657.2L487.9 656.4L488.1 655.2L489.1 654.6L488.6 655.7L487.9 656.7L487.4 657.8L488.1 658.7L488.9 659.6L488.7 660.8L489.1 662.0L489.1 663.2L488.7 664.3L489.3 665.3L488.9 666.4L489.5 667.4L490.5 668.2L491.0 669.2L492.2 669.3L493.4 669.0L494.0 668.0L494.5 666.9L493.8 665.9L492.7 665.7L491.6 666.2L491.3 667.3L492.0 668.3L493.2 668.6L494.3 668.9L495.4 668.3L496.5 668.5L497.7 668.5L498.8 667.9L499.3 666.8L500.4 666.4L500.7 665.2L501.5 664.4L501.3 663.2L502.2 662.4L502.9 661.4L503.8 660.6L505.0 660.7L504.2 661.6L504.4 662.7L504.1 663.9L503.6 665.0L502.7 665.7L502.2 666.8L501.7 667.9L502.0 669.1L502.5 670.2L503.4 670.9L502.7 670.0L501.6 669.5L500.4 669.6L499.2 669.3L498.3 670.1L497.1 670.1L495.9 670.1L494.9 670.8L494.7 672.0L494.6 673.2L494.4 674.3L493.7 675.3L493.3 676.4L493.5 675.3L494.5 674.6L495.1 673.6L496.3 673.6L497.1 674.5L496.6 675.6L495.5 675.9L496.3 675.1L497.5 675.0L498.7 675.2L499.8 674.7L498.8 674.0L498.1 673.0L498.2 671.8L498.4 670.6L497.6 669.7L497.7 668.5L497.0 667.6L495.8 667.1L494.9 666.4L493.7 666.4L492.5 666.6L491.4 666.1L490.3 666.7L489.1 667.0L488.5 668.0L488.0 669.1L487.1 669.9L486.0 670.3L485.8 671.5L486.3 672.6L485.7 673.6L486.1 672.4L486.2 671.3L486.0 670.1L486.4 668.9L487.3 668.1L488.4 667.6L489.3 666.9L490.4 666.3L491.5 665.8L492.0 664.7L493.1 664.5L493.9 665.5L494.0 666.7L493.0 667.3L492.1 668.0L490.9 667.9L489.8 668.5L488.6 668.4L487.6 667.8L487.5 666.6L488.2 665.6L489.4 665.6L490.4 664.9L491.6 664.9L492.8 664.9L493.9 664.4L494.8 663.7L496.0 663.6L496.9 664.4L497.1 665.6L496.8 666.7L497.3 667.8L498.4 668.2L499.5 668.8L500.7 668.6L501.7 668.0L502.0 666.9L501.3 665.8" fill="none" stroke="#c055b0" stroke-width="0.7" stroke-opacity=".65"/>
<ellipse cx="493" cy="650.1" rx="11.2" ry="4.9" fill="url(#hl)"/>
<circle cx="295" cy="718" r="20" fill="url(#g57)"/>
<circle cx="295" cy="718" r="19.5" fill="none" stroke="url(#rim)" stroke-width="1"/>
<path d="M296.7 717.3L297.0 716.2L298.0 715.5L298.7 714.5L298.7 713.3L298.5 712.1L297.4 711.8L296.2 711.5L295.0 711.6L294.5 712.7L293.4 713.2L292.4 713.9L292.6 715.1L291.7 715.8L291.4 717.0L291.8 718.2L292.9 718.4L293.9 717.7L295.1 717.5L296.3 717.5L297.5 717.5L298.5 716.9L299.1 715.8L300.3 715.8L301.5 715.5L302.3 716.4L302.2 717.6L303.0 718.5L303.0 719.7L304.0 720.3L304.7 721.3L304.5 722.5L303.9 723.5L303.2 724.5L302.0 724.7L301.3 725.7L300.6 726.7L300.4 727.9L300.5 729.1L301.3 729.9L300.9 728.8L300.8 727.6L301.3 726.5L302.2 725.7L303.2 725.0L304.3 725.4L304.9 726.5L304.5 725.4L303.6 724.5L303.8 723.3L303.7 722.1L302.7 721.5L301.5 721.2L300.6 720.5L300.6 719.3L301.1 718.2L301.9 717.3L303.0 717.4L303.9 718.2L304.9 718.9L306.0 719.5L306.5 720.5L307.4 721.3L306.3 721.5L305.1 721.4L304.2 720.5L303.0 720.3L302.1 719.6L302.0 718.4L301.0 717.6L299.8 717.8L298.6 718.0L297.6 718.6L296.5 718.0L296.5 716.8L296.4 715.6L297.0 714.6L297.9 713.8L298.0 712.6L299.1 712.1L299.5 711.0L299.0 709.9L298.3 708.9L297.1 709.1L295.9 709.3L294.8 709.7L293.8 708.9L294.9 709.5L295.3 710.6L294.9 711.7L294.4 712.8L294.5 714.0L295.2 715.0L295.8 716.1L296.6 716.9L297.2 718.0L297.7 719.1L298.6 719.8L299.3 720.8L298.8 721.9L299.0 723.1L299.6 724.1L300.8 724.1L301.5 723.1L301.1 722.0L300.5 720.9L300.8 719.7L301.5 718.8L302.7 719.0L303.5 719.9L304.1 720.9L304.5 722.0L305.7 722.2L306.9 722.1L307.8 721.4L306.7 721.8L306.4 723.0L306.0 724.1L305.9 725.3L305.9 726.5L305.7 725.3L304.6 724.7L304.0 723.7L304.2 722.5L304.6 721.4L304.1 720.3L303.7 719.1L304.4 718.1L305.6 718.2L306.5 718.9L307.6 718.4L306.6 717.9L305.7 717.0L304.6 716.6L304.2 715.5L304.7 714.4L305.8 714.0L305.0 714.9L304.1 715.7L303.4 716.7L303.2 717.9" fill="none" stroke="#c03060" stroke-width="0.7" stroke-opacity=".65"/>
<ellipse cx="295" cy="705.1" rx="11.2" ry="4.9" fill="url(#hl)"/>
<circle cx="591" cy="506" r="20" fill="url(#g58)"/>
<circle cx="591" cy="506" r="19.5" fill="none" stroke="url(#rim)" stroke-width="1"/>
<line x1="586.0" y1="494.0" x2="587.4" y2="499.2" stroke="#2050e0" stroke-width="1.6" stroke-dasharray="1 0.6" stroke-opacity=".85"/>
<line x1="587.4" y1="499.2" x2="588.8" y2="504.4" stroke="#20b0c0" stroke-width="1.6" stroke-dasharray="1 0.6" stroke-opacity=".85"/>
<line x1="588.8" y1="504.4" x2="590.2" y2="509.6" stroke="#30c040" stroke-width="1.6" stroke-dasharray="1 0.6" stroke-opacity=".85"/>
<line x1="590.2" y1="509.6" x2="591.6" y2="514.8" stroke="#c0c020" stroke-width="1.6" stroke-dasharray="1 0.6" stroke-opacity=".85"/>
<line x1="591.6" y1="514.8" x2="593.0" y2="520.0" stroke="#e07020" stroke-width="1.6" stroke-dasharray="1 0.6" stroke-opacity=".85"/>
<ellipse cx="591" cy="493.1" rx="11.2" ry="4.9" fill="url(#hl)"/>
<circle cx="683" cy="531" r="20" fill="url(#g56)"/>
<circle cx="683" cy="531" r="19.5" fill="none" stroke="url(#rim)" stroke-width="1"/>
<path d="M685.1 532.7L684.4 533.7L683.2 533.7L682.0 533.6L681.4 532.5L680.9 531.4L681.7 530.5L681.3 529.4L680.8 528.3L680.4 527.1L680.7 526.0L681.8 525.5L683.0 525.4L684.2 525.3L685.3 525.5L686.5 525.7L687.4 526.5L687.3 527.7L688.3 528.4L689.5 528.6L690.1 529.7L691.3 529.7L692.2 530.5L693.4 530.1L694.6 530.1L695.5 530.8L694.3 530.7L693.1 531.0L692.3 531.8L691.1 532.2L690.0 532.5L688.8 532.6L687.7 533.1L686.5 533.3L685.7 532.5L685.4 531.3L686.3 530.5L686.6 529.3L686.9 528.2L687.0 527.0L686.6 525.8L687.0 524.7L686.6 523.6L686.4 522.4L685.9 523.5L684.8 523.8L684.4 525.0L684.7 526.1L685.0 527.3L684.2 528.2L684.2 529.4L683.4 530.3L682.9 531.4L682.2 532.3L681.0 532.4L680.3 533.4L680.1 534.5L680.7 535.6L681.8 535.8L683.0 535.6L684.2 535.9L685.3 536.3L686.4 535.8L687.5 536.1L688.7 536.4L689.7 535.8L690.9 536.0L691.7 536.9L692.9 537.2L693.3 538.4L692.9 539.5L693.2 540.7L692.0 540.4L691.4 539.4L691.6 538.2L690.8 537.3L690.6 536.1L691.2 535.0L692.0 534.2L693.2 534.1L693.8 535.1L694.8 535.8L695.1 537.0L694.3 537.9L694.0 539.0L693.2 539.9L692.1 540.5L691.0 540.1L689.9 539.6L688.7 539.7L687.7 540.4L686.7 540.9L686.4 542.1L685.3 542.7L684.2 542.3L683.0 542.5L681.8 542.3L680.8 541.6L679.7 541.9L678.6 541.5L677.9 540.5L676.8 539.9L675.7 540.3L674.9 541.2L673.7 541.5L674.9 541.1L676.0 541.5L677.1 541.1L677.5 540.0L677.5 538.8L678.4 538.0L678.5 536.8L677.6 536.0L677.3 534.8L676.2 534.4L675.3 533.6L674.1 533.8L673.2 534.5L672.1 535.0L671.0 534.4L669.9 534.1L671.1 534.3L671.8 533.4L672.2 532.2L672.0 531.1L672.4 530.0L673.4 529.2L674.6 529.1L675.8 529.1L676.8 529.6L678.0 529.2L678.9 528.5L679.5 527.4L679.5 526.2L680.1 525.2L680.0 524.0L679.5 523.0L678.5 522.3L678.7 523.4L678.5 524.6L678.4 525.8" fill="none" stroke="#7a8a90" stroke-width="0.7" stroke-opacity=".65"/>
<ellipse cx="683" cy="518.1" rx="11.2" ry="4.9" fill="url(#hl)"/>
<circle cx="559" cy="558" r="10" fill="url(#g49)"/>
<circle cx="559" cy="558" r="9.5" fill="none" stroke="url(#rim)" stroke-width="1"/>
<ellipse cx="559" cy="551.55" rx="5.6" ry="2.45" fill="url(#hl)"/>
<circle cx="760" cy="588" r="20" fill="url(#g59)"/>
<circle cx="760" cy="588" r="19.5" fill="none" stroke="url(#rim)" stroke-width="1"/>
<line x1="778.0" y1="587.0" x2="770.8" y2="587.0" stroke="#2050e0" stroke-width="1.6" stroke-dasharray="1 0.6" stroke-opacity=".85"/>
<line x1="770.8" y1="587.0" x2="763.6" y2="587.0" stroke="#20b0c0" stroke-width="1.6" stroke-dasharray="1 0.6" stroke-opacity=".85"/>
<line x1="763.6" y1="587.0" x2="756.4" y2="587.0" stroke="#30c040" stroke-width="1.6" stroke-dasharray="1 0.6" stroke-opacity=".85"/>
<line x1="756.4" y1="587.0" x2="749.2" y2="587.0" stroke="#c0c020" stroke-width="1.6" stroke-dasharray="1 0.6" stroke-opacity=".85"/>
<line x1="749.2" y1="587.0" x2="742.0" y2="587.0" stroke="#e07020" stroke-width="1.6" stroke-dasharray="1 0.6" stroke-opacity=".85"/>
<ellipse cx="760" cy="575.1" rx="11.2" ry="4.9" fill="url(#hl)"/>
<circle cx="599" cy="631" r="20" fill="url(#g60)"/>
<circle cx="599" cy="631" r="19.5" fill="none" stroke="url(#rim)" stroke-width="1"/>
<path d="M598.0 634.5L599.1 634.0L600.2 633.6L601.3 634.1L602.5 634.0L603.5 633.3L603.6 632.1L603.7 630.9L604.4 629.9L604.3 628.8L604.1 627.6L605.0 626.8L605.8 626.0L606.5 624.9L607.6 624.6L608.6 625.3L607.5 624.9L606.4 625.5L605.3 625.8L604.1 625.4L603.7 624.2L603.8 623.0L603.3 621.9L603.7 623.1L604.6 623.9L605.6 624.6L606.6 625.2L606.7 626.4L605.9 627.2L604.7 627.1L603.5 626.9L603.0 625.9L601.9 625.5L601.5 624.3L601.5 623.1L602.3 622.3L601.7 623.3L600.5 623.1L599.7 624.1L598.5 624.3L597.5 623.6L596.4 623.3L595.7 622.3L596.8 622.7L597.6 623.7L598.4 624.6L599.3 625.3L600.5 625.3L601.5 626.0L601.9 627.1L603.1 627.4L603.4 628.6L604.3 629.4L605.4 629.8L606.6 630.1L607.7 630.6L608.1 631.7L607.4 632.7L606.4 633.4L605.6 634.3L605.9 635.5L607.0 636.0L608.0 636.5L609.0 637.2L610.0 637.8L610.0 639.0L609.8 637.9L609.2 636.8L608.5 635.9L607.3 635.7L606.8 634.6L606.5 633.4L606.3 632.2L606.0 631.1L605.1 630.3L603.9 629.9L602.8 629.6L601.6 629.4L601.2 628.2L601.0 627.1L600.1 626.3L598.9 626.6L598.3 627.6L598.0 628.7L597.1 629.5L595.9 629.4L594.8 629.9L593.6 629.7L592.4 629.6L591.2 629.5L590.1 629.3L589.2 630.1L589.5 631.3L589.3 632.5L588.6 633.5L588.2 634.6L587.1 635.0L586.0 634.6L587.2 634.5L587.8 633.5L588.6 632.5L589.6 631.9L590.1 630.8L589.4 629.8L588.7 628.8L587.5 628.9L588.6 629.5L589.5 630.2L590.6 630.5L591.8 630.7L592.9 630.1L593.4 629.0L593.0 627.9L593.5 626.8L593.9 625.6L594.7 624.8L595.2 623.7L596.3 623.2L597.5 622.9L598.7 623.0L599.8 622.8L601.0 622.8L602.0 622.0L603.1 622.5L604.0 623.3L604.8 624.1L605.4 625.2L606.5 625.5L607.7 625.3L606.8 626.1L605.6 626.1L605.0 627.1L604.5 628.2L603.4 628.6L602.3 628.3L601.4 627.5L600.2 627.1L599.1 627.5L597.9 627.3L596.7 627.6L595.6 627.3" fill="none" stroke="#a0501e" stroke-width="0.7" stroke-opacity=".65"/>
<ellipse cx="599" cy="618.1" rx="11.2" ry="4.9" fill="url(#hl)"/>
<circle cx="716" cy="664" r="20" fill="url(#g61)"/>
<circle cx="716" cy="664" r="19.5" fill="none" stroke="url(#rim)" stroke-width="1"/>
<path d="M714.8 666.6L714.3 665.5L715.0 664.5L715.5 663.4L716.7 663.3L717.1 662.1L718.2 661.7L718.4 660.5L718.8 659.4L718.8 658.2L719.5 657.2L719.7 656.0L719.2 654.9L719.0 656.1L718.6 657.2L717.7 658.0L716.8 658.8L717.0 660.0L716.6 661.1L716.8 662.3L717.1 663.4L718.3 663.7L719.4 663.3L720.6 663.4L721.6 664.1L722.3 665.0L723.2 665.9L723.5 667.0L723.3 668.2L723.9 669.3L724.5 670.3L724.8 671.5L724.5 672.7L724.9 673.8L724.0 672.9L722.9 672.5L721.9 673.0L721.1 673.9L719.9 674.3L718.7 674.5L718.0 675.4L716.8 675.8L716.4 676.9L715.4 677.6L715.6 676.4L714.8 675.5L713.6 675.2L712.5 674.8L711.3 675.1L710.4 674.3L710.4 673.1L710.0 672.0L710.1 670.8L710.7 669.8L711.5 668.9L711.7 667.7L712.8 667.2L713.8 667.9L714.8 667.3L715.6 666.4L716.0 665.2L715.6 664.1L715.0 663.0L715.4 661.9L714.6 661.0L714.7 659.8L714.3 658.7L713.1 658.5L712.5 657.5L711.4 656.9L710.2 657.0L709.5 658.0L709.2 659.2L709.8 660.2L710.9 660.6L712.1 660.4L713.3 660.3L714.4 660.2L715.5 659.5L716.5 658.9L717.7 659.0L718.7 659.7L719.9 659.9L720.4 661.0L720.1 662.2L719.7 663.3L719.3 664.5L719.4 665.7L720.3 666.4L720.4 667.6L720.1 668.8L720.9 669.7L720.5 670.9L719.5 671.4L719.4 672.6L718.8 673.7L718.8 674.9L718.8 676.1L717.9 676.9L718.5 675.8L719.0 674.7L719.8 673.9L720.0 672.7L720.4 671.6L720.7 670.4L721.9 670.1L722.5 669.1L723.6 668.6L723.7 667.4L723.2 666.3L722.0 665.9L720.9 666.5L719.9 667.0L719.3 668.0L718.3 668.6L718.0 669.8L717.5 670.8L716.4 671.2L715.8 672.3L716.0 673.5L715.6 674.6L715.2 675.7L714.0 676.0L713.1 676.8L713.8 675.8L715.0 676.0L716.2 675.8L717.0 676.7L717.2 675.5L716.5 674.4L716.0 673.4L716.6 672.3L716.2 671.2L716.8 670.1L717.8 669.5L719.0 669.5L720.2 669.8L721.1 669.1L722.3 669.6L723.3 669.0L724.5 669.2" fill="none" stroke="#8a6ad0" stroke-width="0.7" stroke-opacity=".65"/>
<ellipse cx="716" cy="651.1" rx="11.2" ry="4.9" fill="url(#hl)"/>
<circle cx="642" cy="715" r="20" fill="url(#g62)"/>
<circle cx="642" cy="715" r="19.5" fill="none" stroke="url(#rim)" stroke-width="1"/>
<path d="M643.8 714.9L643.1 713.9L643.0 712.7L642.0 712.1L641.9 710.9L641.4 709.8L641.8 708.7L642.1 707.5L643.0 706.8L643.6 705.7L642.9 706.7L643.5 707.8L644.0 708.9L645.2 709.1L645.9 710.1L646.2 711.2L646.6 712.3L645.9 713.3L644.7 713.2L644.1 712.2L642.9 712.0L641.9 711.3L641.4 710.2L641.1 709.1L640.0 708.7L639.5 707.6L638.9 706.6L639.3 707.7L638.8 708.8" fill="none" stroke="#2050e0" stroke-width="0.7" stroke-opacity=".65"/>
<path d="M638.8 708.8L638.9 710.0L640.0 710.5L640.3 711.7L641.1 712.6L642.2 712.4L642.9 711.5L644.1 711.6L645.1 712.4L646.3 712.4L647.2 711.6L648.3 711.8L649.4 712.3L650.3 713.1L651.5 712.9L652.7 712.5L653.6 713.3L652.5 713.8L651.6 714.5L651.6 715.7L650.5 716.2L650.3 717.4L649.2 717.8L648.0 717.4L647.3 716.5L646.1 716.6L645.0 716.2L643.8 715.9L642.7 715.5" fill="none" stroke="#20b0c0" stroke-width="0.7" stroke-opacity=".65"/>
<path d="M642.7 715.5L641.6 716.1L640.5 716.7L639.4 716.4L638.4 717.1L637.2 716.9L636.0 716.9L635.0 717.4L634.4 718.5L633.9 719.6L633.0 720.4L632.1 721.2L630.9 720.9L629.8 720.7L630.9 721.0L631.2 722.1L632.1 722.9L633.3 722.5L634.1 721.6L634.6 720.5L634.1 719.5L633.5 718.5L632.3 718.5L631.5 717.6L630.7 716.7L630.8 715.5L631.4 714.5L632.5 713.9L633.7 713.9" fill="none" stroke="#30c040" stroke-width="0.7" stroke-opacity=".65"/>
<path d="M633.7 713.9L634.8 713.5L636.0 713.6L637.0 713.0L638.1 712.5L639.3 712.2L640.4 712.7L641.5 712.3L642.4 711.6L643.6 711.6L644.6 712.4L644.3 713.6L645.1 714.5L646.2 714.9L647.2 714.2L648.4 714.1L649.5 714.6L650.3 715.5L650.6 716.6L650.7 717.8L650.7 719.0L649.8 719.8L648.7 720.1L647.5 720.1L646.3 719.9L645.1 719.6L644.2 718.8L643.5 717.8L642.3 717.7" fill="none" stroke="#c0c020" stroke-width="0.7" stroke-opacity=".65"/>
<path d="M642.3 717.7L641.1 717.8L640.0 718.1L638.8 718.5L637.7 718.8L636.7 719.4L635.8 720.3L635.1 721.2L634.7 722.4L633.5 722.6L633.0 723.7L633.6 724.7L633.8 725.9L633.4 724.7L632.9 723.7L632.6 722.5L632.0 721.5L630.9 720.9L629.9 721.6L631.1 721.9L631.5 723.0L632.4 723.8L633.4 724.5L634.6 724.8L635.5 724.0L636.6 724.1L637.4 725.1L638.6 725.4L639.7 725.1" fill="none" stroke="#e07020" stroke-width="0.7" stroke-opacity=".65"/>
<ellipse cx="642" cy="702.1" rx="11.2" ry="4.9" fill="url(#hl)"/>
<circle cx="850" cy="533" r="20" fill="url(#g63)"/>
<circle cx="850" cy="533" r="19.5" fill="none" stroke="url(#rim)" stroke-width="1"/>
<line x1="868.0" y1="539.0" x2="861.6" y2="536.4" stroke="#2050e0" stroke-width="1.6" stroke-dasharray="1 0.6" stroke-opacity=".85"/>
<line x1="861.6" y1="536.4" x2="855.2" y2="533.8" stroke="#20b0c0" stroke-width="1.6" stroke-dasharray="1 0.6" stroke-opacity=".85"/>
<line x1="855.2" y1="533.8" x2="848.8" y2="531.2" stroke="#30c040" stroke-width="1.6" stroke-dasharray="1 0.6" stroke-opacity=".85"/>
<line x1="848.8" y1="531.2" x2="842.4" y2="528.6" stroke="#c0c020" stroke-width="1.6" stroke-dasharray="1 0.6" stroke-opacity=".85"/>
<line x1="842.4" y1="528.6" x2="836.0" y2="526.0" stroke="#e07020" stroke-width="1.6" stroke-dasharray="1 0.6" stroke-opacity=".85"/>
<ellipse cx="850" cy="520.1" rx="11.2" ry="4.9" fill="url(#hl)"/>
<circle cx="875" cy="585" r="10" fill="url(#g49)"/>
<circle cx="875" cy="585" r="9.5" fill="none" stroke="url(#rim)" stroke-width="1"/>
<ellipse cx="875" cy="578.55" rx="5.6" ry="2.45" fill="url(#hl)"/>
<circle cx="863" cy="637" r="10" fill="url(#g64)"/>
<circle cx="863" cy="637" r="9.5" fill="none" stroke="url(#rim)" stroke-width="1"/>
<ellipse cx="863" cy="630.55" rx="5.6" ry="2.45" fill="url(#hl)"/>
<circle cx="827" cy="731" r="20" fill="url(#g15)"/>
<circle cx="827" cy="731" r="19.5" fill="none" stroke="url(#rim)" stroke-width="1"/>
<path d="M828.6 733.8L827.5 734.3L826.9 735.3L825.8 735.8L824.7 735.3L824.3 734.1L823.1 733.7L822.1 733.0L822.2 731.8L822.8 730.8L823.4 729.7L823.0 728.6L821.8 728.3L821.0 727.4L819.8 727.6L818.8 727.0L818.0 726.1L817.2 725.2L817.0 726.4L816.0 727.0L817.2 726.7L817.7 725.6L818.4 724.6L817.8 725.7L818.0 726.9L817.1 727.7L815.9 727.9L815.3 729.0L815.4 730.2L815.8 731.3L816.1 732.4L816.9 733.4L817.7 734.3L817.8 735.5L818.7 736.3L819.0 737.4L819.8 738.4L819.4 739.5L818.2 739.9L817.3 740.6L818.4 740.1L818.7 738.9L818.8 737.7L819.3 736.6L820.0 735.7L820.4 734.6L819.6 733.6L818.4 733.6L817.3 733.4L816.2 734.0L815.6 735.0L814.7 735.8L815.8 736.0L817.0 736.2L818.1 735.8L819.3 735.6L820.3 734.9L821.5 734.9L822.3 734.0L822.7 732.9L822.8 731.7L823.9 731.1L824.2 729.9L823.8 728.8L822.6 728.4L821.5 728.7L820.5 729.4L819.7 730.3L818.6 730.6L817.5 731.2L816.5 731.8L815.6 732.6L814.4 732.8L815.3 733.6L816.4 734.2L816.5 735.4L817.2 736.4L816.7 737.5L816.2 738.6L817.1 737.8L817.8 736.8L817.9 735.6L817.1 734.7L817.3 733.5L817.1 732.3L817.4 731.2L817.6 730.0L817.9 728.8L817.5 727.7L816.4 727.2L817.6 727.3L818.6 727.9L819.6 728.6L820.7 728.0L821.9 727.9L823.1 727.7L823.6 726.6L823.5 725.4L822.7 724.5L822.7 723.3L822.8 722.1L823.1 723.3L824.0 724.1L825.2 724.4L826.3 724.2L827.4 723.5L828.6 723.7L829.5 724.5L829.9 725.6L829.4 726.6L828.6 727.5L828.7 728.7L829.7 729.3L830.9 729.0L831.8 728.1L832.7 727.3L833.9 727.3L835.0 727.6L836.2 727.6L837.3 727.0L838.3 727.6L838.9 728.6L839.8 729.4L838.6 729.7L837.8 728.9L836.6 728.6L836.0 727.6L834.8 727.4L833.7 726.8L832.6 726.5L832.0 725.5L831.0 724.8L829.8 725.1L829.1 726.1L828.0 726.4L827.1 725.6L826.6 724.5L826.5 723.3L825.9 722.3L824.8 721.7L823.7 722.1" fill="none" stroke="#c055b0" stroke-width="0.7" stroke-opacity=".65"/>
<ellipse cx="827" cy="718.1" rx="11.2" ry="4.9" fill="url(#hl)"/>
<circle cx="148" cy="748" r="20" fill="url(#g65)"/>
<circle cx="148" cy="748" r="19.5" fill="none" stroke="url(#rim)" stroke-width="1"/>
<path d="M151.9 746.3L150.8 745.8L149.6 746.2L148.5 746.7L147.5 746.2L146.3 746.2L145.5 747.1L144.4 747.7L143.2 747.9L142.0 748.1L141.2 749.0L140.0 749.0L139.3 749.9L139.3 751.1L140.0 752.1L140.7 753.1L141.3 754.1L141.9 755.2L141.9 756.4L141.0 757.1L140.2 758.0L140.4 759.2L141.0 758.1L140.4 757.1L139.4 756.4L138.2 756.6L137.0 756.5L138.0 757.3L139.1 757.1L140.1 756.4L141.3 756.7L142.3 757.3L143.5 757.0L144.7 757.2L145.5 758.1L146.5 758.7L147.7 758.5L148.9 758.8L150.0 758.5L150.7 757.5L150.4 756.3L150.0 755.2L148.9 754.8L147.7 754.7L146.5 754.4L145.3 754.0L144.2 753.9L143.3 753.1L142.1 753.2L141.1 753.8L140.0 753.3L139.6 752.1L140.3 751.1L141.4 750.7L142.5 750.3L143.7 750.7L144.7 751.3L145.9 750.9L146.6 749.9L146.4 748.8L147.1 747.8L147.3 746.6L147.4 745.4L147.5 744.2L146.7 743.4L146.3 742.2L146.7 741.1L147.7 740.4L148.8 740.7L150.0 740.5L150.7 739.6L151.9 739.2L153.1 739.2L151.9 739.5L150.9 740.1L150.6 741.3L149.6 742.0L148.6 742.7L147.4 742.7L146.3 743.1L145.4 743.9L144.5 744.7L143.3 744.9L142.4 744.1L141.3 743.7L140.4 742.9L139.4 742.3L139.6 743.4L139.2 744.5L138.7 745.6L138.5 746.8L138.8 747.9L138.2 749.0L137.1 749.4L136.3 750.3L136.5 751.5L137.3 752.3L137.1 753.5L138.0 754.3L138.1 755.5L138.2 756.7L138.2 757.9L138.3 756.7L138.2 755.5L138.3 754.3L137.4 753.5L137.5 752.3L136.7 751.4L135.5 751.5L136.6 751.9L137.5 752.6L137.8 753.8L137.6 755.0L136.5 755.5L136.7 754.3L135.7 753.6L136.9 753.6L137.8 754.4L139.0 754.3L140.2 754.3L141.2 755.0L142.4 754.8L143.6 754.7L144.5 755.5L144.8 756.7L145.3 757.7L145.9 758.8L146.9 759.4L146.9 760.6L146.2 761.6L147.2 760.9L147.9 759.9L149.0 759.4L150.0 758.8L151.2 759.0L152.4 758.8L153.3 759.6L152.8 758.5L152.1 757.5L151.6 756.5L151.9 755.3" fill="none" stroke="#c03060" stroke-width="0.7" stroke-opacity=".65"/>
<ellipse cx="148" cy="735.1" rx="11.2" ry="4.9" fill="url(#hl)"/>
<circle cx="83" cy="793" r="10" fill="url(#g26)"/>
<circle cx="83" cy="793" r="9.5" fill="none" stroke="url(#rim)" stroke-width="1"/>
<ellipse cx="83" cy="786.55" rx="5.6" ry="2.45" fill="url(#hl)"/>
<circle cx="201" cy="793" r="20" fill="url(#g56)"/>
<circle cx="201" cy="793" r="19.5" fill="none" stroke="url(#rim)" stroke-width="1"/>
<path d="M201.2 796.8L202.0 797.7L202.2 798.9L202.4 800.1L201.8 801.1L202.0 802.3L202.7 803.3L202.8 804.5L202.1 805.4L201.7 806.6L202.9 806.4L201.7 806.2L202.5 805.3L202.4 804.1L201.4 803.5L200.5 802.7L199.3 802.3L198.2 802.6L197.0 802.9L196.6 804.1L195.5 804.5L194.4 804.0L193.4 803.4L192.3 803.0L193.5 802.9L194.6 803.2L195.8 803.0L196.6 804.0L196.2 805.1L197.1 804.3L198.3 804.3L199.0 803.3L198.7 802.1L198.1 801.1L196.9 800.9L195.7 800.8L195.2 799.8L195.5 798.6L196.7 798.3L197.4 797.3L197.5 796.1L196.5 795.5L195.3 795.4L194.5 796.3L193.7 797.2L193.4 798.3L192.6 799.3L191.7 800.1L190.7 800.7L190.0 801.7L191.1 801.2L192.3 801.1L193.4 801.6L194.5 802.0L195.7 802.3L196.9 802.1L197.3 801.0L197.6 799.8L198.2 798.8L198.1 797.6L198.8 796.7L200.0 796.6L200.9 797.3L201.1 798.5L201.4 799.7L202.4 800.4L203.5 800.6L204.5 801.3L204.3 802.5L205.1 803.4L206.2 803.2L207.3 802.5L208.1 801.6L209.0 800.9L209.1 799.7L210.0 798.9L210.5 797.8L211.7 797.6L212.7 796.9L213.3 795.9L213.1 794.7L214.1 793.9L213.0 794.5L211.8 794.3L211.0 795.1L210.0 795.8L208.8 796.0L208.1 795.0L208.5 793.9L207.8 792.9L206.9 792.1L207.3 790.9L207.6 789.8L208.8 789.5L209.7 788.7L209.4 787.5L210.2 786.6L209.9 787.8L209.5 788.9L209.5 790.1L209.2 791.3L208.1 791.7L207.1 791.1L206.9 789.9L206.2 789.0L206.2 787.8L205.1 787.2L204.0 786.8L203.7 785.6L202.8 784.8L201.8 784.2L200.8 783.5L199.6 783.4L200.7 784.0L201.4 784.9L202.6 784.9L203.4 785.9L204.6 785.8L205.7 786.3L206.9 786.4L207.8 785.6L207.9 786.8L206.8 787.4L205.6 787.3L204.4 787.3L203.5 786.5L203.7 785.3L204.7 784.7L205.8 784.2L205.1 785.2L204.3 786.1L203.1 785.9L202.2 785.2L201.6 784.1L201.3 785.3L201.3 786.5L201.1 787.7L200.1 788.4L199.8 789.6L198.8 790.2L198.8 791.4" fill="none" stroke="#a0501e" stroke-width="0.7" stroke-opacity=".65"/>
<ellipse cx="201" cy="780.1" rx="11.2" ry="4.9" fill="url(#hl)"/>
<circle cx="96" cy="845" r="20" fill="url(#g66)"/>
<circle cx="96" cy="845" r="19.5" fill="none" stroke="url(#rim)" stroke-width="1"/>
<path d="M96.3 846.4L96.0 847.6L95.8 848.8L96.4 849.8L97.2 850.7L97.9 851.7L98.6 852.6L99.8 852.4L100.3 851.3L101.3 850.6L101.4 849.4L100.9 848.3L101.2 847.1L102.3 846.5L103.4 846.9L104.5 846.4L104.6 845.2L105.3 844.3L106.2 843.5L106.9 842.5L106.3 841.4L105.5 840.5L104.4 840.1L103.4 839.4L103.4 838.2L102.7 837.3L101.5 837.2L100.4 836.7L99.3 837.2" fill="none" stroke="#2050e0" stroke-width="0.7" stroke-opacity=".65"/>
<path d="M99.3 837.2L98.7 838.2L98.2 839.3L97.0 839.4L96.0 840.0L95.2 840.9L94.5 841.9L94.6 843.1L95.0 844.2L94.9 845.4L95.2 846.6L94.8 847.7L95.1 848.8L96.2 849.3L97.2 850.0L98.2 850.6L98.3 851.8L99.3 852.5L99.8 853.6L99.8 854.8L100.2 856.0L101.3 856.4L102.3 857.2L101.9 856.1L101.4 854.9L100.9 853.9L100.8 852.7L101.1 851.5L101.1 850.3" fill="none" stroke="#20b0c0" stroke-width="0.7" stroke-opacity=".65"/>
<path d="M101.1 850.3L100.3 849.4L99.5 848.5L98.8 847.5L99.1 846.3L100.2 846.0L101.4 845.9L102.5 845.3L103.0 844.2L103.8 843.4L105.0 843.0L105.8 842.1L106.9 841.6L107.8 842.3L106.7 841.8L106.5 840.7L106.1 839.5L106.1 840.7L105.2 841.5L105.0 842.7L105.2 843.9L104.3 844.7L104.4 845.9L104.9 846.9L105.6 848.0L105.6 849.2L105.2 850.3L104.1 850.7L102.9 850.7" fill="none" stroke="#30c040" stroke-width="0.7" stroke-opacity=".65"/>
<path d="M102.9 850.7L102.3 851.7L102.8 852.8L104.0 852.9L105.2 852.9L105.8 851.8L106.4 850.8L107.3 850.0L107.5 848.8L108.5 848.2L109.4 847.3L108.2 847.0L107.0 847.2L105.8 847.0L104.7 846.6L103.5 847.0L102.4 846.5L101.5 847.3L101.2 848.5L101.3 849.7L100.5 850.6L99.7 851.5L100.0 852.6L100.8 853.5L101.4 854.6L101.2 855.8L101.9 856.7L101.8 855.5L101.5 854.3" fill="none" stroke="#c0c020" stroke-width="0.7" stroke-opacity=".65"/>
<path d="M101.5 854.3L101.2 853.2L100.7 852.1L100.1 851.1L100.7 850.0L101.9 849.9L102.7 850.7L103.0 851.9L102.8 853.1L103.5 854.1L104.7 854.0L105.6 854.7L105.0 853.7L104.7 852.5L104.0 851.6L102.9 851.1L102.7 849.9L102.5 848.7L101.3 848.3L100.1 848.3L99.0 848.7L98.7 849.9L97.5 850.1L96.5 849.4L96.3 848.2L95.1 847.9L93.9 847.8L93.1 848.7L91.9 849.0" fill="none" stroke="#e07020" stroke-width="0.7" stroke-opacity=".65"/>
<ellipse cx="96" cy="832.1" rx="11.2" ry="4.9" fill="url(#hl)"/>
<circle cx="214" cy="845" r="10" fill="url(#g67)"/>
<circle cx="214" cy="845" r="9.5" fill="none" stroke="url(#rim)" stroke-width="1"/>
<ellipse cx="214" cy="838.55" rx="5.6" ry="2.45" fill="url(#hl)"/>
<circle cx="135" cy="897" r="10" fill="url(#g36)"/>
<circle cx="135" cy="897" r="9.5" fill="none" stroke="url(#rim)" stroke-width="1"/>
<ellipse cx="135" cy="890.55" rx="5.6" ry="2.45" fill="url(#hl)"/>
<circle cx="252" cy="897" r="10" fill="url(#g68)"/>
<circle cx="252" cy="897" r="9.5" fill="none" stroke="url(#rim)" stroke-width="1"/>
<ellipse cx="252" cy="890.55" rx="5.6" ry="2.45" fill="url(#hl)"/>
<circle cx="135" cy="949" r="10" fill="url(#g69)"/>
<circle cx="135" cy="949" r="9.5" fill="none" stroke="url(#rim)" stroke-width="1"/>
<ellipse cx="135" cy="942.55" rx="5.6" ry="2.45" fill="url(#hl)"/>
<circle cx="252" cy="949" r="20" fill="url(#g70)"/>
<circle cx="252" cy="949" r="19.5" fill="none" stroke="url(#rim)" stroke-width="1"/>
<path d="M254.5 951.7L253.8 950.7L252.6 950.8L251.9 951.8L250.8 952.1L249.7 951.5L248.7 950.9L247.5 950.9L246.6 950.1L245.4 950.2L244.4 950.8L244.4 952.0L243.3 952.5L242.4 953.3L241.2 953.4L240.2 952.8L239.3 952.0L239.6 950.8L240.5 950.0L241.7 950.3L242.1 951.4L243.2 951.8L244.0 952.7L245.1 953.0L246.3 952.9L247.4 952.3L248.4 953.0L249.5 952.6L250.5 952.0" fill="none" stroke="#2050e0" stroke-width="0.7" stroke-opacity=".65"/>
<path d="M250.5 952.0L250.8 950.8L252.0 950.6L253.2 950.3L254.3 950.5L255.5 950.8L256.3 951.7L257.4 952.3L258.5 952.6L259.3 953.5L259.7 954.6L259.1 955.6L258.9 956.8L258.0 957.6L256.8 957.8L255.6 957.7L254.4 958.0L253.2 958.0L252.5 959.0L252.9 960.2L253.6 961.1L254.8 961.1L255.5 960.1L256.6 959.6L257.8 959.6L259.0 960.0L260.1 959.5L258.9 959.4L258.1 958.5" fill="none" stroke="#20b0c0" stroke-width="0.7" stroke-opacity=".65"/>
<path d="M258.1 958.5L257.6 957.4L256.5 956.8L255.5 956.1L254.4 955.6L253.3 955.7L252.5 956.7L251.3 956.7L250.1 956.5L249.6 955.4L248.6 954.8L247.4 954.9L246.2 954.9L245.5 956.0L245.4 957.2L245.1 958.3L244.9 959.5L243.9 960.1L245.0 959.7L246.2 959.7L247.4 959.9L248.2 960.7L249.3 961.3L250.3 960.6L251.4 961.1L251.9 962.2L253.1 962.5L254.1 961.9L254.5 960.8" fill="none" stroke="#30c040" stroke-width="0.7" stroke-opacity=".65"/>
<path d="M254.5 960.8L255.3 959.9L255.2 958.7L254.1 958.2L253.0 957.7L252.1 958.4L251.6 959.5L251.5 960.7L252.1 961.8L253.3 961.7L254.3 961.0L254.8 959.9L254.9 958.7L254.7 957.6L254.1 956.5L253.2 955.7L252.1 956.1L251.0 955.6L250.3 954.6L249.6 953.7L248.4 953.9L247.5 954.7L246.3 954.6L245.1 954.6L244.1 955.3L242.9 955.2L242.2 954.2L241.0 954.1L239.9 953.9" fill="none" stroke="#c0c020" stroke-width="0.7" stroke-opacity=".65"/>
<path d="M239.9 953.9L241.0 954.2L242.0 953.6L242.7 952.5L243.6 951.7L244.7 951.3L245.9 951.2L247.1 951.5L248.2 951.4L248.9 950.4L248.3 949.3L248.5 948.1L249.6 947.5L250.7 947.9L251.7 947.3L252.9 947.3L253.8 946.5L254.4 945.5L254.2 944.3L255.0 943.3L256.1 943.1L257.2 943.6L258.3 943.9L258.8 945.1L259.7 945.8L260.5 946.7L260.9 947.9L261.8 948.6L263.0 949.0" fill="none" stroke="#e07020" stroke-width="0.7" stroke-opacity=".65"/>
<ellipse cx="252" cy="936.1" rx="11.2" ry="4.9" fill="url(#hl)"/>
<circle cx="318" cy="767" r="20" fill="url(#g71)"/>
<circle cx="318" cy="767" r="19.5" fill="none" stroke="url(#rim)" stroke-width="1"/>
<path d="M314.8 769.8L315.9 770.2L317.1 770.0L318.3 770.3L319.4 770.8L320.4 771.4L320.7 772.6L320.4 773.7L320.8 774.9L321.1 776.0L322.1 776.7L323.3 776.7L324.1 775.8L324.0 774.6L323.5 773.6L323.9 772.5L324.7 771.6L324.5 770.4L323.7 769.5L323.0 768.5L322.4 767.5L321.2 767.5L320.4 768.4L319.6 769.2L318.5 769.8L318.4 771.0L317.6 771.9L317.4 773.1L317.0 774.2" fill="none" stroke="#2050e0" stroke-width="0.7" stroke-opacity=".65"/>
<path d="M317.0 774.2L316.5 775.3L316.4 776.5L315.3 777.1L314.5 777.9L313.7 778.9L312.9 779.8L314.1 779.7L313.5 778.7L313.5 777.5L313.6 776.3L314.2 775.3L315.2 774.5L316.3 774.9L316.6 776.0L316.2 777.2L316.5 778.3L316.6 779.5L316.9 780.7L316.0 779.9L315.8 778.7L314.9 777.9L314.4 776.8L313.9 775.7L313.3 774.7L313.2 773.5L313.6 772.4L314.8 772.2L315.5 773.3" fill="none" stroke="#20b0c0" stroke-width="0.7" stroke-opacity=".65"/>
<path d="M315.5 773.3L315.4 774.4L315.9 775.5L316.0 776.7L316.1 777.9L315.1 778.7L314.3 779.5L314.8 778.5L314.2 777.5L313.4 776.5L312.8 775.5L311.8 774.9L310.6 775.2L309.5 775.6L309.1 776.8L309.6 777.9L309.0 776.8L308.1 776.1L307.1 775.3L306.3 774.5L307.3 775.1L308.5 774.7L308.7 773.5L309.1 772.4L310.3 772.2L311.2 771.4L311.8 770.4L312.0 769.2L312.8 768.3" fill="none" stroke="#30c040" stroke-width="0.7" stroke-opacity=".65"/>
<path d="M312.8 768.3L313.6 767.4L314.7 767.1L315.0 765.9L314.4 764.9L313.3 764.5L312.1 764.4L310.9 764.6L309.8 765.0L308.8 764.3L307.8 763.8L306.8 763.0L306.7 764.2L306.2 765.3L305.5 766.3L306.7 766.0L307.7 765.4L307.6 764.2L308.6 763.5L309.6 762.9L310.8 762.5L311.1 761.3L312.0 760.5L312.6 759.5L313.5 758.7L313.0 759.8L311.9 760.1L310.9 760.8L310.3 761.8" fill="none" stroke="#c0c020" stroke-width="0.7" stroke-opacity=".65"/>
<path d="M310.3 761.8L309.1 762.0L308.3 762.9L308.0 764.1L307.7 765.2L306.5 765.6L306.0 766.7L306.3 767.8L305.7 768.9L306.3 770.0L307.0 770.9L307.1 772.1L306.6 773.2L307.6 772.6L307.9 771.5L309.0 770.9L309.8 770.0L311.0 769.9L312.2 769.7L313.1 770.5L314.1 771.2L315.3 771.3L316.2 770.6L317.1 769.8L317.0 768.6L316.2 767.8L316.1 766.6L316.3 765.4L317.3 764.7" fill="none" stroke="#e07020" stroke-width="0.7" stroke-opacity=".65"/>
<ellipse cx="318" cy="754.1" rx="11.2" ry="4.9" fill="url(#hl)"/>
<circle cx="439" cy="756" r="20" fill="url(#g72)"/>
<circle cx="439" cy="756" r="19.5" fill="none" stroke="url(#rim)" stroke-width="1"/>
<path d="M436.2 756.9L435.6 757.9L435.6 759.1L434.7 759.9L433.5 760.1L432.3 760.2L431.1 760.1L430.4 759.2L430.7 758.0L431.3 757.0L430.8 755.9L431.2 754.8L430.8 753.7L429.8 753.0L428.6 753.2L427.4 753.4L428.6 753.4L429.8 753.3L431.0 753.2L431.8 752.2L432.8 751.7L434.0 751.3L434.8 750.5L436.0 750.4L436.7 751.4L436.4 752.5L435.2 752.8L434.8 753.9L434.6 755.1L434.5 756.3L435.1 757.3L435.0 758.5L434.1 759.3L433.9 760.4L433.7 761.6L432.6 762.1L431.5 761.5L430.4 761.1L429.4 761.7L428.4 762.4L427.4 763.0L428.6 763.1L429.5 762.4L430.1 761.3L431.3 761.3L431.8 760.2L432.5 759.2L432.3 758.1L432.7 756.9L432.9 755.8L434.0 755.2L434.6 754.2L435.8 753.9L436.6 753.0L436.3 751.9L435.2 751.4L434.1 752.0L433.3 752.8L432.1 752.5L430.9 752.6L429.8 752.1L428.8 752.8L427.8 753.4L426.8 754.0L426.5 755.1L426.1 756.2L425.7 757.4L425.9 758.6L426.6 757.6L427.6 757.0L427.8 755.8L427.1 754.9L428.3 754.8L429.3 754.1L430.4 753.7L431.3 754.5L431.1 755.7L430.1 756.4L429.9 757.6L429.0 758.4L427.9 758.6L426.7 758.9L425.9 758.0L426.5 759.1L427.7 759.3L428.8 758.8L429.2 757.7L429.8 756.7L430.7 755.9L431.9 756.0L432.6 755.0L432.0 754.0L432.6 752.9L432.6 751.7L432.1 750.7L432.4 749.5L431.8 748.5L431.7 749.7L430.7 750.4L429.6 751.0L428.5 751.2L428.2 752.4L427.6 753.5L426.8 754.3L428.0 754.1L429.1 753.8L429.7 752.8L429.6 751.6L429.9 750.4L430.7 751.3L431.9 751.4L432.9 750.8L434.1 750.9L435.3 751.2L436.5 751.1L437.2 752.1L437.7 753.1L438.7 753.8L439.7 754.5L439.8 755.7L440.3 756.8L440.9 757.8L441.3 759.0L440.5 759.9L439.5 760.5L439.2 761.7L438.6 762.7L438.5 763.9L438.4 765.1L437.9 766.2L438.5 767.2L439.1 768.2L440.1 768.9L439.3 768.0L439.3 766.8L439.1 765.6L439.4 764.5L439.0 763.3L438.2 762.5L437.3 761.6L436.5 760.7" fill="none" stroke="#c03060" stroke-width="0.7" stroke-opacity=".65"/>
<ellipse cx="439" cy="743.1" rx="11.2" ry="4.9" fill="url(#hl)"/>
<circle cx="331" cy="819" r="20" fill="url(#g17)"/>
<circle cx="331" cy="819" r="19.5" fill="none" stroke="url(#rim)" stroke-width="1"/>
<path d="M328.8 821.6L327.6 822.0L326.9 822.9L325.7 823.0L324.8 822.2L325.0 821.0L324.5 819.9L323.4 819.6L322.3 819.0L321.3 819.7L320.1 819.3L319.2 818.6L318.0 818.3L319.2 818.5L320.2 819.1L321.4 818.9L322.5 818.3L323.6 818.5L324.7 819.1L325.6 819.9L326.7 819.8L327.6 818.9L327.9 817.8L327.1 816.9L326.6 815.8L326.3 814.7L327.0 813.7L327.8 812.9L329.0 813.0" fill="none" stroke="#2050e0" stroke-width="0.7" stroke-opacity=".65"/>
<path d="M329.0 813.0L330.2 813.1L331.4 813.2L332.5 812.7L333.6 812.1L334.6 812.7L335.7 813.2L336.7 812.5L337.4 811.5L337.4 812.7L337.2 813.9L336.9 815.1L336.7 816.3L335.6 816.8L334.4 816.6L333.5 817.5L333.8 818.6L333.6 819.8L333.1 820.9L332.3 821.8L331.5 822.7L331.8 823.8L332.2 824.9L331.8 826.0L331.1 827.0L331.6 828.1L332.7 828.5L333.2 829.7L333.5 830.8" fill="none" stroke="#20b0c0" stroke-width="0.7" stroke-opacity=".65"/>
<path d="M333.5 830.8L334.5 831.5L333.9 830.4L334.3 829.3L335.4 828.9L336.6 828.8L337.6 829.5L338.8 829.2L339.9 828.8L338.7 828.4L337.5 828.4L336.7 829.3L335.5 829.3L334.4 828.8L333.5 829.5L333.5 830.7L333.4 831.9L332.3 832.5L333.5 832.2L332.5 831.5L331.4 831.9L330.2 832.0L331.0 831.1L331.5 830.0L331.0 828.9L330.5 827.8L329.3 827.7L328.3 827.1L327.4 826.3" fill="none" stroke="#30c040" stroke-width="0.7" stroke-opacity=".65"/>
<path d="M327.4 826.3L327.5 825.1L328.3 824.2L328.0 823.0L328.7 822.0L329.4 821.0L330.6 821.1L331.8 821.2L332.6 820.2L333.7 819.7L334.2 818.6L335.4 818.5L336.6 818.5L337.3 819.5L338.1 820.4L339.2 821.0L340.0 821.9L340.3 823.0L340.7 824.1L341.6 824.9L342.6 825.6L342.0 824.5L340.9 824.0L339.7 824.4L338.6 824.9L337.4 824.9L336.7 825.9L336.6 827.1L335.5 827.6" fill="none" stroke="#c0c020" stroke-width="0.7" stroke-opacity=".65"/>
<path d="M335.5 827.6L334.8 828.5L333.7 829.0L332.9 829.8L333.0 831.0L333.2 832.2L333.9 831.2L335.1 830.9L335.4 829.7L336.2 828.8L337.2 828.2L338.2 827.5L339.3 827.2L340.5 826.9L341.2 826.0L342.3 825.4L342.6 824.3L342.5 823.1L343.2 822.1L344.0 821.3L343.2 822.1L342.0 822.5L340.9 822.8L339.9 823.5L338.8 824.0L338.7 825.2L339.0 826.4L340.2 826.7L340.4 827.9" fill="none" stroke="#e07020" stroke-width="0.7" stroke-opacity=".65"/>
<ellipse cx="331" cy="806.1" rx="11.2" ry="4.9" fill="url(#hl)"/>
<circle cx="448" cy="806" r="10" fill="url(#g73)"/>
<circle cx="448" cy="806" r="9.5" fill="none" stroke="url(#rim)" stroke-width="1"/>
<ellipse cx="448" cy="799.55" rx="5.6" ry="2.45" fill="url(#hl)"/>
<circle cx="369" cy="871" r="10" fill="url(#g74)"/>
<circle cx="369" cy="871" r="9.5" fill="none" stroke="url(#rim)" stroke-width="1"/>
<ellipse cx="369" cy="864.55" rx="5.6" ry="2.45" fill="url(#hl)"/>
<circle cx="487" cy="858" r="10" fill="url(#g1)"/>
<circle cx="487" cy="858" r="9.5" fill="none" stroke="url(#rim)" stroke-width="1"/>
<ellipse cx="487" cy="851.55" rx="5.6" ry="2.45" fill="url(#hl)"/>
<circle cx="369" cy="923" r="20" fill="url(#g75)"/>
<circle cx="369" cy="923" r="19.5" fill="none" stroke="url(#rim)" stroke-width="1"/>
<path d="M372.3 924.9L372.0 926.1L372.3 927.3L371.9 928.4L371.1 929.3L370.1 929.9L368.9 930.0L367.9 930.7L366.7 930.5L365.6 930.3L364.7 929.4L364.7 928.2L364.1 927.2L363.2 926.3L362.2 925.7L361.1 926.2L360.0 925.7L359.2 924.9L358.3 924.0L357.6 923.1L357.8 921.9L356.9 921.0L358.0 921.6L358.7 922.5L359.4 923.5L360.1 924.5L361.2 924.9L362.4 924.7L363.6 924.9L364.8 924.7L365.6 925.6L365.5 926.8L364.4 927.3L363.7 928.2L362.9 929.2L363.1 930.3L363.7 931.4L364.9 931.6L366.1 931.7L366.6 932.8L366.4 934.0L366.6 935.2L367.3 936.1L367.7 935.0L366.9 934.1L367.0 932.9L367.9 932.1L367.8 930.9L368.8 930.2L369.9 929.8L370.9 929.1L371.8 928.3L372.8 927.7L373.9 927.2L375.0 927.6L375.4 928.7L376.2 929.6L377.4 929.3L378.5 929.8L379.4 930.6L380.0 931.6L378.8 931.5L378.0 932.4L376.8 932.3L375.7 932.6L374.5 933.0L373.6 932.2L372.4 932.1L371.3 931.7L370.3 932.3L369.3 932.9L368.1 932.8L367.1 933.6L365.9 933.8L365.2 932.8L365.3 931.6L366.0 930.7L367.2 930.8L368.2 931.5L369.2 932.2L369.4 933.4L368.8 934.5L367.9 935.3L366.8 935.8L367.4 934.7L367.5 933.5L367.1 932.4L367.7 931.3L368.8 930.8L369.5 929.8L370.7 930.0L371.5 929.2L371.3 928.0L370.6 927.0L369.4 926.9L368.9 925.9L368.0 925.0L366.9 924.5L366.6 923.3L366.3 922.1L366.4 920.9L366.3 919.7L366.2 918.6L367.1 917.8L367.5 916.7L368.0 915.6L368.4 914.4L367.9 913.3L369.1 913.8L370.2 914.2L370.8 915.3L371.5 916.2L372.7 916.1L373.5 917.1L374.7 917.2L375.4 918.1L376.6 918.1L377.7 918.4L378.8 917.8L378.2 918.8L377.8 919.9L376.8 920.7L376.0 921.5L375.3 922.5L374.9 923.6L374.4 924.7L374.4 925.9L373.5 926.6L373.2 927.8L373.8 928.8L374.3 929.9L375.1 930.8L375.5 931.9L376.6 932.3L377.6 933.0L376.4 932.6L376.1 931.4L375.3 930.5L374.4 929.7L373.3 929.3L372.2 928.9" fill="none" stroke="#8a6ad0" stroke-width="0.7" stroke-opacity=".65"/>
<ellipse cx="369" cy="910.1" rx="11.2" ry="4.9" fill="url(#hl)"/>
<circle cx="486" cy="910" r="20" fill="url(#g40)"/>
<circle cx="486" cy="910" r="19.5" fill="none" stroke="url(#rim)" stroke-width="1"/>
<path d="M484.2 912.0L483.1 912.1L482.0 912.8L481.1 913.5L480.0 914.1L478.8 914.2L477.7 913.8L476.5 913.7L475.7 914.5L475.7 915.7L476.6 916.5L477.8 916.5L478.8 915.8L479.9 915.5L480.9 914.7L482.0 915.0L483.2 914.6L483.9 913.7L483.9 912.5L483.0 911.6L482.5 910.5L482.2 909.4L481.4 908.5L481.3 907.3L481.6 906.2L481.8 905.0L482.2 903.9L483.0 903.0L483.6 902.0L483.3 900.8L484.0 901.8L483.5 902.9L483.4 904.1L483.0 905.2L483.6 906.3L483.5 907.5L482.5 908.2L481.8 909.2L481.5 910.3L481.0 911.5L481.3 912.6L482.1 913.5L483.3 913.4L484.5 913.8L485.6 914.2L485.8 915.4L485.0 916.2L483.8 916.1L483.2 915.1L483.4 913.9L482.5 913.1L481.3 913.2L480.7 912.2L480.9 911.0L481.5 910.0L482.3 909.1L483.0 908.1L483.5 907.0L483.1 905.9L482.8 904.7L482.0 903.8L480.8 903.8L480.0 902.9L479.3 901.9L479.0 903.1L479.3 904.3L479.3 905.5L479.9 906.5L479.7 907.7L480.2 908.8L480.4 910.0L480.4 911.2L480.8 912.3L482.0 912.6L483.1 912.8L484.3 913.2L485.0 914.2L486.1 914.6L487.2 914.1L488.1 913.3L489.3 913.1L490.2 912.3L491.3 911.9L491.4 910.7L490.5 909.8L490.1 908.7L489.7 907.6L488.6 907.1L487.5 906.8L487.1 905.6L486.5 904.6L486.1 903.5L485.4 902.5L484.8 901.5L483.6 901.5L484.4 902.4L485.0 903.4L485.9 904.1L487.1 904.4L488.2 903.8L489.2 904.4L489.6 905.5L490.3 906.5L490.8 907.6L491.1 908.7L492.1 909.4L493.2 909.0L494.4 909.1L495.4 908.4L496.4 907.9L496.5 906.7L495.5 906.1L494.3 906.3L493.1 906.1L492.0 905.6L491.9 904.4L492.2 903.3L492.6 902.1L493.4 903.0L493.1 904.2L492.8 905.3L491.8 906.0L491.8 907.2L491.0 908.1L490.2 909.0L490.2 910.2L490.3 911.4L491.4 911.9L492.3 912.7L493.5 912.8L494.6 913.3L495.8 913.1L496.9 913.3L498.0 913.8L498.7 914.8L498.3 915.9L498.2 914.7L498.5 913.6L498.6 912.4L497.7 913.1L496.5 913.0" fill="none" stroke="#8a6ad0" stroke-width="0.7" stroke-opacity=".65"/>
<ellipse cx="486" cy="897.1" rx="11.2" ry="4.9" fill="url(#hl)"/>
<circle cx="564" cy="767" r="20" fill="url(#g76)"/>
<circle cx="564" cy="767" r="19.5" fill="none" stroke="url(#rim)" stroke-width="1"/>
<path d="M566.1 768.6L565.1 769.3L564.0 768.8L563.8 767.6L563.3 766.5L563.5 765.4L564.2 764.4L565.3 764.1L566.4 764.6L567.6 765.0L568.8 765.1L569.6 766.0L570.2 767.0L570.6 768.1L570.1 769.2L570.8 770.2L572.0 770.1L573.2 769.9L573.8 768.8L574.9 768.5L575.3 767.4L576.5 766.9L575.8 767.9L576.0 769.1L575.6 770.2L574.8 771.1L574.2 772.1L573.4 773.0L572.5 773.8L571.3 773.5L570.2 773.1L569.1 772.6L567.9 772.3L566.7 772.2L565.7 771.6L564.6 771.9L563.4 771.8L562.8 770.8L562.8 769.6L563.0 768.4L562.7 767.2L561.7 766.6L560.6 767.1L559.4 767.5L558.4 766.9L558.1 765.7L557.2 765.0L556.7 763.9L557.0 762.7L557.3 761.6L558.4 761.0L558.8 759.8L558.7 758.6L558.7 759.8L558.1 760.9L557.7 762.0L557.7 763.2L556.9 764.0L556.3 765.1L555.9 766.2L556.2 767.4L556.5 768.5L556.3 769.7L556.5 770.9L556.2 772.1L556.0 773.2L556.9 774.0L556.7 775.2L557.1 776.3L557.4 777.5L556.5 778.3L556.7 777.2L555.8 776.3L554.6 776.2L555.6 775.5L556.8 775.6L558.0 775.8L558.7 774.9L559.0 773.7L559.3 772.5L558.7 771.5L557.8 770.7L557.8 769.5L557.6 768.3L556.8 767.5L556.2 766.4L555.0 766.2L553.9 765.9L552.9 765.2L551.7 765.6L552.9 765.3L553.9 764.6L555.0 764.5L556.2 764.7L556.8 765.7L557.2 766.9L558.2 767.5L559.4 767.4L560.5 767.8L561.1 768.8L562.3 768.9L563.5 768.8L564.5 768.1L565.4 767.4L566.6 767.6L567.8 767.9L568.6 768.8L568.8 770.0L569.5 770.9L570.0 772.0L570.7 773.0L571.5 773.9L572.2 774.8L572.6 776.0L573.6 776.6L573.3 775.4L572.3 774.8L571.1 774.6L570.3 773.7L570.8 772.6L570.9 771.4L572.0 770.9L572.1 769.7L573.2 769.1L573.7 768.0L573.0 767.0L573.0 765.8L572.1 765.0L571.9 763.8L570.7 763.5L569.7 764.1L568.9 765.0L569.2 766.2L569.5 767.3L570.2 768.3L570.3 769.5L570.4 770.7L569.4 771.4L568.2 771.3L567.3 772.0L566.1 771.6" fill="none" stroke="#a0501e" stroke-width="0.7" stroke-opacity=".65"/>
<ellipse cx="564" cy="754.1" rx="11.2" ry="4.9" fill="url(#hl)"/>
<circle cx="676" cy="801" r="20" fill="url(#g77)"/>
<circle cx="676" cy="801" r="19.5" fill="none" stroke="url(#rim)" stroke-width="1"/>
<path d="M679.2 802.4L678.1 803.0L677.4 804.0L677.4 805.2L678.2 806.1L678.7 807.2L679.5 808.1L679.8 809.3L679.8 810.5L679.1 811.4L679.4 812.6L678.8 813.6L679.4 812.6L680.3 811.8L680.6 810.6L681.4 809.7L681.9 808.6L682.9 807.9L684.0 807.4L684.4 806.3L684.3 805.1L684.9 804.0L684.2 803.1L683.9 801.9L683.6 800.7L683.9 799.6L683.8 798.4L683.6 797.2L683.4 796.0L683.8 794.9L683.1 793.9L682.5 792.9L681.4 792.3L682.3 793.1L681.2 792.9L680.1 793.5L679.6 794.6L678.4 794.9L677.4 795.5L676.2 795.1L675.4 794.2L674.3 793.9L673.2 793.4L672.2 794.1L671.1 793.8L670.1 793.1L668.9 793.4L670.1 793.1L671.3 792.9L672.4 793.0L673.6 792.6L674.6 793.3L675.4 794.2L676.6 794.1L677.6 794.8L677.7 796.0L678.3 797.0L678.4 798.2L677.6 799.1L676.4 799.1L675.7 800.1L674.6 800.4L673.7 801.2L672.5 801.3L671.4 801.0L670.2 800.7L669.7 799.7L669.9 798.5L671.1 798.1L672.0 798.9L672.7 799.9L672.9 801.1L672.7 802.2L672.7 803.4L672.7 804.6L672.7 805.8L673.4 806.8L674.5 807.3L674.9 808.4L674.5 809.5L673.6 810.4L672.5 810.8L671.3 811.2L670.1 811.4L669.0 811.1L668.2 812.0L668.8 811.0L670.0 811.1L671.0 810.4L671.9 809.6L671.9 808.4L671.2 807.4L671.4 806.2L670.4 805.5L670.1 804.3L670.6 803.2L671.7 802.8L672.5 801.9L673.7 801.9L674.9 801.7L676.0 801.3L676.9 802.0L677.8 802.8L678.3 803.9L679.4 804.3L680.3 803.5L680.6 802.3L679.9 801.3L680.1 800.1L679.5 799.0L680.2 798.0L681.2 797.3L681.5 796.2L682.3 795.3L682.7 794.2L682.2 795.3L682.9 796.3L682.6 797.5L681.7 798.3L680.7 798.9L679.5 799.1L678.5 799.7L678.2 800.8L678.3 802.0L677.8 803.1L677.2 804.1L677.5 805.3L678.4 806.1L679.4 806.9L680.5 806.4L680.7 805.2L680.8 804.0L680.0 803.1L680.1 801.9L679.4 801.0L679.2 799.8L679.8 798.8L679.9 797.6L680.1 796.4L681.2 796.1L682.4 796.0" fill="none" stroke="#8a6ad0" stroke-width="0.7" stroke-opacity=".65"/>
<ellipse cx="676" cy="788.1" rx="11.2" ry="4.9" fill="url(#hl)"/>
<circle cx="599" cy="877" r="20" fill="url(#g76)"/>
<circle cx="599" cy="877" r="19.5" fill="none" stroke="url(#rim)" stroke-width="1"/>
<path d="M598.1 880.9L597.0 881.4L596.3 882.4L595.8 883.5L595.7 884.7L595.2 885.8L594.1 886.2L592.9 886.1L591.9 886.7L590.9 886.2L590.2 885.2L589.5 884.2L589.7 883.1L588.9 882.1L588.4 881.1L588.5 879.9L589.4 879.0L590.4 878.5L590.7 877.3L590.8 876.1L590.4 875.0L590.2 873.8L589.8 872.7L589.2 871.6L589.7 872.8L589.9 873.9L589.2 874.9L588.9 876.1L589.3 877.2L590.3 877.8L591.5 877.5L592.5 878.1L592.7 879.3L593.7 879.9L594.9 880.2L595.3 881.4L594.9 882.5L593.7 882.6L593.0 881.6L592.0 881.0L590.9 881.5L590.2 882.5L589.5 883.5L590.1 884.6L591.1 885.2L592.1 885.8L592.9 886.7L594.0 886.9L595.0 886.1L595.6 885.1L595.1 884.0L594.0 883.6L592.9 884.2L591.8 884.0L591.1 883.0L589.9 883.0L588.9 882.3L588.7 881.2L588.9 880.0L588.5 878.8L589.0 877.7L588.5 876.7L587.3 876.6L586.7 875.5L587.8 876.1L588.0 877.2L587.6 878.4L588.3 879.3L589.5 879.4L590.6 879.8L591.7 879.3L592.9 879.2L594.0 879.6L595.2 879.3L596.3 878.9L597.0 878.0L598.2 877.8L599.4 878.0L600.4 878.6L601.2 879.5L602.4 879.4L603.3 880.2L603.6 881.4L603.8 882.5L603.8 883.7L603.8 884.9L603.2 886.0L602.5 886.9L602.4 888.1L602.2 889.3L601.6 888.2L600.4 888.2L599.2 888.1L598.5 887.2L598.2 886.0L597.3 885.3L596.4 884.4L595.7 883.5L595.1 882.4L594.5 881.4L593.9 880.4L593.7 879.2L594.5 878.3L595.3 877.4L596.5 877.2L597.7 877.4L598.6 876.7L599.1 875.6L599.1 874.4L598.7 873.2L598.3 872.1L597.4 871.3L597.8 870.1L598.7 869.3L599.3 868.3L600.2 867.6L601.4 868.0L600.3 868.5L599.1 868.6L598.3 867.7L599.3 868.4L599.5 869.6L598.9 870.6L598.7 871.8L599.5 872.7L599.4 873.9L599.6 875.1L600.2 876.2L600.9 877.2L601.0 878.4L600.1 879.2L598.9 879.1L598.0 878.3L596.8 878.3L595.7 878.6L595.4 879.8L595.9 880.8L596.8 881.7L598.0 881.7L599.2 881.8L600.0 880.9" fill="none" stroke="#a0501e" stroke-width="0.7" stroke-opacity=".65"/>
<ellipse cx="599" cy="864.1" rx="11.2" ry="4.9" fill="url(#hl)"/>
<circle cx="775" cy="906" r="20" fill="url(#g78)"/>
<circle cx="775" cy="906" r="19.5" fill="none" stroke="url(#rim)" stroke-width="1"/>
<path d="M776.2 906.5L775.8 907.6L775.8 908.8L776.8 909.4L777.1 910.5L776.8 911.7L775.7 912.2L775.0 913.2L774.9 914.4L774.2 915.4L774.5 916.6L773.6 917.4L772.5 917.9L771.4 918.3L771.7 917.1L771.5 916.0L771.0 914.8L771.8 913.9L771.6 912.7L771.7 911.5L770.9 910.7L771.1 909.5L771.9 908.7L773.1 908.5L774.2 909.0L775.4 908.6L776.1 907.7L775.8 906.6L775.5 905.4L774.5 904.9L773.3 905.1L772.6 906.1L771.4 906.1L770.4 905.4L769.2 905.3L768.8 904.2L767.7 903.7L766.6 904.1L765.6 904.8L764.4 904.7L763.6 905.6L762.4 905.8L763.6 905.7L764.6 906.3L765.8 906.6L766.6 905.7L766.5 904.5L766.9 903.4L767.3 902.3L768.3 901.6L768.7 900.5L768.5 899.3L767.6 898.5L767.7 899.7L767.2 900.8L767.6 901.9L767.4 903.1L768.4 903.8L769.4 904.5L770.5 904.6L771.5 905.4L772.0 906.5L772.0 907.7L772.8 908.6L774.0 908.4L775.1 908.7L776.1 909.4L777.2 908.8L778.3 909.2L778.8 910.3L779.6 911.2L780.4 912.1L780.8 913.2L780.1 914.2L779.2 914.9L778.2 915.6L777.0 915.7L775.8 915.7L775.2 916.8L774.5 917.8L774.1 918.9L774.1 917.7L773.9 916.5L773.0 915.7L771.9 915.2L771.2 914.3L771.4 913.1L771.5 911.9L772.4 911.1L772.4 909.9L772.4 908.7L773.1 907.7L774.2 907.3L775.2 906.6L775.5 905.5L776.6 905.1L777.8 905.0L779.0 905.3L780.2 905.2L780.9 904.2L781.7 903.3L782.4 902.3L783.6 902.2L784.7 902.4L785.6 903.3L786.3 904.2L786.4 905.4L787.3 906.2L787.1 907.4L786.6 908.5L785.9 909.5L786.0 910.7L787.0 911.3L786.4 910.3L786.4 909.1L786.8 908.0L786.5 906.8L786.3 905.6L786.7 904.5L787.4 903.6L786.2 903.6L785.5 904.5L784.3 904.9L784.1 906.1L783.6 907.1L782.9 908.1L783.4 909.3L784.0 910.3L784.3 911.4L783.6 912.4L784.0 913.6L784.3 914.7L783.9 915.8L783.4 914.8L783.8 913.7L785.0 913.4L786.0 912.7L786.4 911.6L785.9 910.5L784.8 909.9L783.7 909.5" fill="none" stroke="#c055b0" stroke-width="0.7" stroke-opacity=".65"/>
<ellipse cx="775" cy="893.1" rx="11.2" ry="4.9" fill="url(#hl)"/>
<circle cx="672" cy="967" r="20" fill="url(#g10)"/>
<circle cx="672" cy="967" r="19.5" fill="none" stroke="url(#rim)" stroke-width="1"/>
<path d="M673.7 970.6L673.4 969.4L673.0 968.3L672.9 967.1L671.9 966.6L670.7 966.3L669.9 967.1L669.9 968.3L669.1 969.3L669.4 970.5L670.1 971.4L670.7 972.4L671.3 973.5L672.5 973.5L673.3 972.6L674.4 972.1L675.4 971.4L675.4 970.2L675.3 969.0L675.0 967.8L675.8 967.0L675.6 965.8L674.6 965.1L673.5 965.4L672.3 965.6L671.5 964.7L671.4 963.5L670.4 962.8L669.5 962.0L668.4 961.6L668.2 960.4L668.6 959.3L669.2 958.2L669.2 959.4L669.3 960.6L669.4 961.8L669.8 963.0L670.1 964.1L671.1 964.7L672.3 965.0L672.5 966.2L673.0 967.3L673.5 968.4L673.3 969.6L672.4 970.4L671.2 970.6L670.2 971.2L669.0 971.2L668.0 972.0L666.9 972.4L666.8 973.6L667.5 974.6L668.6 975.0L669.8 974.9L670.9 975.4L671.9 974.8L673.1 975.1L674.0 974.3L675.2 974.7L675.5 975.9L675.4 977.1L674.6 978.0L673.4 977.8L672.2 977.7L671.4 976.9L670.2 977.1L669.1 976.6L668.3 975.8L668.0 974.6L667.0 974.0L665.9 974.4L664.7 974.7L663.5 974.8L662.4 974.4L661.3 974.8L662.4 974.5L663.2 975.4L664.4 975.8L665.1 976.8L664.5 977.8L665.4 977.0L666.2 976.1L666.8 975.0L667.3 974.0L666.8 972.8L665.6 972.6L664.5 972.8L663.8 973.8L662.6 973.9L661.5 974.4L660.4 973.9L661.4 974.5L661.5 975.7L662.4 974.8L663.5 974.4L664.6 973.9L665.2 972.9L665.9 971.9L666.2 970.8L667.2 970.1L667.2 968.9L667.6 967.8L667.5 966.6L667.2 965.4L667.0 964.2L668.0 963.5L669.0 964.0L670.2 964.1L670.8 965.2L670.1 966.2L669.5 967.2L668.6 968.1L668.6 969.3L667.8 970.2L667.0 971.1L665.9 971.5L664.9 970.8L664.1 969.8L663.8 968.7L663.7 967.5L662.7 966.8L661.6 966.2L660.6 966.7L660.0 967.8L658.9 967.9L660.0 967.5L660.5 966.4L660.8 965.2L660.0 964.3L660.6 965.4L661.6 966.0L662.8 965.9L664.0 966.1L664.5 967.2L665.7 967.2L666.7 967.9L667.6 968.6L668.6 969.4L669.6 970.0L670.6 969.4L671.4 968.4" fill="none" stroke="#a0501e" stroke-width="0.7" stroke-opacity=".65"/>
<ellipse cx="672" cy="954.1" rx="11.2" ry="4.9" fill="url(#hl)"/>
<circle cx="785" cy="819" r="20" fill="url(#g79)"/>
<circle cx="785" cy="819" r="19.5" fill="none" stroke="url(#rim)" stroke-width="1"/>
<path d="M785.2 819.0L786.3 818.6L787.4 819.0L788.0 820.0L787.9 821.2L787.7 822.4L787.6 823.6L786.7 824.4L786.7 825.6L787.3 826.6L788.5 826.5L789.7 826.4L790.9 826.1L791.7 827.0L791.5 828.2L791.5 829.4L791.6 830.6L790.6 829.8L790.2 828.7L789.9 827.6L788.8 827.0L788.6 825.8L787.4 825.4L786.3 825.8L785.2 826.2L784.3 825.4L783.1 825.5L782.1 826.2L780.9 826.1" fill="none" stroke="#2050e0" stroke-width="0.7" stroke-opacity=".65"/>
<path d="M780.9 826.1L779.7 826.5L778.8 825.8L777.7 826.3L777.0 827.3L776.9 828.4L775.9 829.2L776.0 828.0L776.4 826.9L777.6 826.5L778.5 827.3L778.7 828.5L779.7 829.0L780.9 829.5L782.0 829.2L782.6 828.2L782.5 827.0L783.1 825.9L783.8 824.9L783.6 823.8L782.8 822.8L781.6 822.9L780.9 821.9L780.8 820.7L780.6 819.5L781.4 818.7L782.6 819.1L783.7 818.7L784.5 817.8" fill="none" stroke="#20b0c0" stroke-width="0.7" stroke-opacity=".65"/>
<path d="M784.5 817.8L784.5 816.6L784.9 815.5L785.5 814.4L786.1 813.4L787.2 812.9L788.4 812.5L789.2 811.7L790.4 811.3L791.3 812.0L792.5 811.5L791.4 812.0L790.9 813.1L790.0 813.9L789.2 814.7L788.0 814.8L786.8 814.5L786.5 813.3L786.4 812.1L786.6 810.9L787.7 810.4L788.8 810.8L790.0 810.7L789.3 811.6L788.1 811.7L787.5 812.7L786.3 812.8L785.5 811.8L785.2 810.7" fill="none" stroke="#30c040" stroke-width="0.7" stroke-opacity=".65"/>
<path d="M785.2 810.7L785.9 809.8L785.0 810.5L783.8 810.7L782.6 810.6L781.5 811.2L781.4 812.4L780.7 813.3L780.1 814.4L780.4 815.5L780.6 816.7L781.3 817.6L782.5 818.1L782.9 819.2L783.0 820.4L782.5 821.5L781.4 822.0L780.4 822.6L779.5 823.4L778.7 824.3L778.2 825.4L777.1 826.0L776.0 825.6L774.8 825.8L773.7 825.4L774.8 825.0L775.1 823.8L775.7 822.9L776.9 822.4" fill="none" stroke="#c0c020" stroke-width="0.7" stroke-opacity=".65"/>
<path d="M776.9 822.4L777.8 821.6L778.9 822.0L779.7 822.9L780.8 823.4L781.4 824.5L781.2 825.6L781.8 826.6L781.5 827.8L781.3 829.0L781.7 830.1L782.3 831.1L782.9 832.1L782.4 831.0L781.4 830.3L780.3 830.7L779.1 830.8L778.0 830.2L777.2 829.3L776.3 828.6L776.1 827.4L775.0 827.0L773.9 827.5L774.0 826.3L774.2 825.1L774.5 824.0L774.0 822.8L773.7 821.7L772.5 821.5" fill="none" stroke="#e07020" stroke-width="0.7" stroke-opacity=".65"/>
<ellipse cx="785" cy="806.1" rx="11.2" ry="4.9" fill="url(#hl)"/>
<circle cx="983" cy="765" r="10" fill="url(#g73)"/>
<circle cx="983" cy="765" r="9.5" fill="none" stroke="url(#rim)" stroke-width="1"/>
<ellipse cx="983" cy="758.55" rx="5.6" ry="2.45" fill="url(#hl)"/>
<circle cx="902" cy="819" r="20" fill="url(#g80)"/>
<circle cx="902" cy="819" r="19.5" fill="none" stroke="url(#rim)" stroke-width="1"/>
<path d="M898.3 822.8L898.2 821.6L898.5 820.4L898.8 819.3L899.2 818.1L900.3 817.6L901.4 817.4L902.3 818.3L902.7 819.4L902.1 820.4L902.4 821.5L901.9 822.6L901.9 823.8L900.9 824.5L899.7 824.5L899.1 823.5L899.2 822.3L898.9 821.1L898.7 819.9L899.3 818.9L898.7 817.8L898.2 816.7L897.9 815.6L898.1 814.4L898.0 813.2L898.1 812.0L898.8 811.0L899.2 809.9L898.3 810.8L897.2 810.7L896.0 811.0L894.8 811.2L896.0 810.9L897.0 811.5L898.2 811.6L899.3 811.1L900.2 810.3L901.4 810.0L900.8 811.0L899.6 811.1L898.4 811.1L897.3 810.6L898.5 810.9L899.4 810.1L898.7 811.1L898.0 812.0L898.2 813.2L897.3 813.9L896.2 814.5L895.2 815.2L895.3 816.4L896.0 817.4L897.0 818.0L897.7 819.0L898.9 819.2L900.1 819.4L901.2 819.0L902.4 818.8L903.6 819.1L904.7 819.4L905.6 820.2L906.1 821.3L907.3 821.5L908.4 822.1L909.4 822.6L910.0 823.7L909.5 824.7L909.4 825.9L908.5 826.7L908.2 827.9L907.5 828.8L908.0 829.9L907.7 831.1L907.9 829.9L907.9 828.7L907.9 827.5L907.6 826.3L906.7 825.5L906.2 824.5L906.0 823.3L904.9 822.8L903.7 822.9L902.9 821.9L901.8 821.5L900.6 821.5L899.4 821.4L898.3 821.6L897.4 820.7L897.8 819.6L897.2 818.5L896.2 818.0L895.0 818.3L893.9 818.7L893.1 819.7L892.0 820.2L890.9 819.8L889.9 820.4L890.0 821.6L890.9 822.4L892.1 822.7L893.1 822.0L894.0 821.3L894.6 820.3L895.7 819.7L896.7 820.3L896.7 821.5L896.9 822.7L896.7 823.9L897.5 824.8L898.0 825.9L897.5 827.0L896.3 827.4L895.8 828.4L896.1 829.6L895.4 830.6L896.4 830.0L897.6 830.1L898.4 829.1L899.3 828.4L899.2 827.2L899.7 826.1L900.8 825.6L901.5 824.6L901.0 823.5L901.2 822.3L902.3 821.9L903.5 821.8L904.6 821.3L905.4 820.4L906.6 820.3L907.3 821.3L908.3 822.0L909.5 822.0L910.0 823.1L910.7 824.1L911.5 825.0L912.6 825.5L913.4 826.4L912.9 827.5L913.3 826.4L912.2 826.9" fill="none" stroke="#8a6ad0" stroke-width="0.7" stroke-opacity=".65"/>
<ellipse cx="902" cy="806.1" rx="11.2" ry="4.9" fill="url(#hl)"/>
<circle cx="889" cy="871" r="10" fill="url(#g81)"/>
<circle cx="889" cy="871" r="9.5" fill="none" stroke="url(#rim)" stroke-width="1"/>
<ellipse cx="889" cy="864.55" rx="5.6" ry="2.45" fill="url(#hl)"/>
<circle cx="902" cy="923" r="20" fill="url(#g80)"/>
<circle cx="902" cy="923" r="19.5" fill="none" stroke="url(#rim)" stroke-width="1"/>
<path d="M901.2 923.5L902.4 923.3L903.5 923.7L904.3 924.6L904.4 925.8L903.5 926.5L902.3 926.2L901.2 925.7L900.0 925.6L899.3 926.6L898.6 927.5L898.2 928.6L899.0 929.5L898.6 930.7L898.7 931.9L897.8 932.6L898.0 933.8L898.6 934.9L898.5 936.0L899.1 935.0L900.0 934.2L900.9 933.4L900.8 932.2L901.6 931.3L902.7 930.9L903.8 930.5L905.0 930.2L906.1 930.7L907.2 931.2" fill="none" stroke="#2050e0" stroke-width="0.7" stroke-opacity=".65"/>
<path d="M907.2 931.2L908.3 931.6L909.4 932.0L910.2 932.9L910.4 934.1L909.8 933.1L909.9 931.9L909.6 930.7L909.8 929.5L909.6 928.4L910.5 927.5L911.6 927.7L912.5 928.5L913.6 929.1L912.4 928.9L911.2 928.8L910.0 928.5L909.1 929.4L908.2 930.1L907.0 929.8L906.1 930.5L904.9 930.3L903.8 929.9L903.6 928.7L904.1 927.6L905.0 926.8L906.1 926.6L907.3 926.2L907.7 925.0" fill="none" stroke="#20b0c0" stroke-width="0.7" stroke-opacity=".65"/>
<path d="M907.7 925.0L908.8 924.6L909.9 925.0L910.6 926.0L911.8 926.3L912.9 926.7L914.1 927.0L915.3 927.1L914.1 927.1L912.9 927.2L912.2 926.2L911.8 925.1L912.6 924.2L913.8 924.2L914.7 923.5L913.5 923.6L912.4 924.0L911.2 924.1L910.0 924.1L909.0 923.5L907.8 923.3L906.7 922.8L905.6 922.5L904.8 921.6L903.9 920.7L903.4 919.7L904.2 918.7L904.4 917.5L903.4 916.8" fill="none" stroke="#30c040" stroke-width="0.7" stroke-opacity=".65"/>
<path d="M903.4 916.8L903.4 915.6L903.4 914.4L903.0 915.5L901.9 916.1L900.8 915.7L899.6 915.6L899.1 914.5L899.9 915.5L900.0 916.7L899.4 917.7L899.1 918.8L898.9 920.0L899.2 921.2L899.8 922.2L900.6 923.1L900.5 924.3L901.5 925.0L901.3 926.2L900.5 927.1L899.6 927.8L898.4 928.2L897.6 929.1L896.4 929.3L895.4 928.6L894.3 928.2L893.2 927.8L892.0 928.1L891.2 928.9" fill="none" stroke="#c0c020" stroke-width="0.7" stroke-opacity=".65"/>
<path d="M891.2 928.9L890.0 929.0L891.1 929.3L892.3 929.5L893.4 930.0L894.6 929.8L894.9 928.6L894.8 927.4L894.9 926.2L894.3 925.2L893.7 924.2L892.8 923.4L891.6 923.2L890.7 922.4L889.5 922.0L890.3 922.9L890.4 924.1L890.8 925.3L892.0 925.5L892.7 926.4L893.4 927.4L893.8 928.6L893.7 929.8L893.6 930.9L892.5 931.5L892.6 932.7L893.6 932.1L894.7 931.7L895.7 931.1" fill="none" stroke="#e07020" stroke-width="0.7" stroke-opacity=".65"/>
<ellipse cx="902" cy="910.1" rx="11.2" ry="4.9" fill="url(#hl)"/>
<g class="halo" filter="url(#blur)">
<text x="62" y="47">PROX2</text>
<text x="179" y="47">HDAC9</text>
<text x="287.2" y="56">ENSG00000237495</text>
<text x="114" y="99">TGIF1</text>
<text x="222.2" y="108">SLC6A13</text>
<text x="339.2" y="108">TCTEX1D4</text>
<text x="167" y="151">CAPN3</text>
<text x="284" y="151">DTNA</text>
<text x="210.2" y="212">RHBDF2</text>
<text x="378" y="203">DNAJA4</text>
<text x="504" y="60">PARP15</text>
<text x="504" y="112">KDM6B</text>
<text x="505" y="164">CYP2D6</text>
<text x="505" y="216">MPP2</text>
<text x="612.2" y="82">G5C</text>
<text x="738" y="60">NEDD4L</text>
<text x="621" y="125">RNASEH2A</text>
<text x="738" y="112">ACIN1</text>
<text x="730.2" y="173">MTMR11</text>
<text x="622" y="177">MVP</text>
<text x="739" y="216">IL2RG</text>
<text x="613.2" y="238">SEMA3C</text>
<text x="846.2" y="43">C4orf45</text>
<text x="846.2" y="95">OR51I2</text>
<text x="847.2" y="147">ENSG00000228883</text>
<text x="856" y="190">CYP2D7P1</text>
<text x="881" y="242">MBNL2</text>
<text x="907" y="294">ZBTB20</text>
<text x="92.2" y="251">TSSK3</text>
<text x="262.2" y="264">MIER2</text>
<text x="153" y="294">BIRC7</text>
<text x="206" y="346">ABLIM1</text>
<text x="88" y="372">TNFRSF19</text>
<text x="255" y="398">HSP72</text>
<text x="131.2" y="433">FILIP1</text>
<text x="223.2" y="485">ABCD2</text>
<text x="314.2" y="316">SLC7A9</text>
<text x="496.2" y="277">SESN2</text>
<text x="416" y="360">HSPH1</text>
<text x="530" y="323">CHORDC1</text>
<text x="500" y="439">DNAJA1</text>
<text x="648" y="285">DGKH</text>
<text x="761" y="268">PLCE1</text>
<text x="647" y="341">IQGAP3</text>
<text x="789" y="320">FOXM1</text>
<text x="759" y="372">NTF3</text>
<text x="612.2" y="425">MAP2</text>
<text x="816" y="424">KLF4</text>
<text x="851" y="373">NRG1</text>
<text x="996" y="373">KLF10</text>
<text x="934" y="424">BTBD19</text>
<text x="105.2" y="498">PRR7</text>
<text x="114" y="541">METAP2</text>
<text x="228.2" y="542">HSPB8</text>
<text x="153" y="593">MYH9</text>
<text x="271" y="593">GCM1</text>
<text x="197.2" y="654">C7orf61</text>
<text x="79.2" y="693">KCNV2</text>
<text x="339" y="522">HSPB1</text>
<text x="410" y="567">DNAJB1</text>
<text x="491" y="541">HSPA8</text>
<text x="511" y="645">PPID</text>
<text x="313" y="700">ENSG00000235941</text>
<text x="609" y="488">FOSL2</text>
<text x="701" y="513">JUNB</text>
<text x="568.2" y="549">FANCC</text>
<text x="778" y="570">FOSB</text>
<text x="617" y="613">HSPA1A</text>
<text x="734" y="646">HSBP1</text>
<text x="660" y="697">CARD16</text>
<text x="868" y="515">TFEB</text>
<text x="884.2" y="576">KCNE2</text>
<text x="872.2" y="628">C3orf15</text>
<text x="845" y="713">CXCL2</text>
<text x="166" y="730">ENSG00000215328</text>
<text x="92.2" y="784">FAM122C</text>
<text x="219" y="775">TCAP</text>
<text x="114" y="827">HOXA3</text>
<text x="223.2" y="836">SLC5A10</text>
<text x="144.2" y="888">ST20</text>
<text x="261.2" y="888">NHLH1</text>
<text x="144.2" y="940">LY6G5C</text>
<text x="270" y="931">POU6F2</text>
<text x="336" y="749">FSCN3</text>
<text x="457" y="738">HSPA1B</text>
<text x="349" y="801">CREB5</text>
<text x="457.2" y="797">SCAPER</text>
<text x="378.2" y="862">PRPH2</text>
<text x="496.2" y="849">ZNF187</text>
<text x="387" y="905">PRNP</text>
<text x="504" y="892">DST</text>
<text x="582" y="749">KLRC3</text>
<text x="694" y="783">CASP1</text>
<text x="617" y="859">KLRC2</text>
<text x="793" y="888">BCL2A1</text>
<text x="690" y="949">KLRC1</text>
<text x="803" y="801">C5AR1</text>
<text x="992.2" y="756">IL32</text>
<text x="920" y="801">DLG2</text>
<text x="898.2" y="862">RUSC2</text>
<text x="920" y="905">C12orf51</text>
</g>
</svg>
<div style="position:absolute;left:0;top:0;width:1053px;height:1012px;opacity:.999;will-change:transform">
<div class="lb" style="left:62px;top:36.69px">PROX2</div>
<div class="lb" style="left:179px;top:36.69px">HDAC9</div>
<div class="lb" style="left:287.2px;top:45.69px">ENSG00000237495</div>
<div class="lb" style="left:114px;top:88.69px">TGIF1</div>
<div class="lb" style="left:222.2px;top:97.69px">SLC6A13</div>
<div class="lb" style="left:339.2px;top:97.69px">TCTEX1D4</div>
<div class="lb" style="left:167px;top:140.69px">CAPN3</div>
<div class="lb" style="left:284px;top:140.69px">DTNA</div>
<div class="lb" style="left:210.2px;top:201.69px">RHBDF2</div>
<div class="lb" style="left:378px;top:192.69px">DNAJA4</div>
<div class="lb" style="left:504px;top:49.69px">PARP15</div>
<div class="lb" style="left:504px;top:101.69px">KDM6B</div>
<div class="lb" style="left:505px;top:153.69px">CYP2D6</div>
<div class="lb" style="left:505px;top:205.69px">MPP2</div>
<div class="lb" style="left:612.2px;top:71.69px">G5C</div>
<div class="lb" style="left:738px;top:49.69px">NEDD4L</div>
<div class="lb" style="left:621px;top:114.69px">RNASEH2A</div>
<div class="lb" style="left:738px;top:101.69px">ACIN1</div>
<div class="lb" style="left:730.2px;top:162.69px">MTMR11</div>
<div class="lb" style="left:622px;top:166.69px">MVP</div>
<div class="lb" style="left:739px;top:205.69px">IL2RG</div>
<div class="lb" style="left:613.2px;top:227.69px">SEMA3C</div>
<div class="lb" style="left:846.2px;top:32.69px">C4orf45</div>
<div class="lb" style="left:846.2px;top:84.69px">OR51I2</div>
<div class="lb" style="left:847.2px;top:136.69px">ENSG00000228883</div>
<div class="lb" style="left:856px;top:179.69px">CYP2D7P1</div>
<div class="lb" style="left:881px;top:231.69px">MBNL2</div>
<div class="lb" style="left:907px;top:283.69px">ZBTB20</div>
<div class="lb" style="left:92.2px;top:240.69px">TSSK3</div>
<div class="lb" style="left:262.2px;top:253.69px">MIER2</div>
<div class="lb" style="left:153px;top:283.69px">BIRC7</div>
<div class="lb" style="left:206px;top:335.69px">ABLIM1</div>
<div class="lb" style="left:88px;top:361.69px">TNFRSF19</div>
<div class="lb" style="left:255px;top:387.69px">HSP72</div>
<div class="lb" style="left:131.2px;top:422.69px">FILIP1</div>
<div class="lb" style="left:223.2px;top:474.69px">ABCD2</div>
<div class="lb" style="left:314.2px;top:305.69px">SLC7A9</div>
<div class="lb" style="left:496.2px;top:266.69px">SESN2</div>
<div class="lb" style="left:416px;top:349.69px">HSPH1</div>
<div class="lb" style="left:530px;top:312.69px">CHORDC1</div>
<div class="lb" style="left:500px;top:428.69px">DNAJA1</div>
<div class="lb" style="left:648px;top:274.69px">DGKH</div>
<div class="lb" style="left:761px;top:257.69px">PLCE1</div>
<div class="lb" style="left:647px;top:330.69px">IQGAP3</div>
<div class="lb" style="left:789px;top:309.69px">FOXM1</div>
<div class="lb" style="left:759px;top:361.69px">NTF3</div>
<div class="lb" style="left:612.2px;top:414.69px">MAP2</div>
<div class="lb" style="left:816px;top:413.69px">KLF4</div>
<div class="lb" style="left:851px;top:362.69px">NRG1</div>
<div class="lb" style="left:996px;top:362.69px">KLF10</div>
<div class="lb" style="left:934px;top:413.69px">BTBD19</div>
<div class="lb" style="left:105.2px;top:487.69px">PRR7</div>
<div class="lb" style="left:114px;top:530.69px">METAP2</div>
<div class="lb" style="left:228.2px;top:531.69px">HSPB8</div>
<div class="lb" style="left:153px;top:582.69px">MYH9</div>
<div class="lb" style="left:271px;top:582.69px">GCM1</div>
<div class="lb" style="left:197.2px;top:643.69px">C7orf61</div>
<div class="lb" style="left:79.2px;top:682.69px">KCNV2</div>
<div class="lb" style="left:339px;top:511.69px">HSPB1</div>
<div class="lb" style="left:410px;top:556.69px">DNAJB1</div>
<div class="lb" style="left:491px;top:530.69px">HSPA8</div>
<div class="lb" style="left:511px;top:634.69px">PPID</div>
<div class="lb" style="left:313px;top:689.69px">ENSG00000235941</div>
<div class="lb" style="left:609px;top:477.69px">FOSL2</div>
<div class="lb" style="left:701px;top:502.69px">JUNB</div>
<div class="lb" style="left:568.2px;top:538.69px">FANCC</div>
<div class="lb" style="left:778px;top:559.69px">FOSB</div>
<div class="lb" style="left:617px;top:602.69px">HSPA1A</div>
<div class="lb" style="left:734px;top:635.69px">HSBP1</div>
<div class="lb" style="left:660px;top:686.69px">CARD16</div>
<div class="lb" style="left:868px;top:504.69px">TFEB</div>
<div class="lb" style="left:884.2px;top:565.69px">KCNE2</div>
<div class="lb" style="left:872.2px;top:617.69px">C3orf15</div>
<div class="lb" style="left:845px;top:702.69px">CXCL2</div>
<div class="lb" style="left:166px;top:719.69px">ENSG00000215328</div>
<div class="lb" style="left:92.2px;top:773.69px">FAM122C</div>
<div class="lb" style="left:219px;top:764.69px">TCAP</div>
<div class="lb" style="left:114px;top:816.69px">HOXA3</div>
<div class="lb" style="left:223.2px;top:825.69px">SLC5A10</div>
<div class="lb" style="left:144.2px;top:877.69px">ST20</div>
<div class="lb" style="left:261.2px;top:877.69px">NHLH1</div>
<div class="lb" style="left:144.2px;top:929.69px">LY6G5C</div>
<div class="lb" style="left:270px;top:920.69px">POU6F2</div>
<div class="lb" style="left:336px;top:738.69px">FSCN3</div>
<div class="lb" style="left:457px;top:727.69px">HSPA1B</div>
<div class="lb" style="left:349px;top:790.69px">CREB5</div>
<div class="lb" style="left:457.2px;top:786.69px">SCAPER</div>
<div class="lb" style="left:378.2px;top:851.69px">PRPH2</div>
<div class="lb" style="left:496.2px;top:838.69px">ZNF187</div>
<div class="lb" style="left:387px;top:894.69px">PRNP</div>
<div class="lb" style="left:504px;top:881.69px">DST</div>
<div class="lb" style="left:582px;top:738.69px">KLRC3</div>
<div class="lb" style="left:694px;top:772.69px">CASP1</div>
<div class="lb" style="left:617px;top:848.69px">KLRC2</div>
<div class="lb" style="left:793px;top:877.69px">BCL2A1</div>
<div class="lb" style="left:690px;top:938.69px">KLRC1</div>
<div class="lb" style="left:803px;top:790.69px">C5AR1</div>
<div class="lb" style="left:992.2px;top:745.69px">IL32</div>
<div class="lb" style="left:920px;top:790.69px">DLG2</div>
<div class="lb" style="left:898.2px;top:851.69px">RUSC2</div>
<div class="lb" style="left:920px;top:894.69px">C12orf51</div>
</div></body></html>
